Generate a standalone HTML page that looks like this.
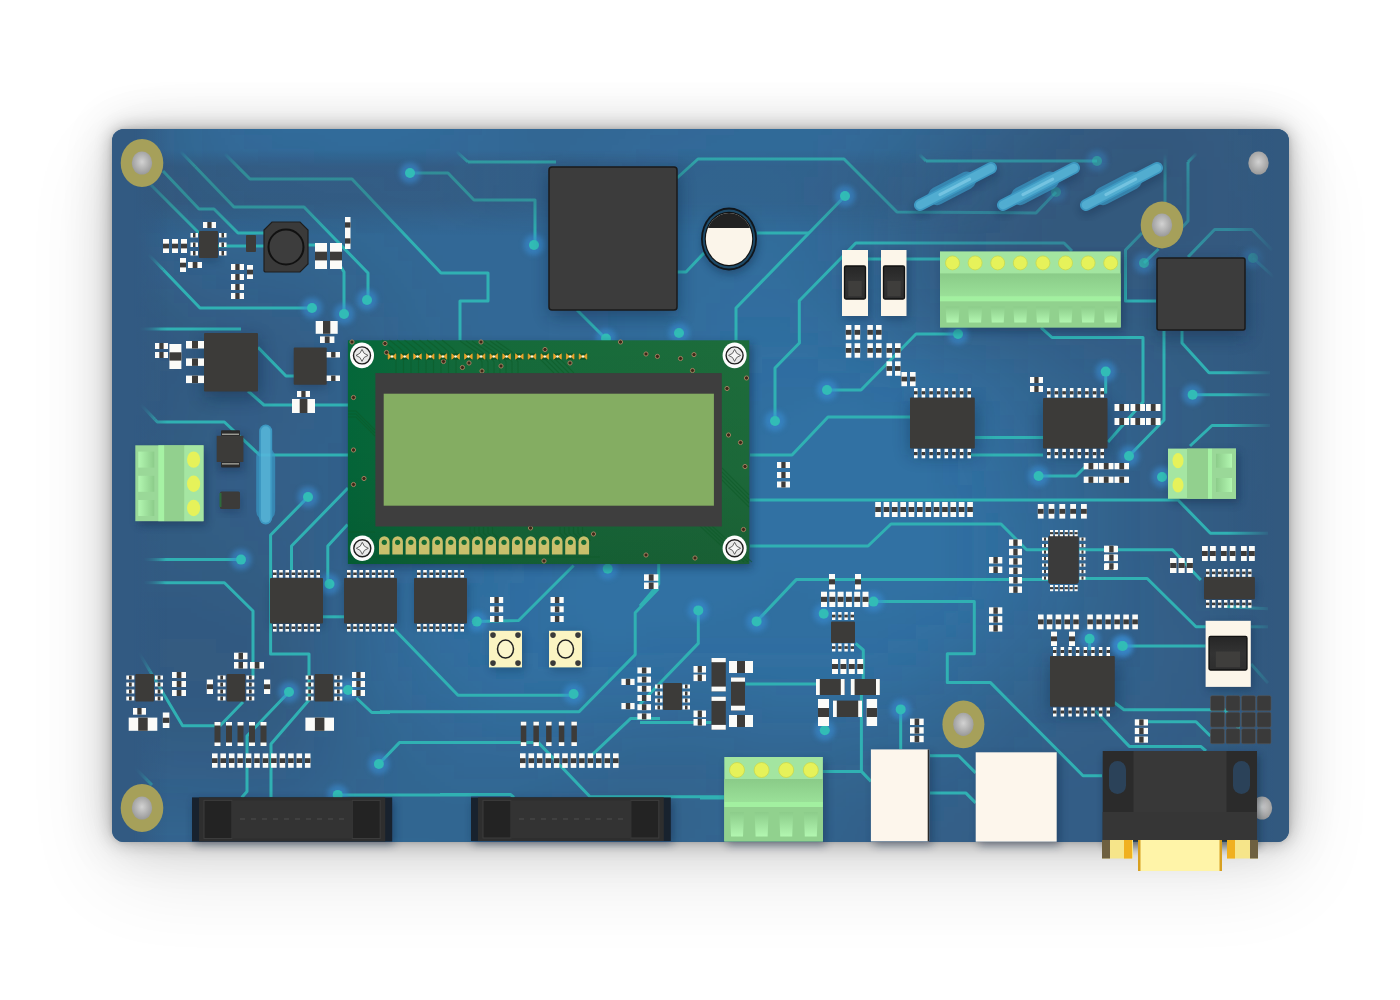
<!DOCTYPE html><html><head><meta charset="utf-8"><style>html,body{margin:0;padding:0;background:#fff;overflow:hidden;width:1400px;height:1000px;}svg{display:block}</style></head><body>
<svg width="1400" height="1000" viewBox="0 0 1400 1000">
<defs>
<filter id="glow" x="-1" y="-1" width="3" height="3"><feGaussianBlur stdDeviation="2.5"/></filter>
<filter id="blur12" x="0" y="0" width="1400" height="1000" filterUnits="userSpaceOnUse"><feGaussianBlur stdDeviation="9"/></filter>
<filter id="soft" x="-1" y="-1" width="3" height="3"><feGaussianBlur stdDeviation="0.7"/></filter>
<filter id="sh" x="-0.3" y="-0.3" width="1.6" height="1.6"><feGaussianBlur stdDeviation="4"/></filter>
<filter id="shb" x="-0.5" y="-0.5" width="2" height="2"><feGaussianBlur stdDeviation="9"/></filter>
<filter id="bsh" x="-0.2" y="-0.2" width="1.4" height="1.4"><feGaussianBlur stdDeviation="9"/></filter>
<filter id="bsh3" x="-0.3" y="-0.3" width="1.6" height="1.6"><feGaussianBlur stdDeviation="25"/></filter>
<filter id="bsh4" x="-0.3" y="-0.3" width="1.6" height="1.6"><feGaussianBlur stdDeviation="45"/></filter>
<filter id="bsh2" x="-0.2" y="-0.2" width="1.4" height="1.4"><feGaussianBlur stdDeviation="2.5"/></filter>
<radialGradient id="hole" cx="0.5" cy="0.45" r="0.55"><stop offset="0" stop-color="#d2d2d2"/><stop offset="1" stop-color="#9a9a9a"/></radialGradient>
<linearGradient id="bshade" x1="0" y1="0" x2="0" y2="1">
 <stop offset="0" stop-color="#1f4a78" stop-opacity="0.0"/>
 <stop offset="0.02" stop-color="#1f4a78" stop-opacity="0.15"/>
 <stop offset="0.12" stop-color="#1f4a78" stop-opacity="0.25"/>
 <stop offset="0.3" stop-color="#1f4a78" stop-opacity="0.0"/>
</linearGradient>
<linearGradient id="shL" x1="112" y1="0" x2="1289" y2="0" gradientUnits="userSpaceOnUse">
 <stop offset="0" stop-color="#1d3a5c" stop-opacity="0.30"/>
 <stop offset="0.04" stop-color="#1d3a5c" stop-opacity="0.14"/>
 <stop offset="0.18" stop-color="#1d3a5c" stop-opacity="0.05"/>
 <stop offset="0.35" stop-color="#1d3a5c" stop-opacity="0"/>
</linearGradient>
<linearGradient id="shR" x1="112" y1="0" x2="1289" y2="0" gradientUnits="userSpaceOnUse">
 <stop offset="0.80" stop-color="#1d3a5c" stop-opacity="0"/>
 <stop offset="0.92" stop-color="#1d3a5c" stop-opacity="0.22"/>
 <stop offset="1" stop-color="#1d3a5c" stop-opacity="0.30"/>
</linearGradient>
<linearGradient id="shT" x1="0" y1="129" x2="0" y2="842" gradientUnits="userSpaceOnUse">
 <stop offset="0" stop-color="#1d3a5c" stop-opacity="0.0"/>
 <stop offset="0.025" stop-color="#1d3a5c" stop-opacity="0.12"/>
 <stop offset="0.06" stop-color="#1d3a5c" stop-opacity="0.28"/>
 <stop offset="0.12" stop-color="#1d3a5c" stop-opacity="0.12"/>
 <stop offset="0.2" stop-color="#1d3a5c" stop-opacity="0.0"/>
</linearGradient>
<linearGradient id="fadeR" x1="1228" y1="0" x2="1289" y2="0" gradientUnits="userSpaceOnUse"><stop offset="0" stop-color="#32597f" stop-opacity="0"/><stop offset="0.75" stop-color="#32597f" stop-opacity="1"/></linearGradient>
<linearGradient id="fadeL" x1="112" y1="0" x2="167" y2="0" gradientUnits="userSpaceOnUse"><stop offset="0.4" stop-color="#325a82" stop-opacity="1"/><stop offset="1" stop-color="#325a82" stop-opacity="0"/></linearGradient>
<linearGradient id="recV" x1="0" y1="0" x2="0" y2="1"><stop offset="0" stop-color="#8ccc8a"/><stop offset="1" stop-color="#b2f6b0"/></linearGradient>
<linearGradient id="recH" x1="1" y1="0" x2="0" y2="0"><stop offset="0" stop-color="#8ccc8a"/><stop offset="1" stop-color="#b2f6b0"/></linearGradient>
<linearGradient id="recH2" x1="0" y1="0" x2="1" y2="0"><stop offset="0" stop-color="#8ccc8a"/><stop offset="1" stop-color="#b2f6b0"/></linearGradient>
<linearGradient id="tbmid" x1="0" y1="0" x2="0" y2="1"><stop offset="0" stop-color="#8acb88"/><stop offset="1" stop-color="#9ae098"/></linearGradient>
<linearGradient id="bandV" x1="0" y1="150" x2="0" y2="235" gradientUnits="userSpaceOnUse"><stop offset="0" stop-color="#34445f" stop-opacity="0"/><stop offset="0.2" stop-color="#34445f" stop-opacity="0.33"/><stop offset="0.6" stop-color="#34445f" stop-opacity="0.33"/><stop offset="1" stop-color="#34445f" stop-opacity="0"/></linearGradient>
<linearGradient id="bandH" x1="112" y1="0" x2="1012" y2="0" gradientUnits="userSpaceOnUse"><stop offset="0" stop-color="#fff"/><stop offset="0.35" stop-color="#fff"/><stop offset="0.6" stop-color="#999"/><stop offset="0.85" stop-color="#999"/><stop offset="1" stop-color="#000"/></linearGradient>
<mask id="bandmask" maskUnits="userSpaceOnUse" x="112" y="129" width="900" height="150"><rect x="112" y="129" width="900" height="150" fill="url(#bandH)"/></mask>
<mask id="trmask" maskUnits="userSpaceOnUse" x="0" y="0" width="1400" height="1000"><rect x="0" y="0" width="1400" height="1000" fill="#fff"/><ellipse cx="1090" cy="205" rx="210" ry="62" fill="#000" opacity="0.55" filter="url(#bsh3)"/></mask>
<linearGradient id="knob" x1="0" y1="0" x2="0" y2="1"><stop offset="0" stop-color="#262626"/><stop offset="0.5" stop-color="#333"/><stop offset="1" stop-color="#2e2e2e"/></linearGradient>
<linearGradient id="lcdg" x1="0" y1="0" x2="1" y2="0"><stop offset="0" stop-color="#04683a"/><stop offset="0.3" stop-color="#146a3a"/><stop offset="1" stop-color="#1d6c3b"/></linearGradient>
<linearGradient id="lcdv" x1="0" y1="0" x2="0" y2="1"><stop offset="0" stop-color="#000" stop-opacity="0"/><stop offset="0.6" stop-color="#000" stop-opacity="0.04"/><stop offset="1" stop-color="#000" stop-opacity="0.12"/></linearGradient>
</defs>
<rect x="112" y="129" width="1177" height="713" rx="12" fill="#000" opacity="0.10" filter="url(#bsh4)" transform="translate(0,30)"/>
<rect x="112" y="129" width="1177" height="713" rx="12" fill="#000" opacity="0.18" filter="url(#bsh3)"/>
<rect x="112" y="129" width="1177" height="713" rx="12" fill="#000" opacity="0.26" filter="url(#bsh)"/>
<rect x="112" y="129" width="1177" height="713" rx="12" fill="#000" opacity="0.12" filter="url(#bsh2)"/>
<clipPath id="bclip"><rect x="112" y="129" width="1177" height="713" rx="12"/></clipPath>
<rect x="112" y="129" width="1177" height="713" rx="12" fill="#3171a3"/>
<g clip-path="url(#bclip)"><g fill="#34445f" filter="url(#blur12)"><path fill-opacity="0.017" d="M762 387h14v14h-14zM776 387h14v14h-14zM790 387h14v14h-14zM804 387h14v14h-14zM818 387h14v14h-14zM832 387h14v14h-14zM846 387h14v14h-14zM860 387h14v14h-14zM748 401h14v14h-14zM762 401h14v14h-14zM776 401h14v14h-14zM790 401h14v14h-14zM860 401h14v14h-14zM874 401h14v14h-14zM888 401h14v14h-14zM734 415h14v14h-14zM748 415h14v14h-14zM762 415h14v14h-14zM902 415h14v14h-14zM706 429h14v14h-14zM720 429h14v14h-14zM734 429h14v14h-14zM748 429h14v14h-14zM916 429h14v14h-14zM678 443h14v14h-14zM692 443h14v14h-14zM706 443h14v14h-14zM720 443h14v14h-14zM734 443h14v14h-14zM748 443h14v14h-14zM916 443h14v14h-14zM930 443h14v14h-14zM622 457h14v14h-14zM636 457h14v14h-14zM650 457h14v14h-14zM664 457h14v14h-14zM678 457h14v14h-14zM692 457h14v14h-14zM706 457h14v14h-14zM720 457h14v14h-14zM734 457h14v14h-14zM930 457h14v14h-14zM608 471h14v14h-14zM622 471h14v14h-14zM636 471h14v14h-14zM650 471h14v14h-14zM664 471h14v14h-14zM678 471h14v14h-14zM692 471h14v14h-14zM706 471h14v14h-14zM720 471h14v14h-14zM930 471h14v14h-14zM594 485h14v14h-14zM608 485h14v14h-14zM622 485h14v14h-14zM930 485h14v14h-14zM944 485h14v14h-14zM580 499h14v14h-14zM594 499h14v14h-14zM944 499h14v14h-14zM566 513h14v14h-14zM580 513h14v14h-14zM944 513h14v14h-14zM566 527h14v14h-14zM580 527h14v14h-14zM944 527h14v14h-14zM566 541h14v14h-14zM944 541h14v14h-14zM552 555h14v14h-14zM566 555h14v14h-14zM944 555h14v14h-14zM552 569h14v14h-14zM566 569h14v14h-14zM776 569h14v14h-14zM944 569h14v14h-14zM538 583h14v14h-14zM552 583h14v14h-14zM762 583h14v14h-14zM776 583h14v14h-14zM790 583h14v14h-14zM804 583h14v14h-14zM930 583h14v14h-14zM944 583h14v14h-14zM538 597h14v14h-14zM552 597h14v14h-14zM734 597h14v14h-14zM748 597h14v14h-14zM762 597h14v14h-14zM776 597h14v14h-14zM790 597h14v14h-14zM804 597h14v14h-14zM818 597h14v14h-14zM902 597h14v14h-14zM916 597h14v14h-14zM930 597h14v14h-14zM538 611h14v14h-14zM552 611h14v14h-14zM566 611h14v14h-14zM706 611h14v14h-14zM720 611h14v14h-14zM734 611h14v14h-14zM748 611h14v14h-14zM762 611h14v14h-14zM776 611h14v14h-14zM790 611h14v14h-14zM804 611h14v14h-14zM818 611h14v14h-14zM832 611h14v14h-14zM846 611h14v14h-14zM860 611h14v14h-14zM874 611h14v14h-14zM888 611h14v14h-14zM902 611h14v14h-14zM538 625h14v14h-14zM552 625h14v14h-14zM566 625h14v14h-14zM580 625h14v14h-14zM636 625h14v14h-14zM650 625h14v14h-14zM664 625h14v14h-14zM678 625h14v14h-14zM692 625h14v14h-14zM706 625h14v14h-14zM720 625h14v14h-14zM734 625h14v14h-14zM748 625h14v14h-14zM762 625h14v14h-14zM776 625h14v14h-14zM790 625h14v14h-14zM804 625h14v14h-14zM818 625h14v14h-14zM832 625h14v14h-14zM846 625h14v14h-14zM860 625h14v14h-14zM874 625h14v14h-14zM552 639h14v14h-14zM566 639h14v14h-14zM580 639h14v14h-14zM594 639h14v14h-14zM608 639h14v14h-14zM622 639h14v14h-14zM636 639h14v14h-14z"/><path fill-opacity="0.033" d="M762 359h14v14h-14zM776 359h14v14h-14zM790 359h14v14h-14zM804 359h14v14h-14zM748 373h14v14h-14zM762 373h14v14h-14zM776 373h14v14h-14zM790 373h14v14h-14zM804 373h14v14h-14zM818 373h14v14h-14zM832 373h14v14h-14zM846 373h14v14h-14zM734 387h14v14h-14zM748 387h14v14h-14zM874 387h14v14h-14zM888 387h14v14h-14zM706 401h14v14h-14zM720 401h14v14h-14zM734 401h14v14h-14zM902 401h14v14h-14zM692 415h14v14h-14zM706 415h14v14h-14zM720 415h14v14h-14zM916 415h14v14h-14zM650 429h14v14h-14zM664 429h14v14h-14zM678 429h14v14h-14zM692 429h14v14h-14zM930 429h14v14h-14zM608 443h14v14h-14zM622 443h14v14h-14zM636 443h14v14h-14zM650 443h14v14h-14zM664 443h14v14h-14zM944 443h14v14h-14zM594 457h14v14h-14zM608 457h14v14h-14zM944 457h14v14h-14zM580 471h14v14h-14zM594 471h14v14h-14zM944 471h14v14h-14zM566 485h14v14h-14zM580 485h14v14h-14zM958 485h14v14h-14zM552 499h14v14h-14zM566 499h14v14h-14zM958 499h14v14h-14zM552 513h14v14h-14zM958 513h14v14h-14zM538 527h14v14h-14zM552 527h14v14h-14zM958 527h14v14h-14zM538 541h14v14h-14zM552 541h14v14h-14zM958 541h14v14h-14zM524 555h14v14h-14zM538 555h14v14h-14zM958 555h14v14h-14zM524 569h14v14h-14zM538 569h14v14h-14zM958 569h14v14h-14zM510 583h14v14h-14zM524 583h14v14h-14zM958 583h14v14h-14zM510 597h14v14h-14zM524 597h14v14h-14zM944 597h14v14h-14zM510 611h14v14h-14zM524 611h14v14h-14zM916 611h14v14h-14zM930 611h14v14h-14zM510 625h14v14h-14zM524 625h14v14h-14zM888 625h14v14h-14zM902 625h14v14h-14zM510 639h14v14h-14zM524 639h14v14h-14zM538 639h14v14h-14zM650 639h14v14h-14zM664 639h14v14h-14zM678 639h14v14h-14zM692 639h14v14h-14zM706 639h14v14h-14zM720 639h14v14h-14zM734 639h14v14h-14zM748 639h14v14h-14zM762 639h14v14h-14zM776 639h14v14h-14zM790 639h14v14h-14zM804 639h14v14h-14zM818 639h14v14h-14zM832 639h14v14h-14zM846 639h14v14h-14zM860 639h14v14h-14zM874 639h14v14h-14zM538 653h14v14h-14zM552 653h14v14h-14zM566 653h14v14h-14zM580 653h14v14h-14zM594 653h14v14h-14zM608 653h14v14h-14zM622 653h14v14h-14z"/><path fill-opacity="0.050" d="M748 345h14v14h-14zM762 345h14v14h-14zM776 345h14v14h-14zM790 345h14v14h-14zM804 345h14v14h-14zM734 359h14v14h-14zM748 359h14v14h-14zM818 359h14v14h-14zM832 359h14v14h-14zM720 373h14v14h-14zM734 373h14v14h-14zM860 373h14v14h-14zM874 373h14v14h-14zM692 387h14v14h-14zM706 387h14v14h-14zM720 387h14v14h-14zM902 387h14v14h-14zM678 401h14v14h-14zM692 401h14v14h-14zM916 401h14v14h-14zM650 415h14v14h-14zM664 415h14v14h-14zM678 415h14v14h-14zM930 415h14v14h-14zM608 429h14v14h-14zM622 429h14v14h-14zM636 429h14v14h-14zM944 429h14v14h-14zM580 443h14v14h-14zM594 443h14v14h-14zM566 457h14v14h-14zM580 457h14v14h-14zM958 457h14v14h-14zM552 471h14v14h-14zM566 471h14v14h-14zM958 471h14v14h-14zM552 485h14v14h-14zM538 499h14v14h-14zM972 499h14v14h-14zM538 513h14v14h-14zM972 513h14v14h-14zM524 527h14v14h-14zM972 527h14v14h-14zM524 541h14v14h-14zM972 541h14v14h-14zM510 555h14v14h-14zM972 555h14v14h-14zM496 569h14v14h-14zM510 569h14v14h-14zM972 569h14v14h-14zM496 583h14v14h-14zM972 583h14v14h-14zM482 597h14v14h-14zM496 597h14v14h-14zM958 597h14v14h-14zM482 611h14v14h-14zM496 611h14v14h-14zM944 611h14v14h-14zM482 625h14v14h-14zM496 625h14v14h-14zM916 625h14v14h-14zM930 625h14v14h-14zM482 639h14v14h-14zM496 639h14v14h-14zM888 639h14v14h-14zM902 639h14v14h-14zM496 653h14v14h-14zM510 653h14v14h-14zM524 653h14v14h-14zM636 653h14v14h-14zM650 653h14v14h-14zM664 653h14v14h-14zM678 653h14v14h-14zM692 653h14v14h-14zM706 653h14v14h-14zM720 653h14v14h-14zM734 653h14v14h-14zM748 653h14v14h-14zM762 653h14v14h-14zM776 653h14v14h-14zM790 653h14v14h-14zM804 653h14v14h-14zM818 653h14v14h-14zM832 653h14v14h-14zM846 653h14v14h-14zM860 653h14v14h-14zM874 653h14v14h-14zM524 667h14v14h-14zM538 667h14v14h-14zM552 667h14v14h-14zM566 667h14v14h-14zM580 667h14v14h-14zM594 667h14v14h-14z"/><path fill-opacity="0.067" d="M734 317h14v14h-14zM748 317h14v14h-14zM762 317h14v14h-14zM776 317h14v14h-14zM720 331h14v14h-14zM734 331h14v14h-14zM748 331h14v14h-14zM762 331h14v14h-14zM776 331h14v14h-14zM790 331h14v14h-14zM804 331h14v14h-14zM706 345h14v14h-14zM720 345h14v14h-14zM734 345h14v14h-14zM818 345h14v14h-14zM832 345h14v14h-14zM706 359h14v14h-14zM720 359h14v14h-14zM846 359h14v14h-14zM860 359h14v14h-14zM692 373h14v14h-14zM706 373h14v14h-14zM888 373h14v14h-14zM664 387h14v14h-14zM678 387h14v14h-14zM916 387h14v14h-14zM650 401h14v14h-14zM664 401h14v14h-14zM930 401h14v14h-14zM622 415h14v14h-14zM636 415h14v14h-14zM944 415h14v14h-14zM594 429h14v14h-14zM958 429h14v14h-14zM566 443h14v14h-14zM958 443h14v14h-14zM552 457h14v14h-14zM538 471h14v14h-14zM972 471h14v14h-14zM538 485h14v14h-14zM972 485h14v14h-14zM524 499h14v14h-14zM510 513h14v14h-14zM524 513h14v14h-14zM986 513h14v14h-14zM510 527h14v14h-14zM986 527h14v14h-14zM496 541h14v14h-14zM510 541h14v14h-14zM986 541h14v14h-14zM482 555h14v14h-14zM496 555h14v14h-14zM986 555h14v14h-14zM482 569h14v14h-14zM986 569h14v14h-14zM468 583h14v14h-14zM482 583h14v14h-14zM468 597h14v14h-14zM972 597h14v14h-14zM454 611h14v14h-14zM468 611h14v14h-14zM958 611h14v14h-14zM454 625h14v14h-14zM468 625h14v14h-14zM944 625h14v14h-14zM468 639h14v14h-14zM916 639h14v14h-14zM468 653h14v14h-14zM482 653h14v14h-14zM888 653h14v14h-14zM902 653h14v14h-14zM496 667h14v14h-14zM510 667h14v14h-14zM608 667h14v14h-14zM622 667h14v14h-14zM636 667h14v14h-14zM650 667h14v14h-14zM748 667h14v14h-14zM762 667h14v14h-14zM776 667h14v14h-14zM790 667h14v14h-14zM804 667h14v14h-14zM818 667h14v14h-14zM832 667h14v14h-14zM846 667h14v14h-14zM860 667h14v14h-14zM524 681h14v14h-14zM538 681h14v14h-14zM552 681h14v14h-14zM566 681h14v14h-14z"/><path fill-opacity="0.083" d="M734 275h14v14h-14zM748 275h14v14h-14zM720 289h14v14h-14zM734 289h14v14h-14zM748 289h14v14h-14zM762 289h14v14h-14zM776 289h14v14h-14zM706 303h14v14h-14zM720 303h14v14h-14zM734 303h14v14h-14zM748 303h14v14h-14zM762 303h14v14h-14zM776 303h14v14h-14zM790 303h14v14h-14zM706 317h14v14h-14zM720 317h14v14h-14zM790 317h14v14h-14zM804 317h14v14h-14zM692 331h14v14h-14zM706 331h14v14h-14zM818 331h14v14h-14zM692 345h14v14h-14zM846 345h14v14h-14zM678 359h14v14h-14zM692 359h14v14h-14zM874 359h14v14h-14zM664 373h14v14h-14zM678 373h14v14h-14zM902 373h14v14h-14zM650 387h14v14h-14zM930 387h14v14h-14zM622 401h14v14h-14zM636 401h14v14h-14zM944 401h14v14h-14zM594 415h14v14h-14zM608 415h14v14h-14zM958 415h14v14h-14zM566 429h14v14h-14zM580 429h14v14h-14zM552 443h14v14h-14zM972 443h14v14h-14zM538 457h14v14h-14zM972 457h14v14h-14zM524 471h14v14h-14zM986 471h14v14h-14zM524 485h14v14h-14zM986 485h14v14h-14zM510 499h14v14h-14zM986 499h14v14h-14zM496 513h14v14h-14zM496 527h14v14h-14zM1000 527h14v14h-14zM482 541h14v14h-14zM1000 541h14v14h-14zM468 555h14v14h-14zM1000 555h14v14h-14zM454 569h14v14h-14zM468 569h14v14h-14zM1000 569h14v14h-14zM454 583h14v14h-14zM986 583h14v14h-14zM440 597h14v14h-14zM454 597h14v14h-14zM986 597h14v14h-14zM440 611h14v14h-14zM972 611h14v14h-14zM440 625h14v14h-14zM958 625h14v14h-14zM440 639h14v14h-14zM454 639h14v14h-14zM930 639h14v14h-14zM454 653h14v14h-14zM916 653h14v14h-14zM468 667h14v14h-14zM482 667h14v14h-14zM664 667h14v14h-14zM678 667h14v14h-14zM692 667h14v14h-14zM706 667h14v14h-14zM720 667h14v14h-14zM734 667h14v14h-14zM874 667h14v14h-14zM888 667h14v14h-14zM482 681h14v14h-14zM496 681h14v14h-14zM510 681h14v14h-14zM580 681h14v14h-14zM594 681h14v14h-14zM608 681h14v14h-14zM622 681h14v14h-14zM776 681h14v14h-14zM790 681h14v14h-14zM804 681h14v14h-14zM818 681h14v14h-14zM832 681h14v14h-14z"/><path fill-opacity="0.100" d="M286 79h14v14h-14zM300 79h14v14h-14zM314 79h14v14h-14zM328 79h14v14h-14zM342 79h14v14h-14zM356 79h14v14h-14zM370 79h14v14h-14zM384 79h14v14h-14zM398 79h14v14h-14zM300 93h14v14h-14zM314 93h14v14h-14zM328 93h14v14h-14zM342 93h14v14h-14zM356 93h14v14h-14zM370 93h14v14h-14zM720 233h14v14h-14zM734 233h14v14h-14zM692 247h14v14h-14zM706 247h14v14h-14zM720 247h14v14h-14zM734 247h14v14h-14zM748 247h14v14h-14zM762 247h14v14h-14zM692 261h14v14h-14zM706 261h14v14h-14zM720 261h14v14h-14zM734 261h14v14h-14zM748 261h14v14h-14zM762 261h14v14h-14zM776 261h14v14h-14zM678 275h14v14h-14zM692 275h14v14h-14zM706 275h14v14h-14zM720 275h14v14h-14zM762 275h14v14h-14zM776 275h14v14h-14zM678 289h14v14h-14zM692 289h14v14h-14zM706 289h14v14h-14zM790 289h14v14h-14zM678 303h14v14h-14zM692 303h14v14h-14zM804 303h14v14h-14zM678 317h14v14h-14zM692 317h14v14h-14zM818 317h14v14h-14zM664 331h14v14h-14zM678 331h14v14h-14zM832 331h14v14h-14zM664 345h14v14h-14zM678 345h14v14h-14zM860 345h14v14h-14zM650 359h14v14h-14zM664 359h14v14h-14zM888 359h14v14h-14zM636 373h14v14h-14zM650 373h14v14h-14zM916 373h14v14h-14zM622 387h14v14h-14zM636 387h14v14h-14zM944 387h14v14h-14zM594 401h14v14h-14zM608 401h14v14h-14zM958 401h14v14h-14zM580 415h14v14h-14zM552 429h14v14h-14zM972 429h14v14h-14zM538 443h14v14h-14zM524 457h14v14h-14zM986 457h14v14h-14zM510 471h14v14h-14zM510 485h14v14h-14zM496 499h14v14h-14zM1000 499h14v14h-14zM482 513h14v14h-14zM1000 513h14v14h-14zM468 527h14v14h-14zM482 527h14v14h-14zM468 541h14v14h-14zM454 555h14v14h-14zM440 569h14v14h-14zM440 583h14v14h-14zM1000 583h14v14h-14zM426 597h14v14h-14zM426 611h14v14h-14zM426 625h14v14h-14zM426 639h14v14h-14zM944 639h14v14h-14zM440 653h14v14h-14zM930 653h14v14h-14zM454 667h14v14h-14zM902 667h14v14h-14zM468 681h14v14h-14zM636 681h14v14h-14zM650 681h14v14h-14zM664 681h14v14h-14zM720 681h14v14h-14zM734 681h14v14h-14zM748 681h14v14h-14zM762 681h14v14h-14zM846 681h14v14h-14zM860 681h14v14h-14zM496 695h14v14h-14zM510 695h14v14h-14zM524 695h14v14h-14zM538 695h14v14h-14zM552 695h14v14h-14zM566 695h14v14h-14zM580 695h14v14h-14z"/><path fill-opacity="0.117" d="M258 79h14v14h-14zM272 79h14v14h-14zM412 79h14v14h-14zM426 79h14v14h-14zM272 93h14v14h-14zM286 93h14v14h-14zM384 93h14v14h-14zM398 93h14v14h-14zM412 93h14v14h-14zM286 107h14v14h-14zM300 107h14v14h-14zM314 107h14v14h-14zM328 107h14v14h-14zM342 107h14v14h-14zM356 107h14v14h-14zM370 107h14v14h-14zM384 107h14v14h-14zM398 107h14v14h-14zM692 205h14v14h-14zM706 205h14v14h-14zM720 205h14v14h-14zM734 205h14v14h-14zM748 205h14v14h-14zM678 219h14v14h-14zM692 219h14v14h-14zM706 219h14v14h-14zM720 219h14v14h-14zM734 219h14v14h-14zM748 219h14v14h-14zM762 219h14v14h-14zM664 233h14v14h-14zM678 233h14v14h-14zM692 233h14v14h-14zM706 233h14v14h-14zM748 233h14v14h-14zM762 233h14v14h-14zM776 233h14v14h-14zM664 247h14v14h-14zM678 247h14v14h-14zM776 247h14v14h-14zM650 261h14v14h-14zM664 261h14v14h-14zM678 261h14v14h-14zM790 261h14v14h-14zM650 275h14v14h-14zM664 275h14v14h-14zM790 275h14v14h-14zM650 289h14v14h-14zM664 289h14v14h-14zM804 289h14v14h-14zM650 303h14v14h-14zM664 303h14v14h-14zM818 303h14v14h-14zM650 317h14v14h-14zM664 317h14v14h-14zM832 317h14v14h-14zM650 331h14v14h-14zM846 331h14v14h-14zM636 345h14v14h-14zM650 345h14v14h-14zM874 345h14v14h-14zM636 359h14v14h-14zM902 359h14v14h-14zM622 373h14v14h-14zM930 373h14v14h-14zM594 387h14v14h-14zM608 387h14v14h-14zM580 401h14v14h-14zM552 415h14v14h-14zM566 415h14v14h-14zM972 415h14v14h-14zM538 429h14v14h-14zM986 429h14v14h-14zM524 443h14v14h-14zM986 443h14v14h-14zM510 457h14v14h-14zM496 471h14v14h-14zM1000 471h14v14h-14zM496 485h14v14h-14zM1000 485h14v14h-14zM482 499h14v14h-14zM468 513h14v14h-14zM1014 513h14v14h-14zM454 527h14v14h-14zM1014 527h14v14h-14zM454 541h14v14h-14zM1014 541h14v14h-14zM440 555h14v14h-14zM1014 555h14v14h-14zM426 569h14v14h-14zM1014 569h14v14h-14zM426 583h14v14h-14zM412 597h14v14h-14zM1000 597h14v14h-14zM412 611h14v14h-14zM986 611h14v14h-14zM412 625h14v14h-14zM972 625h14v14h-14zM412 639h14v14h-14zM958 639h14v14h-14zM426 653h14v14h-14zM944 653h14v14h-14zM426 667h14v14h-14zM440 667h14v14h-14zM916 667h14v14h-14zM440 681h14v14h-14zM454 681h14v14h-14zM678 681h14v14h-14zM692 681h14v14h-14zM706 681h14v14h-14zM874 681h14v14h-14zM888 681h14v14h-14zM468 695h14v14h-14zM482 695h14v14h-14zM594 695h14v14h-14zM608 695h14v14h-14zM622 695h14v14h-14zM762 695h14v14h-14zM776 695h14v14h-14zM790 695h14v14h-14zM804 695h14v14h-14zM818 695h14v14h-14zM832 695h14v14h-14zM496 709h14v14h-14zM510 709h14v14h-14zM524 709h14v14h-14zM538 709h14v14h-14zM552 709h14v14h-14z"/><path fill-opacity="0.133" d="M244 79h14v14h-14zM440 79h14v14h-14zM818 79h14v14h-14zM832 79h14v14h-14zM258 93h14v14h-14zM426 93h14v14h-14zM440 93h14v14h-14zM258 107h14v14h-14zM272 107h14v14h-14zM412 107h14v14h-14zM426 107h14v14h-14zM272 121h14v14h-14zM286 121h14v14h-14zM300 121h14v14h-14zM314 121h14v14h-14zM328 121h14v14h-14zM342 121h14v14h-14zM356 121h14v14h-14zM370 121h14v14h-14zM384 121h14v14h-14zM398 121h14v14h-14zM412 121h14v14h-14zM328 135h14v14h-14zM342 135h14v14h-14zM356 135h14v14h-14zM370 135h14v14h-14zM384 135h14v14h-14zM706 163h14v14h-14zM720 163h14v14h-14zM734 163h14v14h-14zM748 163h14v14h-14zM762 163h14v14h-14zM678 177h14v14h-14zM692 177h14v14h-14zM706 177h14v14h-14zM720 177h14v14h-14zM734 177h14v14h-14zM748 177h14v14h-14zM762 177h14v14h-14zM776 177h14v14h-14zM664 191h14v14h-14zM678 191h14v14h-14zM692 191h14v14h-14zM706 191h14v14h-14zM720 191h14v14h-14zM734 191h14v14h-14zM748 191h14v14h-14zM762 191h14v14h-14zM776 191h14v14h-14zM650 205h14v14h-14zM664 205h14v14h-14zM678 205h14v14h-14zM762 205h14v14h-14zM776 205h14v14h-14zM636 219h14v14h-14zM650 219h14v14h-14zM664 219h14v14h-14zM776 219h14v14h-14zM790 219h14v14h-14zM636 233h14v14h-14zM650 233h14v14h-14zM790 233h14v14h-14zM622 247h14v14h-14zM636 247h14v14h-14zM650 247h14v14h-14zM790 247h14v14h-14zM622 261h14v14h-14zM636 261h14v14h-14zM804 261h14v14h-14zM622 275h14v14h-14zM636 275h14v14h-14zM804 275h14v14h-14zM622 289h14v14h-14zM636 289h14v14h-14zM818 289h14v14h-14zM622 303h14v14h-14zM636 303h14v14h-14zM832 303h14v14h-14zM622 317h14v14h-14zM636 317h14v14h-14zM846 317h14v14h-14zM622 331h14v14h-14zM636 331h14v14h-14zM860 331h14v14h-14zM622 345h14v14h-14zM888 345h14v14h-14zM608 359h14v14h-14zM622 359h14v14h-14zM916 359h14v14h-14zM594 373h14v14h-14zM608 373h14v14h-14zM944 373h14v14h-14zM580 387h14v14h-14zM958 387h14v14h-14zM566 401h14v14h-14zM972 401h14v14h-14zM538 415h14v14h-14zM986 415h14v14h-14zM524 429h14v14h-14zM510 443h14v14h-14zM1000 443h14v14h-14zM496 457h14v14h-14zM1000 457h14v14h-14zM482 471h14v14h-14zM482 485h14v14h-14zM1014 485h14v14h-14zM468 499h14v14h-14zM1014 499h14v14h-14zM454 513h14v14h-14zM440 527h14v14h-14zM440 541h14v14h-14zM426 555h14v14h-14zM412 569h14v14h-14zM412 583h14v14h-14zM1014 583h14v14h-14zM1000 611h14v14h-14zM986 625h14v14h-14zM972 639h14v14h-14zM412 653h14v14h-14zM930 667h14v14h-14zM426 681h14v14h-14zM902 681h14v14h-14zM454 695h14v14h-14zM636 695h14v14h-14zM650 695h14v14h-14zM664 695h14v14h-14zM706 695h14v14h-14zM720 695h14v14h-14zM734 695h14v14h-14zM748 695h14v14h-14zM846 695h14v14h-14zM860 695h14v14h-14zM468 709h14v14h-14zM482 709h14v14h-14zM566 709h14v14h-14zM580 709h14v14h-14z"/><path fill-opacity="0.150" d="M230 79h14v14h-14zM454 79h14v14h-14zM776 79h14v14h-14zM790 79h14v14h-14zM804 79h14v14h-14zM846 79h14v14h-14zM860 79h14v14h-14zM244 93h14v14h-14zM454 93h14v14h-14zM762 93h14v14h-14zM776 93h14v14h-14zM790 93h14v14h-14zM804 93h14v14h-14zM818 93h14v14h-14zM832 93h14v14h-14zM846 93h14v14h-14zM244 107h14v14h-14zM440 107h14v14h-14zM454 107h14v14h-14zM762 107h14v14h-14zM776 107h14v14h-14zM790 107h14v14h-14zM804 107h14v14h-14zM818 107h14v14h-14zM832 107h14v14h-14zM244 121h14v14h-14zM258 121h14v14h-14zM426 121h14v14h-14zM440 121h14v14h-14zM734 121h14v14h-14zM748 121h14v14h-14zM762 121h14v14h-14zM776 121h14v14h-14zM790 121h14v14h-14zM804 121h14v14h-14zM818 121h14v14h-14zM272 135h14v14h-14zM286 135h14v14h-14zM300 135h14v14h-14zM314 135h14v14h-14zM398 135h14v14h-14zM412 135h14v14h-14zM426 135h14v14h-14zM706 135h14v14h-14zM720 135h14v14h-14zM734 135h14v14h-14zM748 135h14v14h-14zM762 135h14v14h-14zM776 135h14v14h-14zM790 135h14v14h-14zM804 135h14v14h-14zM314 149h14v14h-14zM328 149h14v14h-14zM342 149h14v14h-14zM356 149h14v14h-14zM370 149h14v14h-14zM384 149h14v14h-14zM398 149h14v14h-14zM412 149h14v14h-14zM678 149h14v14h-14zM692 149h14v14h-14zM706 149h14v14h-14zM720 149h14v14h-14zM734 149h14v14h-14zM748 149h14v14h-14zM762 149h14v14h-14zM776 149h14v14h-14zM790 149h14v14h-14zM804 149h14v14h-14zM650 163h14v14h-14zM664 163h14v14h-14zM678 163h14v14h-14zM692 163h14v14h-14zM776 163h14v14h-14zM790 163h14v14h-14zM804 163h14v14h-14zM636 177h14v14h-14zM650 177h14v14h-14zM664 177h14v14h-14zM790 177h14v14h-14zM622 191h14v14h-14zM636 191h14v14h-14zM650 191h14v14h-14zM790 191h14v14h-14zM622 205h14v14h-14zM636 205h14v14h-14zM790 205h14v14h-14zM804 205h14v14h-14zM608 219h14v14h-14zM622 219h14v14h-14zM804 219h14v14h-14zM608 233h14v14h-14zM622 233h14v14h-14zM804 233h14v14h-14zM608 247h14v14h-14zM804 247h14v14h-14zM608 261h14v14h-14zM818 261h14v14h-14zM608 275h14v14h-14zM818 275h14v14h-14zM608 289h14v14h-14zM832 289h14v14h-14zM608 303h14v14h-14zM608 317h14v14h-14zM608 331h14v14h-14zM874 331h14v14h-14zM594 345h14v14h-14zM608 345h14v14h-14zM594 359h14v14h-14zM580 373h14v14h-14zM566 387h14v14h-14zM972 387h14v14h-14zM552 401h14v14h-14zM986 401h14v14h-14zM524 415h14v14h-14zM510 429h14v14h-14zM1000 429h14v14h-14zM496 443h14v14h-14zM482 457h14v14h-14zM1014 457h14v14h-14zM1014 471h14v14h-14zM468 485h14v14h-14zM454 499h14v14h-14zM440 513h14v14h-14zM1028 513h14v14h-14zM1028 527h14v14h-14zM426 541h14v14h-14zM1028 541h14v14h-14zM412 555h14v14h-14zM1028 555h14v14h-14zM1028 569h14v14h-14zM398 583h14v14h-14zM398 597h14v14h-14zM1014 597h14v14h-14zM398 611h14v14h-14zM398 625h14v14h-14zM398 639h14v14h-14zM398 653h14v14h-14zM958 653h14v14h-14zM412 667h14v14h-14zM944 667h14v14h-14zM412 681h14v14h-14zM916 681h14v14h-14zM426 695h14v14h-14zM440 695h14v14h-14zM678 695h14v14h-14zM692 695h14v14h-14zM874 695h14v14h-14zM888 695h14v14h-14zM454 709h14v14h-14zM594 709h14v14h-14zM608 709h14v14h-14zM622 709h14v14h-14zM762 709h14v14h-14zM776 709h14v14h-14zM790 709h14v14h-14zM804 709h14v14h-14zM818 709h14v14h-14zM832 709h14v14h-14zM482 723h14v14h-14zM496 723h14v14h-14zM510 723h14v14h-14zM524 723h14v14h-14zM538 723h14v14h-14zM552 723h14v14h-14z"/><path fill-opacity="0.167" d="M216 79h14v14h-14zM468 79h14v14h-14zM482 79h14v14h-14zM734 79h14v14h-14zM748 79h14v14h-14zM762 79h14v14h-14zM874 79h14v14h-14zM888 79h14v14h-14zM230 93h14v14h-14zM468 93h14v14h-14zM720 93h14v14h-14zM734 93h14v14h-14zM748 93h14v14h-14zM860 93h14v14h-14zM874 93h14v14h-14zM230 107h14v14h-14zM468 107h14v14h-14zM706 107h14v14h-14zM720 107h14v14h-14zM734 107h14v14h-14zM748 107h14v14h-14zM846 107h14v14h-14zM860 107h14v14h-14zM230 121h14v14h-14zM454 121h14v14h-14zM468 121h14v14h-14zM678 121h14v14h-14zM692 121h14v14h-14zM706 121h14v14h-14zM720 121h14v14h-14zM832 121h14v14h-14zM846 121h14v14h-14zM244 135h14v14h-14zM258 135h14v14h-14zM440 135h14v14h-14zM454 135h14v14h-14zM650 135h14v14h-14zM664 135h14v14h-14zM678 135h14v14h-14zM692 135h14v14h-14zM818 135h14v14h-14zM832 135h14v14h-14zM258 149h14v14h-14zM272 149h14v14h-14zM286 149h14v14h-14zM300 149h14v14h-14zM426 149h14v14h-14zM440 149h14v14h-14zM454 149h14v14h-14zM636 149h14v14h-14zM650 149h14v14h-14zM664 149h14v14h-14zM818 149h14v14h-14zM300 163h14v14h-14zM314 163h14v14h-14zM328 163h14v14h-14zM342 163h14v14h-14zM356 163h14v14h-14zM370 163h14v14h-14zM384 163h14v14h-14zM398 163h14v14h-14zM412 163h14v14h-14zM426 163h14v14h-14zM440 163h14v14h-14zM622 163h14v14h-14zM636 163h14v14h-14zM818 163h14v14h-14zM384 177h14v14h-14zM398 177h14v14h-14zM412 177h14v14h-14zM426 177h14v14h-14zM608 177h14v14h-14zM622 177h14v14h-14zM804 177h14v14h-14zM818 177h14v14h-14zM594 191h14v14h-14zM608 191h14v14h-14zM804 191h14v14h-14zM818 191h14v14h-14zM594 205h14v14h-14zM608 205h14v14h-14zM818 205h14v14h-14zM594 219h14v14h-14zM818 219h14v14h-14zM580 233h14v14h-14zM594 233h14v14h-14zM818 233h14v14h-14zM580 247h14v14h-14zM594 247h14v14h-14zM818 247h14v14h-14zM580 261h14v14h-14zM594 261h14v14h-14zM580 275h14v14h-14zM594 275h14v14h-14zM832 275h14v14h-14zM580 289h14v14h-14zM594 289h14v14h-14zM580 303h14v14h-14zM594 303h14v14h-14zM846 303h14v14h-14zM580 317h14v14h-14zM594 317h14v14h-14zM860 317h14v14h-14zM580 331h14v14h-14zM594 331h14v14h-14zM580 345h14v14h-14zM902 345h14v14h-14zM566 359h14v14h-14zM580 359h14v14h-14zM930 359h14v14h-14zM552 373h14v14h-14zM566 373h14v14h-14zM958 373h14v14h-14zM538 387h14v14h-14zM552 387h14v14h-14zM524 401h14v14h-14zM538 401h14v14h-14zM510 415h14v14h-14zM1000 415h14v14h-14zM496 429h14v14h-14zM482 443h14v14h-14zM1014 443h14v14h-14zM468 471h14v14h-14zM454 485h14v14h-14zM1028 485h14v14h-14zM440 499h14v14h-14zM1028 499h14v14h-14zM426 527h14v14h-14zM412 541h14v14h-14zM398 569h14v14h-14zM1028 583h14v14h-14zM1028 597h14v14h-14zM384 611h14v14h-14zM1014 611h14v14h-14zM384 625h14v14h-14zM1000 625h14v14h-14zM384 639h14v14h-14zM986 639h14v14h-14zM972 653h14v14h-14zM398 667h14v14h-14zM930 681h14v14h-14zM412 695h14v14h-14zM902 695h14v14h-14zM440 709h14v14h-14zM636 709h14v14h-14zM650 709h14v14h-14zM664 709h14v14h-14zM706 709h14v14h-14zM720 709h14v14h-14zM734 709h14v14h-14zM748 709h14v14h-14zM846 709h14v14h-14zM860 709h14v14h-14zM454 723h14v14h-14zM468 723h14v14h-14zM566 723h14v14h-14zM580 723h14v14h-14zM496 737h14v14h-14zM510 737h14v14h-14zM524 737h14v14h-14z"/><path fill-opacity="0.183" d="M496 79h14v14h-14zM706 79h14v14h-14zM720 79h14v14h-14zM902 79h14v14h-14zM216 93h14v14h-14zM482 93h14v14h-14zM496 93h14v14h-14zM678 93h14v14h-14zM692 93h14v14h-14zM706 93h14v14h-14zM888 93h14v14h-14zM216 107h14v14h-14zM482 107h14v14h-14zM664 107h14v14h-14zM678 107h14v14h-14zM692 107h14v14h-14zM874 107h14v14h-14zM216 121h14v14h-14zM482 121h14v14h-14zM636 121h14v14h-14zM650 121h14v14h-14zM664 121h14v14h-14zM860 121h14v14h-14zM230 135h14v14h-14zM468 135h14v14h-14zM482 135h14v14h-14zM622 135h14v14h-14zM636 135h14v14h-14zM846 135h14v14h-14zM230 149h14v14h-14zM244 149h14v14h-14zM468 149h14v14h-14zM482 149h14v14h-14zM608 149h14v14h-14zM622 149h14v14h-14zM832 149h14v14h-14zM846 149h14v14h-14zM258 163h14v14h-14zM272 163h14v14h-14zM286 163h14v14h-14zM454 163h14v14h-14zM468 163h14v14h-14zM482 163h14v14h-14zM594 163h14v14h-14zM608 163h14v14h-14zM832 163h14v14h-14zM300 177h14v14h-14zM314 177h14v14h-14zM328 177h14v14h-14zM342 177h14v14h-14zM356 177h14v14h-14zM370 177h14v14h-14zM440 177h14v14h-14zM454 177h14v14h-14zM468 177h14v14h-14zM482 177h14v14h-14zM580 177h14v14h-14zM594 177h14v14h-14zM832 177h14v14h-14zM370 191h14v14h-14zM384 191h14v14h-14zM398 191h14v14h-14zM412 191h14v14h-14zM426 191h14v14h-14zM440 191h14v14h-14zM454 191h14v14h-14zM468 191h14v14h-14zM566 191h14v14h-14zM580 191h14v14h-14zM398 205h14v14h-14zM412 205h14v14h-14zM426 205h14v14h-14zM440 205h14v14h-14zM454 205h14v14h-14zM468 205h14v14h-14zM566 205h14v14h-14zM580 205h14v14h-14zM440 219h14v14h-14zM566 219h14v14h-14zM580 219h14v14h-14zM552 233h14v14h-14zM566 233h14v14h-14zM552 247h14v14h-14zM566 247h14v14h-14zM832 247h14v14h-14zM552 261h14v14h-14zM566 261h14v14h-14zM832 261h14v14h-14zM552 275h14v14h-14zM566 275h14v14h-14zM552 289h14v14h-14zM566 289h14v14h-14zM846 289h14v14h-14zM552 303h14v14h-14zM566 303h14v14h-14zM860 303h14v14h-14zM552 317h14v14h-14zM566 317h14v14h-14zM552 331h14v14h-14zM566 331h14v14h-14zM888 331h14v14h-14zM552 345h14v14h-14zM566 345h14v14h-14zM916 345h14v14h-14zM538 359h14v14h-14zM552 359h14v14h-14zM944 359h14v14h-14zM538 373h14v14h-14zM972 373h14v14h-14zM524 387h14v14h-14zM986 387h14v14h-14zM510 401h14v14h-14zM1000 401h14v14h-14zM496 415h14v14h-14zM482 429h14v14h-14zM1014 429h14v14h-14zM468 457h14v14h-14zM1028 457h14v14h-14zM454 471h14v14h-14zM1028 471h14v14h-14zM440 485h14v14h-14zM426 513h14v14h-14zM1042 513h14v14h-14zM412 527h14v14h-14zM1042 527h14v14h-14zM1042 541h14v14h-14zM398 555h14v14h-14zM1042 555h14v14h-14zM1042 569h14v14h-14zM384 583h14v14h-14zM1042 583h14v14h-14zM384 597h14v14h-14zM1014 625h14v14h-14zM1000 639h14v14h-14zM384 653h14v14h-14zM986 653h14v14h-14zM384 667h14v14h-14zM958 667h14v14h-14zM398 681h14v14h-14zM944 681h14v14h-14zM916 695h14v14h-14zM426 709h14v14h-14zM678 709h14v14h-14zM692 709h14v14h-14zM874 709h14v14h-14zM440 723h14v14h-14zM594 723h14v14h-14zM608 723h14v14h-14zM748 723h14v14h-14zM762 723h14v14h-14zM776 723h14v14h-14zM790 723h14v14h-14zM804 723h14v14h-14zM818 723h14v14h-14zM454 737h14v14h-14zM468 737h14v14h-14zM482 737h14v14h-14zM538 737h14v14h-14zM552 737h14v14h-14zM566 737h14v14h-14z"/><path fill-opacity="0.200" d="M202 79h14v14h-14zM510 79h14v14h-14zM664 79h14v14h-14zM678 79h14v14h-14zM692 79h14v14h-14zM916 79h14v14h-14zM202 93h14v14h-14zM510 93h14v14h-14zM636 93h14v14h-14zM650 93h14v14h-14zM664 93h14v14h-14zM902 93h14v14h-14zM202 107h14v14h-14zM496 107h14v14h-14zM510 107h14v14h-14zM622 107h14v14h-14zM636 107h14v14h-14zM650 107h14v14h-14zM888 107h14v14h-14zM202 121h14v14h-14zM496 121h14v14h-14zM510 121h14v14h-14zM594 121h14v14h-14zM608 121h14v14h-14zM622 121h14v14h-14zM874 121h14v14h-14zM216 135h14v14h-14zM496 135h14v14h-14zM510 135h14v14h-14zM580 135h14v14h-14zM594 135h14v14h-14zM608 135h14v14h-14zM860 135h14v14h-14zM216 149h14v14h-14zM496 149h14v14h-14zM510 149h14v14h-14zM524 149h14v14h-14zM566 149h14v14h-14zM580 149h14v14h-14zM594 149h14v14h-14zM860 149h14v14h-14zM230 163h14v14h-14zM244 163h14v14h-14zM496 163h14v14h-14zM510 163h14v14h-14zM524 163h14v14h-14zM538 163h14v14h-14zM552 163h14v14h-14zM566 163h14v14h-14zM580 163h14v14h-14zM846 163h14v14h-14zM244 177h14v14h-14zM258 177h14v14h-14zM272 177h14v14h-14zM286 177h14v14h-14zM496 177h14v14h-14zM510 177h14v14h-14zM524 177h14v14h-14zM538 177h14v14h-14zM552 177h14v14h-14zM566 177h14v14h-14zM846 177h14v14h-14zM314 191h14v14h-14zM328 191h14v14h-14zM342 191h14v14h-14zM356 191h14v14h-14zM482 191h14v14h-14zM496 191h14v14h-14zM510 191h14v14h-14zM524 191h14v14h-14zM538 191h14v14h-14zM552 191h14v14h-14zM832 191h14v14h-14zM356 205h14v14h-14zM370 205h14v14h-14zM384 205h14v14h-14zM482 205h14v14h-14zM496 205h14v14h-14zM510 205h14v14h-14zM524 205h14v14h-14zM538 205h14v14h-14zM552 205h14v14h-14zM832 205h14v14h-14zM384 219h14v14h-14zM398 219h14v14h-14zM412 219h14v14h-14zM426 219h14v14h-14zM454 219h14v14h-14zM468 219h14v14h-14zM482 219h14v14h-14zM496 219h14v14h-14zM510 219h14v14h-14zM524 219h14v14h-14zM538 219h14v14h-14zM552 219h14v14h-14zM832 219h14v14h-14zM412 233h14v14h-14zM426 233h14v14h-14zM440 233h14v14h-14zM454 233h14v14h-14zM468 233h14v14h-14zM482 233h14v14h-14zM496 233h14v14h-14zM510 233h14v14h-14zM524 233h14v14h-14zM538 233h14v14h-14zM832 233h14v14h-14zM426 247h14v14h-14zM440 247h14v14h-14zM454 247h14v14h-14zM468 247h14v14h-14zM482 247h14v14h-14zM496 247h14v14h-14zM510 247h14v14h-14zM524 247h14v14h-14zM538 247h14v14h-14zM440 261h14v14h-14zM454 261h14v14h-14zM468 261h14v14h-14zM482 261h14v14h-14zM496 261h14v14h-14zM510 261h14v14h-14zM524 261h14v14h-14zM538 261h14v14h-14zM440 275h14v14h-14zM454 275h14v14h-14zM468 275h14v14h-14zM482 275h14v14h-14zM496 275h14v14h-14zM510 275h14v14h-14zM524 275h14v14h-14zM538 275h14v14h-14zM846 275h14v14h-14zM454 289h14v14h-14zM468 289h14v14h-14zM482 289h14v14h-14zM496 289h14v14h-14zM510 289h14v14h-14zM524 289h14v14h-14zM538 289h14v14h-14zM468 303h14v14h-14zM482 303h14v14h-14zM496 303h14v14h-14zM510 303h14v14h-14zM524 303h14v14h-14zM538 303h14v14h-14zM468 317h14v14h-14zM482 317h14v14h-14zM496 317h14v14h-14zM510 317h14v14h-14zM524 317h14v14h-14zM538 317h14v14h-14zM874 317h14v14h-14zM482 331h14v14h-14zM496 331h14v14h-14zM510 331h14v14h-14zM524 331h14v14h-14zM538 331h14v14h-14zM482 345h14v14h-14zM496 345h14v14h-14zM510 345h14v14h-14zM524 345h14v14h-14zM538 345h14v14h-14zM930 345h14v14h-14zM496 359h14v14h-14zM510 359h14v14h-14zM524 359h14v14h-14zM958 359h14v14h-14zM496 373h14v14h-14zM510 373h14v14h-14zM524 373h14v14h-14zM986 373h14v14h-14zM496 387h14v14h-14zM510 387h14v14h-14zM1000 387h14v14h-14zM482 401h14v14h-14zM496 401h14v14h-14zM482 415h14v14h-14zM1014 415h14v14h-14zM468 429h14v14h-14zM1028 429h14v14h-14zM468 443h14v14h-14zM1028 443h14v14h-14zM454 457h14v14h-14zM1042 471h14v14h-14zM1042 485h14v14h-14zM426 499h14v14h-14zM1042 499h14v14h-14zM412 513h14v14h-14zM398 541h14v14h-14zM384 569h14v14h-14zM1042 597h14v14h-14zM1028 611h14v14h-14zM370 625h14v14h-14zM972 667h14v14h-14zM384 681h14v14h-14zM958 681h14v14h-14zM398 695h14v14h-14zM930 695h14v14h-14zM412 709h14v14h-14zM888 709h14v14h-14zM902 709h14v14h-14zM426 723h14v14h-14zM622 723h14v14h-14zM636 723h14v14h-14zM650 723h14v14h-14zM706 723h14v14h-14zM720 723h14v14h-14zM734 723h14v14h-14zM832 723h14v14h-14zM846 723h14v14h-14zM860 723h14v14h-14zM440 737h14v14h-14zM580 737h14v14h-14zM454 751h14v14h-14zM468 751h14v14h-14zM482 751h14v14h-14zM496 751h14v14h-14zM510 751h14v14h-14zM524 751h14v14h-14zM538 751h14v14h-14zM272 891h14v14h-14zM286 891h14v14h-14zM300 891h14v14h-14zM314 891h14v14h-14zM328 891h14v14h-14zM342 891h14v14h-14zM356 891h14v14h-14zM370 891h14v14h-14z"/><path fill-opacity="0.217" d="M188 79h14v14h-14zM524 79h14v14h-14zM538 79h14v14h-14zM622 79h14v14h-14zM636 79h14v14h-14zM650 79h14v14h-14zM188 93h14v14h-14zM524 93h14v14h-14zM538 93h14v14h-14zM594 93h14v14h-14zM608 93h14v14h-14zM622 93h14v14h-14zM916 93h14v14h-14zM524 107h14v14h-14zM538 107h14v14h-14zM552 107h14v14h-14zM566 107h14v14h-14zM580 107h14v14h-14zM594 107h14v14h-14zM608 107h14v14h-14zM902 107h14v14h-14zM524 121h14v14h-14zM538 121h14v14h-14zM552 121h14v14h-14zM566 121h14v14h-14zM580 121h14v14h-14zM888 121h14v14h-14zM202 135h14v14h-14zM524 135h14v14h-14zM538 135h14v14h-14zM552 135h14v14h-14zM566 135h14v14h-14zM874 135h14v14h-14zM202 149h14v14h-14zM538 149h14v14h-14zM552 149h14v14h-14zM216 163h14v14h-14zM860 163h14v14h-14zM230 177h14v14h-14zM244 191h14v14h-14zM258 191h14v14h-14zM272 191h14v14h-14zM286 191h14v14h-14zM300 191h14v14h-14zM846 191h14v14h-14zM314 205h14v14h-14zM328 205h14v14h-14zM342 205h14v14h-14zM846 205h14v14h-14zM356 219h14v14h-14zM370 219h14v14h-14zM846 219h14v14h-14zM384 233h14v14h-14zM398 233h14v14h-14zM846 233h14v14h-14zM398 247h14v14h-14zM412 247h14v14h-14zM846 247h14v14h-14zM412 261h14v14h-14zM426 261h14v14h-14zM846 261h14v14h-14zM412 275h14v14h-14zM426 275h14v14h-14zM426 289h14v14h-14zM440 289h14v14h-14zM860 289h14v14h-14zM426 303h14v14h-14zM440 303h14v14h-14zM454 303h14v14h-14zM874 303h14v14h-14zM440 317h14v14h-14zM454 317h14v14h-14zM888 317h14v14h-14zM440 331h14v14h-14zM454 331h14v14h-14zM468 331h14v14h-14zM902 331h14v14h-14zM454 345h14v14h-14zM468 345h14v14h-14zM454 359h14v14h-14zM468 359h14v14h-14zM482 359h14v14h-14zM972 359h14v14h-14zM468 373h14v14h-14zM482 373h14v14h-14zM468 387h14v14h-14zM482 387h14v14h-14zM468 401h14v14h-14zM1014 401h14v14h-14zM468 415h14v14h-14zM1028 415h14v14h-14zM454 443h14v14h-14zM1042 457h14v14h-14zM440 471h14v14h-14zM426 485h14v14h-14zM1056 513h14v14h-14zM398 527h14v14h-14zM1056 527h14v14h-14zM1056 541h14v14h-14zM384 555h14v14h-14zM1056 555h14v14h-14zM1056 569h14v14h-14zM1056 583h14v14h-14zM370 597h14v14h-14zM370 611h14v14h-14zM1042 611h14v14h-14zM1028 625h14v14h-14zM370 639h14v14h-14zM1014 639h14v14h-14zM370 653h14v14h-14zM1000 653h14v14h-14zM370 667h14v14h-14zM986 667h14v14h-14zM384 695h14v14h-14zM944 695h14v14h-14zM398 709h14v14h-14zM916 709h14v14h-14zM412 723h14v14h-14zM664 723h14v14h-14zM678 723h14v14h-14zM692 723h14v14h-14zM874 723h14v14h-14zM412 737h14v14h-14zM426 737h14v14h-14zM594 737h14v14h-14zM608 737h14v14h-14zM734 737h14v14h-14zM748 737h14v14h-14zM762 737h14v14h-14zM776 737h14v14h-14zM790 737h14v14h-14zM804 737h14v14h-14zM818 737h14v14h-14zM426 751h14v14h-14zM440 751h14v14h-14zM552 751h14v14h-14zM566 751h14v14h-14zM454 765h14v14h-14zM468 765h14v14h-14zM482 765h14v14h-14zM496 765h14v14h-14zM510 765h14v14h-14zM524 765h14v14h-14zM300 877h14v14h-14zM314 877h14v14h-14zM328 877h14v14h-14zM342 877h14v14h-14zM356 877h14v14h-14zM370 877h14v14h-14zM384 877h14v14h-14zM398 877h14v14h-14zM412 877h14v14h-14zM132 891h14v14h-14zM146 891h14v14h-14zM160 891h14v14h-14zM174 891h14v14h-14zM188 891h14v14h-14zM202 891h14v14h-14zM216 891h14v14h-14zM230 891h14v14h-14zM244 891h14v14h-14zM258 891h14v14h-14zM384 891h14v14h-14zM398 891h14v14h-14zM412 891h14v14h-14zM426 891h14v14h-14z"/><path fill-opacity="0.233" d="M552 79h14v14h-14zM566 79h14v14h-14zM580 79h14v14h-14zM594 79h14v14h-14zM608 79h14v14h-14zM930 79h14v14h-14zM552 93h14v14h-14zM566 93h14v14h-14zM580 93h14v14h-14zM188 107h14v14h-14zM188 121h14v14h-14zM902 121h14v14h-14zM188 135h14v14h-14zM888 135h14v14h-14zM188 149h14v14h-14zM874 149h14v14h-14zM202 163h14v14h-14zM874 163h14v14h-14zM202 177h14v14h-14zM216 177h14v14h-14zM860 177h14v14h-14zM230 191h14v14h-14zM860 191h14v14h-14zM258 205h14v14h-14zM272 205h14v14h-14zM286 205h14v14h-14zM300 205h14v14h-14zM328 219h14v14h-14zM342 219h14v14h-14zM356 233h14v14h-14zM370 233h14v14h-14zM370 247h14v14h-14zM384 247h14v14h-14zM384 261h14v14h-14zM398 261h14v14h-14zM860 261h14v14h-14zM398 275h14v14h-14zM860 275h14v14h-14zM412 289h14v14h-14zM412 303h14v14h-14zM426 317h14v14h-14zM426 331h14v14h-14zM916 331h14v14h-14zM440 345h14v14h-14zM944 345h14v14h-14zM440 359h14v14h-14zM440 373h14v14h-14zM454 373h14v14h-14zM1000 373h14v14h-14zM454 387h14v14h-14zM1014 387h14v14h-14zM454 401h14v14h-14zM1028 401h14v14h-14zM454 415h14v14h-14zM454 429h14v14h-14zM1042 429h14v14h-14zM440 443h14v14h-14zM1042 443h14v14h-14zM440 457h14v14h-14zM426 471h14v14h-14zM1056 471h14v14h-14zM1056 485h14v14h-14zM412 499h14v14h-14zM1056 499h14v14h-14zM398 513h14v14h-14zM384 541h14v14h-14zM370 569h14v14h-14zM370 583h14v14h-14zM1056 597h14v14h-14zM1042 625h14v14h-14zM1028 639h14v14h-14zM1014 653h14v14h-14zM370 681h14v14h-14zM972 681h14v14h-14zM958 695h14v14h-14zM384 709h14v14h-14zM930 709h14v14h-14zM398 723h14v14h-14zM888 723h14v14h-14zM902 723h14v14h-14zM398 737h14v14h-14zM622 737h14v14h-14zM636 737h14v14h-14zM650 737h14v14h-14zM664 737h14v14h-14zM678 737h14v14h-14zM692 737h14v14h-14zM706 737h14v14h-14zM720 737h14v14h-14zM832 737h14v14h-14zM846 737h14v14h-14zM412 751h14v14h-14zM580 751h14v14h-14zM594 751h14v14h-14zM748 751h14v14h-14zM762 751h14v14h-14zM776 751h14v14h-14zM790 751h14v14h-14zM426 765h14v14h-14zM440 765h14v14h-14zM538 765h14v14h-14zM552 765h14v14h-14zM440 779h14v14h-14zM454 779h14v14h-14zM468 779h14v14h-14zM482 779h14v14h-14zM496 779h14v14h-14zM510 779h14v14h-14zM370 849h14v14h-14zM384 849h14v14h-14zM398 849h14v14h-14zM412 849h14v14h-14zM426 849h14v14h-14zM300 863h14v14h-14zM314 863h14v14h-14zM328 863h14v14h-14zM342 863h14v14h-14zM356 863h14v14h-14zM370 863h14v14h-14zM384 863h14v14h-14zM398 863h14v14h-14zM412 863h14v14h-14zM426 863h14v14h-14zM440 863h14v14h-14zM90 877h14v14h-14zM104 877h14v14h-14zM118 877h14v14h-14zM132 877h14v14h-14zM146 877h14v14h-14zM160 877h14v14h-14zM174 877h14v14h-14zM188 877h14v14h-14zM202 877h14v14h-14zM216 877h14v14h-14zM230 877h14v14h-14zM244 877h14v14h-14zM258 877h14v14h-14zM272 877h14v14h-14zM286 877h14v14h-14zM426 877h14v14h-14zM440 877h14v14h-14zM454 877h14v14h-14zM62 891h14v14h-14zM76 891h14v14h-14zM90 891h14v14h-14zM104 891h14v14h-14zM118 891h14v14h-14zM440 891h14v14h-14zM454 891h14v14h-14z"/><path fill-opacity="0.250" d="M174 79h14v14h-14zM944 79h14v14h-14zM174 93h14v14h-14zM930 93h14v14h-14zM174 107h14v14h-14zM916 107h14v14h-14zM174 121h14v14h-14zM174 135h14v14h-14zM902 135h14v14h-14zM888 149h14v14h-14zM188 163h14v14h-14zM188 177h14v14h-14zM874 177h14v14h-14zM202 191h14v14h-14zM216 191h14v14h-14zM230 205h14v14h-14zM244 205h14v14h-14zM860 205h14v14h-14zM272 219h14v14h-14zM286 219h14v14h-14zM300 219h14v14h-14zM314 219h14v14h-14zM860 219h14v14h-14zM328 233h14v14h-14zM342 233h14v14h-14zM860 233h14v14h-14zM356 247h14v14h-14zM860 247h14v14h-14zM370 261h14v14h-14zM384 275h14v14h-14zM384 289h14v14h-14zM398 289h14v14h-14zM874 289h14v14h-14zM398 303h14v14h-14zM888 303h14v14h-14zM398 317h14v14h-14zM412 317h14v14h-14zM902 317h14v14h-14zM412 331h14v14h-14zM412 345h14v14h-14zM426 345h14v14h-14zM958 345h14v14h-14zM426 359h14v14h-14zM986 359h14v14h-14zM426 373h14v14h-14zM1014 373h14v14h-14zM440 387h14v14h-14zM1028 387h14v14h-14zM440 401h14v14h-14zM440 415h14v14h-14zM1042 415h14v14h-14zM440 429h14v14h-14zM1056 443h14v14h-14zM426 457h14v14h-14zM1056 457h14v14h-14zM412 485h14v14h-14zM398 499h14v14h-14zM1070 499h14v14h-14zM1070 513h14v14h-14zM384 527h14v14h-14zM1070 527h14v14h-14zM1070 541h14v14h-14zM370 555h14v14h-14zM1070 555h14v14h-14zM1070 569h14v14h-14zM1070 583h14v14h-14zM356 611h14v14h-14zM1056 611h14v14h-14zM356 625h14v14h-14zM356 639h14v14h-14zM356 653h14v14h-14zM1000 667h14v14h-14zM986 681h14v14h-14zM370 695h14v14h-14zM370 709h14v14h-14zM944 709h14v14h-14zM384 723h14v14h-14zM916 723h14v14h-14zM384 737h14v14h-14zM860 737h14v14h-14zM874 737h14v14h-14zM398 751h14v14h-14zM608 751h14v14h-14zM622 751h14v14h-14zM706 751h14v14h-14zM720 751h14v14h-14zM734 751h14v14h-14zM804 751h14v14h-14zM818 751h14v14h-14zM832 751h14v14h-14zM398 765h14v14h-14zM412 765h14v14h-14zM566 765h14v14h-14zM762 765h14v14h-14zM398 779h14v14h-14zM412 779h14v14h-14zM426 779h14v14h-14zM524 779h14v14h-14zM538 779h14v14h-14zM398 793h14v14h-14zM412 793h14v14h-14zM426 793h14v14h-14zM440 793h14v14h-14zM454 793h14v14h-14zM468 793h14v14h-14zM482 793h14v14h-14zM496 793h14v14h-14zM510 793h14v14h-14zM398 807h14v14h-14zM412 807h14v14h-14zM426 807h14v14h-14zM440 807h14v14h-14zM454 807h14v14h-14zM468 807h14v14h-14zM482 807h14v14h-14zM384 821h14v14h-14zM398 821h14v14h-14zM412 821h14v14h-14zM426 821h14v14h-14zM440 821h14v14h-14zM454 821h14v14h-14zM468 821h14v14h-14zM356 835h14v14h-14zM370 835h14v14h-14zM384 835h14v14h-14zM398 835h14v14h-14zM412 835h14v14h-14zM426 835h14v14h-14zM440 835h14v14h-14zM454 835h14v14h-14zM468 835h14v14h-14zM314 849h14v14h-14zM328 849h14v14h-14zM342 849h14v14h-14zM356 849h14v14h-14zM440 849h14v14h-14zM454 849h14v14h-14zM468 849h14v14h-14zM62 863h14v14h-14zM76 863h14v14h-14zM90 863h14v14h-14zM104 863h14v14h-14zM118 863h14v14h-14zM132 863h14v14h-14zM146 863h14v14h-14zM160 863h14v14h-14zM174 863h14v14h-14zM188 863h14v14h-14zM202 863h14v14h-14zM216 863h14v14h-14zM230 863h14v14h-14zM244 863h14v14h-14zM258 863h14v14h-14zM272 863h14v14h-14zM286 863h14v14h-14zM454 863h14v14h-14zM468 863h14v14h-14zM62 877h14v14h-14zM76 877h14v14h-14zM468 877h14v14h-14zM468 891h14v14h-14zM482 891h14v14h-14z"/><path fill-opacity="0.267" d="M958 79h14v14h-14zM944 93h14v14h-14zM930 107h14v14h-14zM916 121h14v14h-14zM174 149h14v14h-14zM902 149h14v14h-14zM174 163h14v14h-14zM888 163h14v14h-14zM188 191h14v14h-14zM874 191h14v14h-14zM202 205h14v14h-14zM216 205h14v14h-14zM874 205h14v14h-14zM230 219h14v14h-14zM244 219h14v14h-14zM258 219h14v14h-14zM286 233h14v14h-14zM300 233h14v14h-14zM314 233h14v14h-14zM328 247h14v14h-14zM342 247h14v14h-14zM356 261h14v14h-14zM370 275h14v14h-14zM874 275h14v14h-14zM370 289h14v14h-14zM384 303h14v14h-14zM398 331h14v14h-14zM930 331h14v14h-14zM398 345h14v14h-14zM972 345h14v14h-14zM412 359h14v14h-14zM1000 359h14v14h-14zM412 373h14v14h-14zM426 387h14v14h-14zM426 401h14v14h-14zM1042 401h14v14h-14zM426 415h14v14h-14zM1056 415h14v14h-14zM426 429h14v14h-14zM1056 429h14v14h-14zM426 443h14v14h-14zM1070 457h14v14h-14zM412 471h14v14h-14zM1070 471h14v14h-14zM398 485h14v14h-14zM1070 485h14v14h-14zM384 513h14v14h-14zM370 541h14v14h-14zM356 583h14v14h-14zM356 597h14v14h-14zM1070 597h14v14h-14zM1056 625h14v14h-14zM1042 639h14v14h-14zM1028 653h14v14h-14zM356 667h14v14h-14zM1014 667h14v14h-14zM356 681h14v14h-14zM1000 681h14v14h-14zM972 695h14v14h-14zM958 709h14v14h-14zM370 723h14v14h-14zM930 723h14v14h-14zM370 737h14v14h-14zM888 737h14v14h-14zM902 737h14v14h-14zM384 751h14v14h-14zM636 751h14v14h-14zM650 751h14v14h-14zM664 751h14v14h-14zM678 751h14v14h-14zM692 751h14v14h-14zM846 751h14v14h-14zM384 765h14v14h-14zM580 765h14v14h-14zM594 765h14v14h-14zM706 765h14v14h-14zM720 765h14v14h-14zM734 765h14v14h-14zM748 765h14v14h-14zM776 765h14v14h-14zM790 765h14v14h-14zM804 765h14v14h-14zM384 779h14v14h-14zM552 779h14v14h-14zM566 779h14v14h-14zM748 779h14v14h-14zM762 779h14v14h-14zM776 779h14v14h-14zM370 793h14v14h-14zM384 793h14v14h-14zM524 793h14v14h-14zM538 793h14v14h-14zM356 807h14v14h-14zM370 807h14v14h-14zM384 807h14v14h-14zM496 807h14v14h-14zM510 807h14v14h-14zM342 821h14v14h-14zM356 821h14v14h-14zM370 821h14v14h-14zM482 821h14v14h-14zM496 821h14v14h-14zM510 821h14v14h-14zM314 835h14v14h-14zM328 835h14v14h-14zM342 835h14v14h-14zM482 835h14v14h-14zM496 835h14v14h-14zM62 849h14v14h-14zM76 849h14v14h-14zM90 849h14v14h-14zM104 849h14v14h-14zM118 849h14v14h-14zM132 849h14v14h-14zM146 849h14v14h-14zM160 849h14v14h-14zM174 849h14v14h-14zM188 849h14v14h-14zM202 849h14v14h-14zM216 849h14v14h-14zM230 849h14v14h-14zM244 849h14v14h-14zM258 849h14v14h-14zM272 849h14v14h-14zM286 849h14v14h-14zM300 849h14v14h-14zM482 849h14v14h-14zM496 849h14v14h-14zM482 863h14v14h-14zM496 863h14v14h-14zM720 863h14v14h-14zM734 863h14v14h-14zM482 877h14v14h-14zM496 877h14v14h-14zM706 877h14v14h-14zM720 877h14v14h-14zM734 877h14v14h-14zM748 877h14v14h-14zM496 891h14v14h-14zM678 891h14v14h-14zM692 891h14v14h-14zM706 891h14v14h-14zM720 891h14v14h-14zM734 891h14v14h-14zM748 891h14v14h-14z"/><path fill-opacity="0.283" d="M160 79h14v14h-14zM160 93h14v14h-14zM160 107h14v14h-14zM944 107h14v14h-14zM160 121h14v14h-14zM930 121h14v14h-14zM160 135h14v14h-14zM916 135h14v14h-14zM160 149h14v14h-14zM160 163h14v14h-14zM902 163h14v14h-14zM174 177h14v14h-14zM888 177h14v14h-14zM174 191h14v14h-14zM888 191h14v14h-14zM188 205h14v14h-14zM202 219h14v14h-14zM216 219h14v14h-14zM874 219h14v14h-14zM230 233h14v14h-14zM244 233h14v14h-14zM258 233h14v14h-14zM272 233h14v14h-14zM874 233h14v14h-14zM300 247h14v14h-14zM314 247h14v14h-14zM874 247h14v14h-14zM328 261h14v14h-14zM342 261h14v14h-14zM874 261h14v14h-14zM356 275h14v14h-14zM356 289h14v14h-14zM888 289h14v14h-14zM370 303h14v14h-14zM384 317h14v14h-14zM916 317h14v14h-14zM384 331h14v14h-14zM944 331h14v14h-14zM986 345h14v14h-14zM398 359h14v14h-14zM1014 359h14v14h-14zM398 373h14v14h-14zM1028 373h14v14h-14zM412 387h14v14h-14zM1042 387h14v14h-14zM412 401h14v14h-14zM1056 401h14v14h-14zM412 415h14v14h-14zM412 429h14v14h-14zM1070 429h14v14h-14zM412 443h14v14h-14zM1070 443h14v14h-14zM412 457h14v14h-14zM398 471h14v14h-14zM384 499h14v14h-14zM1084 499h14v14h-14zM1084 513h14v14h-14zM370 527h14v14h-14zM1084 527h14v14h-14zM1084 541h14v14h-14zM1084 555h14v14h-14zM356 569h14v14h-14zM1084 569h14v14h-14zM1084 583h14v14h-14zM1070 611h14v14h-14zM1070 625h14v14h-14zM1056 639h14v14h-14zM1042 653h14v14h-14zM1028 667h14v14h-14zM356 695h14v14h-14zM986 695h14v14h-14zM356 709h14v14h-14zM972 709h14v14h-14zM356 723h14v14h-14zM944 723h14v14h-14zM916 737h14v14h-14zM370 751h14v14h-14zM860 751h14v14h-14zM874 751h14v14h-14zM370 765h14v14h-14zM608 765h14v14h-14zM622 765h14v14h-14zM636 765h14v14h-14zM650 765h14v14h-14zM664 765h14v14h-14zM678 765h14v14h-14zM692 765h14v14h-14zM818 765h14v14h-14zM832 765h14v14h-14zM356 779h14v14h-14zM370 779h14v14h-14zM580 779h14v14h-14zM594 779h14v14h-14zM706 779h14v14h-14zM720 779h14v14h-14zM734 779h14v14h-14zM790 779h14v14h-14zM804 779h14v14h-14zM356 793h14v14h-14zM552 793h14v14h-14zM566 793h14v14h-14zM720 793h14v14h-14zM734 793h14v14h-14zM748 793h14v14h-14zM762 793h14v14h-14zM776 793h14v14h-14zM342 807h14v14h-14zM524 807h14v14h-14zM538 807h14v14h-14zM720 807h14v14h-14zM734 807h14v14h-14zM748 807h14v14h-14zM762 807h14v14h-14zM314 821h14v14h-14zM328 821h14v14h-14zM524 821h14v14h-14zM720 821h14v14h-14zM734 821h14v14h-14zM748 821h14v14h-14zM762 821h14v14h-14zM62 835h14v14h-14zM76 835h14v14h-14zM90 835h14v14h-14zM104 835h14v14h-14zM118 835h14v14h-14zM132 835h14v14h-14zM146 835h14v14h-14zM160 835h14v14h-14zM174 835h14v14h-14zM188 835h14v14h-14zM244 835h14v14h-14zM258 835h14v14h-14zM272 835h14v14h-14zM286 835h14v14h-14zM300 835h14v14h-14zM510 835h14v14h-14zM524 835h14v14h-14zM706 835h14v14h-14zM720 835h14v14h-14zM734 835h14v14h-14zM748 835h14v14h-14zM762 835h14v14h-14zM510 849h14v14h-14zM692 849h14v14h-14zM706 849h14v14h-14zM720 849h14v14h-14zM734 849h14v14h-14zM748 849h14v14h-14zM762 849h14v14h-14zM510 863h14v14h-14zM692 863h14v14h-14zM706 863h14v14h-14zM748 863h14v14h-14zM762 863h14v14h-14zM510 877h14v14h-14zM678 877h14v14h-14zM692 877h14v14h-14zM762 877h14v14h-14zM510 891h14v14h-14zM664 891h14v14h-14zM762 891h14v14h-14zM776 891h14v14h-14z"/><path fill-opacity="0.300" d="M972 79h14v14h-14zM146 93h14v14h-14zM958 93h14v14h-14zM146 107h14v14h-14zM146 121h14v14h-14zM944 121h14v14h-14zM146 135h14v14h-14zM930 135h14v14h-14zM916 149h14v14h-14zM160 177h14v14h-14zM902 177h14v14h-14zM174 205h14v14h-14zM888 205h14v14h-14zM188 219h14v14h-14zM216 233h14v14h-14zM258 247h14v14h-14zM272 247h14v14h-14zM286 247h14v14h-14zM314 261h14v14h-14zM328 275h14v14h-14zM342 275h14v14h-14zM888 275h14v14h-14zM342 289h14v14h-14zM356 303h14v14h-14zM902 303h14v14h-14zM370 317h14v14h-14zM370 331h14v14h-14zM958 331h14v14h-14zM384 345h14v14h-14zM1000 345h14v14h-14zM384 359h14v14h-14zM1028 359h14v14h-14zM1042 373h14v14h-14zM398 387h14v14h-14zM1056 387h14v14h-14zM398 401h14v14h-14zM1070 415h14v14h-14zM398 443h14v14h-14zM1084 443h14v14h-14zM398 457h14v14h-14zM1084 457h14v14h-14zM1084 471h14v14h-14zM384 485h14v14h-14zM1084 485h14v14h-14zM370 513h14v14h-14zM356 541h14v14h-14zM356 555h14v14h-14zM342 597h14v14h-14zM1084 597h14v14h-14zM342 611h14v14h-14zM1084 611h14v14h-14zM342 625h14v14h-14zM342 639h14v14h-14zM1070 639h14v14h-14zM342 653h14v14h-14zM1056 653h14v14h-14zM342 667h14v14h-14zM1014 681h14v14h-14zM1000 695h14v14h-14zM958 723h14v14h-14zM356 737h14v14h-14zM930 737h14v14h-14zM356 751h14v14h-14zM888 751h14v14h-14zM902 751h14v14h-14zM356 765h14v14h-14zM846 765h14v14h-14zM860 765h14v14h-14zM342 779h14v14h-14zM608 779h14v14h-14zM622 779h14v14h-14zM636 779h14v14h-14zM650 779h14v14h-14zM664 779h14v14h-14zM678 779h14v14h-14zM692 779h14v14h-14zM818 779h14v14h-14zM832 779h14v14h-14zM328 793h14v14h-14zM342 793h14v14h-14zM580 793h14v14h-14zM594 793h14v14h-14zM678 793h14v14h-14zM692 793h14v14h-14zM706 793h14v14h-14zM790 793h14v14h-14zM804 793h14v14h-14zM314 807h14v14h-14zM328 807h14v14h-14zM552 807h14v14h-14zM566 807h14v14h-14zM692 807h14v14h-14zM706 807h14v14h-14zM776 807h14v14h-14zM790 807h14v14h-14zM62 821h14v14h-14zM76 821h14v14h-14zM90 821h14v14h-14zM104 821h14v14h-14zM118 821h14v14h-14zM132 821h14v14h-14zM272 821h14v14h-14zM286 821h14v14h-14zM300 821h14v14h-14zM538 821h14v14h-14zM552 821h14v14h-14zM692 821h14v14h-14zM706 821h14v14h-14zM776 821h14v14h-14zM790 821h14v14h-14zM202 835h14v14h-14zM216 835h14v14h-14zM230 835h14v14h-14zM538 835h14v14h-14zM678 835h14v14h-14zM692 835h14v14h-14zM776 835h14v14h-14zM790 835h14v14h-14zM524 849h14v14h-14zM538 849h14v14h-14zM664 849h14v14h-14zM678 849h14v14h-14zM776 849h14v14h-14zM524 863h14v14h-14zM538 863h14v14h-14zM664 863h14v14h-14zM678 863h14v14h-14zM776 863h14v14h-14zM524 877h14v14h-14zM538 877h14v14h-14zM650 877h14v14h-14zM664 877h14v14h-14zM776 877h14v14h-14zM790 877h14v14h-14zM524 891h14v14h-14zM538 891h14v14h-14zM636 891h14v14h-14zM650 891h14v14h-14zM790 891h14v14h-14z"/><path fill-opacity="0.317" d="M146 79h14v14h-14zM986 79h14v14h-14zM972 93h14v14h-14zM958 107h14v14h-14zM146 149h14v14h-14zM930 149h14v14h-14zM146 163h14v14h-14zM916 163h14v14h-14zM146 177h14v14h-14zM160 191h14v14h-14zM902 191h14v14h-14zM160 205h14v14h-14zM174 219h14v14h-14zM888 219h14v14h-14zM188 233h14v14h-14zM202 233h14v14h-14zM888 233h14v14h-14zM216 247h14v14h-14zM230 247h14v14h-14zM244 247h14v14h-14zM888 247h14v14h-14zM272 261h14v14h-14zM286 261h14v14h-14zM300 261h14v14h-14zM888 261h14v14h-14zM314 275h14v14h-14zM328 289h14v14h-14zM902 289h14v14h-14zM342 303h14v14h-14zM356 317h14v14h-14zM930 317h14v14h-14zM972 331h14v14h-14zM370 345h14v14h-14zM1014 345h14v14h-14zM370 359h14v14h-14zM384 373h14v14h-14zM1056 373h14v14h-14zM384 387h14v14h-14zM1070 387h14v14h-14zM384 401h14v14h-14zM1070 401h14v14h-14zM398 415h14v14h-14zM1084 415h14v14h-14zM398 429h14v14h-14zM1084 429h14v14h-14zM384 457h14v14h-14zM384 471h14v14h-14zM1098 471h14v14h-14zM370 485h14v14h-14zM1098 485h14v14h-14zM370 499h14v14h-14zM1098 499h14v14h-14zM1098 513h14v14h-14zM356 527h14v14h-14zM1098 527h14v14h-14zM1098 541h14v14h-14zM1098 555h14v14h-14zM342 569h14v14h-14zM1098 569h14v14h-14zM342 583h14v14h-14zM1098 583h14v14h-14zM1098 597h14v14h-14zM1098 611h14v14h-14zM1084 625h14v14h-14zM1084 639h14v14h-14zM1070 653h14v14h-14zM1042 667h14v14h-14zM342 681h14v14h-14zM1028 681h14v14h-14zM342 695h14v14h-14zM1014 695h14v14h-14zM342 709h14v14h-14zM986 709h14v14h-14zM342 723h14v14h-14zM972 723h14v14h-14zM342 737h14v14h-14zM944 737h14v14h-14zM342 751h14v14h-14zM916 751h14v14h-14zM342 765h14v14h-14zM874 765h14v14h-14zM888 765h14v14h-14zM328 779h14v14h-14zM846 779h14v14h-14zM860 779h14v14h-14zM314 793h14v14h-14zM608 793h14v14h-14zM622 793h14v14h-14zM636 793h14v14h-14zM650 793h14v14h-14zM664 793h14v14h-14zM818 793h14v14h-14zM832 793h14v14h-14zM62 807h14v14h-14zM76 807h14v14h-14zM90 807h14v14h-14zM104 807h14v14h-14zM118 807h14v14h-14zM286 807h14v14h-14zM300 807h14v14h-14zM580 807h14v14h-14zM594 807h14v14h-14zM608 807h14v14h-14zM636 807h14v14h-14zM650 807h14v14h-14zM664 807h14v14h-14zM678 807h14v14h-14zM804 807h14v14h-14zM818 807h14v14h-14zM146 821h14v14h-14zM160 821h14v14h-14zM174 821h14v14h-14zM188 821h14v14h-14zM202 821h14v14h-14zM216 821h14v14h-14zM230 821h14v14h-14zM244 821h14v14h-14zM258 821h14v14h-14zM566 821h14v14h-14zM580 821h14v14h-14zM650 821h14v14h-14zM664 821h14v14h-14zM678 821h14v14h-14zM804 821h14v14h-14zM552 835h14v14h-14zM566 835h14v14h-14zM650 835h14v14h-14zM664 835h14v14h-14zM804 835h14v14h-14zM552 849h14v14h-14zM566 849h14v14h-14zM636 849h14v14h-14zM650 849h14v14h-14zM790 849h14v14h-14zM804 849h14v14h-14zM552 863h14v14h-14zM566 863h14v14h-14zM622 863h14v14h-14zM636 863h14v14h-14zM650 863h14v14h-14zM790 863h14v14h-14zM804 863h14v14h-14zM552 877h14v14h-14zM566 877h14v14h-14zM580 877h14v14h-14zM608 877h14v14h-14zM622 877h14v14h-14zM636 877h14v14h-14zM804 877h14v14h-14zM552 891h14v14h-14zM566 891h14v14h-14zM580 891h14v14h-14zM594 891h14v14h-14zM608 891h14v14h-14zM622 891h14v14h-14zM804 891h14v14h-14z"/><path fill-opacity="0.333" d="M132 79h14v14h-14zM132 93h14v14h-14zM986 93h14v14h-14zM132 107h14v14h-14zM972 107h14v14h-14zM132 121h14v14h-14zM958 121h14v14h-14zM132 135h14v14h-14zM944 135h14v14h-14zM132 149h14v14h-14zM132 163h14v14h-14zM930 163h14v14h-14zM916 177h14v14h-14zM146 191h14v14h-14zM902 205h14v14h-14zM160 219h14v14h-14zM174 233h14v14h-14zM202 247h14v14h-14zM230 261h14v14h-14zM244 261h14v14h-14zM258 261h14v14h-14zM286 275h14v14h-14zM300 275h14v14h-14zM902 275h14v14h-14zM314 289h14v14h-14zM328 303h14v14h-14zM916 303h14v14h-14zM342 317h14v14h-14zM944 317h14v14h-14zM356 331h14v14h-14zM986 331h14v14h-14zM356 345h14v14h-14zM1028 345h14v14h-14zM1042 359h14v14h-14zM370 373h14v14h-14zM1070 373h14v14h-14zM370 387h14v14h-14zM370 401h14v14h-14zM1084 401h14v14h-14zM384 415h14v14h-14zM384 429h14v14h-14zM1098 429h14v14h-14zM370 443h14v14h-14zM384 443h14v14h-14zM1098 443h14v14h-14zM370 457h14v14h-14zM1098 457h14v14h-14zM370 471h14v14h-14zM356 499h14v14h-14zM356 513h14v14h-14zM342 541h14v14h-14zM342 555h14v14h-14zM1112 555h14v14h-14zM1112 569h14v14h-14zM1112 583h14v14h-14zM1112 597h14v14h-14zM1098 625h14v14h-14zM1098 639h14v14h-14zM1084 653h14v14h-14zM1056 667h14v14h-14zM1070 667h14v14h-14zM1042 681h14v14h-14zM1028 695h14v14h-14zM1000 709h14v14h-14zM986 723h14v14h-14zM958 737h14v14h-14zM972 737h14v14h-14zM328 751h14v14h-14zM930 751h14v14h-14zM944 751h14v14h-14zM328 765h14v14h-14zM902 765h14v14h-14zM916 765h14v14h-14zM314 779h14v14h-14zM874 779h14v14h-14zM888 779h14v14h-14zM62 793h14v14h-14zM76 793h14v14h-14zM90 793h14v14h-14zM300 793h14v14h-14zM846 793h14v14h-14zM860 793h14v14h-14zM132 807h14v14h-14zM146 807h14v14h-14zM160 807h14v14h-14zM174 807h14v14h-14zM188 807h14v14h-14zM202 807h14v14h-14zM216 807h14v14h-14zM230 807h14v14h-14zM244 807h14v14h-14zM258 807h14v14h-14zM272 807h14v14h-14zM622 807h14v14h-14zM832 807h14v14h-14zM594 821h14v14h-14zM608 821h14v14h-14zM622 821h14v14h-14zM636 821h14v14h-14zM818 821h14v14h-14zM832 821h14v14h-14zM580 835h14v14h-14zM594 835h14v14h-14zM608 835h14v14h-14zM622 835h14v14h-14zM636 835h14v14h-14zM818 835h14v14h-14zM580 849h14v14h-14zM594 849h14v14h-14zM608 849h14v14h-14zM622 849h14v14h-14zM818 849h14v14h-14zM580 863h14v14h-14zM594 863h14v14h-14zM608 863h14v14h-14zM818 863h14v14h-14zM594 877h14v14h-14zM818 877h14v14h-14zM818 891h14v14h-14z"/><path fill-opacity="0.350" d="M1000 79h14v14h-14zM972 121h14v14h-14zM958 135h14v14h-14zM944 149h14v14h-14zM132 177h14v14h-14zM132 191h14v14h-14zM916 191h14v14h-14zM146 205h14v14h-14zM902 219h14v14h-14zM160 233h14v14h-14zM902 233h14v14h-14zM188 247h14v14h-14zM902 247h14v14h-14zM202 261h14v14h-14zM216 261h14v14h-14zM902 261h14v14h-14zM244 275h14v14h-14zM258 275h14v14h-14zM272 275h14v14h-14zM300 289h14v14h-14zM916 289h14v14h-14zM314 303h14v14h-14zM930 303h14v14h-14zM328 317h14v14h-14zM958 317h14v14h-14zM342 331h14v14h-14zM1000 331h14v14h-14zM342 345h14v14h-14zM1042 345h14v14h-14zM356 359h14v14h-14zM1056 359h14v14h-14zM356 373h14v14h-14zM1084 373h14v14h-14zM356 387h14v14h-14zM1084 387h14v14h-14zM356 401h14v14h-14zM1098 401h14v14h-14zM356 415h14v14h-14zM370 415h14v14h-14zM1098 415h14v14h-14zM356 429h14v14h-14zM370 429h14v14h-14zM356 443h14v14h-14zM1112 443h14v14h-14zM356 457h14v14h-14zM1112 457h14v14h-14zM356 471h14v14h-14zM1112 471h14v14h-14zM356 485h14v14h-14zM1112 485h14v14h-14zM342 499h14v14h-14zM1112 499h14v14h-14zM342 513h14v14h-14zM1112 513h14v14h-14zM342 527h14v14h-14zM1112 527h14v14h-14zM1112 541h14v14h-14zM328 569h14v14h-14zM328 583h14v14h-14zM328 597h14v14h-14zM328 611h14v14h-14zM1112 611h14v14h-14zM328 625h14v14h-14zM1112 625h14v14h-14zM328 639h14v14h-14zM1112 639h14v14h-14zM328 653h14v14h-14zM1098 653h14v14h-14zM328 667h14v14h-14zM1084 667h14v14h-14zM328 681h14v14h-14zM1056 681h14v14h-14zM1070 681h14v14h-14zM328 695h14v14h-14zM1042 695h14v14h-14zM328 709h14v14h-14zM1014 709h14v14h-14zM1028 709h14v14h-14zM328 723h14v14h-14zM1000 723h14v14h-14zM328 737h14v14h-14zM986 737h14v14h-14zM958 751h14v14h-14zM314 765h14v14h-14zM930 765h14v14h-14zM944 765h14v14h-14zM62 779h14v14h-14zM76 779h14v14h-14zM300 779h14v14h-14zM902 779h14v14h-14zM916 779h14v14h-14zM104 793h14v14h-14zM118 793h14v14h-14zM132 793h14v14h-14zM146 793h14v14h-14zM160 793h14v14h-14zM174 793h14v14h-14zM258 793h14v14h-14zM272 793h14v14h-14zM286 793h14v14h-14zM874 793h14v14h-14zM888 793h14v14h-14zM846 807h14v14h-14zM860 807h14v14h-14zM846 821h14v14h-14zM832 835h14v14h-14zM846 835h14v14h-14zM832 849h14v14h-14zM832 863h14v14h-14zM832 877h14v14h-14zM832 891h14v14h-14z"/><path fill-opacity="0.367" d="M118 79h14v14h-14zM1014 79h14v14h-14zM118 93h14v14h-14zM1000 93h14v14h-14zM118 107h14v14h-14zM986 107h14v14h-14zM118 121h14v14h-14zM118 135h14v14h-14zM118 149h14v14h-14zM958 149h14v14h-14zM118 163h14v14h-14zM944 163h14v14h-14zM118 177h14v14h-14zM930 177h14v14h-14zM132 205h14v14h-14zM916 205h14v14h-14zM146 219h14v14h-14zM174 247h14v14h-14zM188 261h14v14h-14zM216 275h14v14h-14zM230 275h14v14h-14zM258 289h14v14h-14zM272 289h14v14h-14zM286 289h14v14h-14zM300 303h14v14h-14zM314 317h14v14h-14zM328 331h14v14h-14zM1014 331h14v14h-14zM328 345h14v14h-14zM1056 345h14v14h-14zM342 359h14v14h-14zM1070 359h14v14h-14zM342 373h14v14h-14zM1098 373h14v14h-14zM342 387h14v14h-14zM1098 387h14v14h-14zM342 401h14v14h-14zM1112 401h14v14h-14zM342 415h14v14h-14zM1112 415h14v14h-14zM342 429h14v14h-14zM1112 429h14v14h-14zM328 443h14v14h-14zM342 443h14v14h-14zM328 457h14v14h-14zM342 457h14v14h-14zM328 471h14v14h-14zM342 471h14v14h-14zM1126 471h14v14h-14zM328 485h14v14h-14zM342 485h14v14h-14zM1126 485h14v14h-14zM328 499h14v14h-14zM1126 499h14v14h-14zM328 513h14v14h-14zM1126 513h14v14h-14zM328 527h14v14h-14zM1126 527h14v14h-14zM328 541h14v14h-14zM1126 541h14v14h-14zM328 555h14v14h-14zM1126 555h14v14h-14zM1126 569h14v14h-14zM1126 583h14v14h-14zM1126 597h14v14h-14zM1126 611h14v14h-14zM1126 625h14v14h-14zM1126 639h14v14h-14zM1112 653h14v14h-14zM1126 653h14v14h-14zM1098 667h14v14h-14zM1112 667h14v14h-14zM1084 681h14v14h-14zM1098 681h14v14h-14zM1056 695h14v14h-14zM1070 695h14v14h-14zM1042 709h14v14h-14zM1014 723h14v14h-14zM314 737h14v14h-14zM1000 737h14v14h-14zM314 751h14v14h-14zM972 751h14v14h-14zM986 751h14v14h-14zM62 765h14v14h-14zM300 765h14v14h-14zM958 765h14v14h-14zM90 779h14v14h-14zM104 779h14v14h-14zM118 779h14v14h-14zM132 779h14v14h-14zM146 779h14v14h-14zM272 779h14v14h-14zM286 779h14v14h-14zM930 779h14v14h-14zM944 779h14v14h-14zM188 793h14v14h-14zM202 793h14v14h-14zM216 793h14v14h-14zM230 793h14v14h-14zM244 793h14v14h-14zM902 793h14v14h-14zM916 793h14v14h-14zM874 807h14v14h-14zM888 807h14v14h-14zM902 807h14v14h-14zM860 821h14v14h-14zM874 821h14v14h-14zM860 835h14v14h-14zM846 849h14v14h-14zM860 849h14v14h-14zM846 863h14v14h-14zM860 863h14v14h-14zM846 877h14v14h-14zM846 891h14v14h-14z"/><path fill-opacity="0.383" d="M1028 79h14v14h-14zM1014 93h14v14h-14zM104 107h14v14h-14zM1000 107h14v14h-14zM104 121h14v14h-14zM986 121h14v14h-14zM104 135h14v14h-14zM972 135h14v14h-14zM104 149h14v14h-14zM104 163h14v14h-14zM944 177h14v14h-14zM118 191h14v14h-14zM930 191h14v14h-14zM118 205h14v14h-14zM132 219h14v14h-14zM916 219h14v14h-14zM146 233h14v14h-14zM916 233h14v14h-14zM160 247h14v14h-14zM916 247h14v14h-14zM174 261h14v14h-14zM916 261h14v14h-14zM202 275h14v14h-14zM916 275h14v14h-14zM230 289h14v14h-14zM244 289h14v14h-14zM930 289h14v14h-14zM272 303h14v14h-14zM286 303h14v14h-14zM944 303h14v14h-14zM300 317h14v14h-14zM972 317h14v14h-14zM986 317h14v14h-14zM314 331h14v14h-14zM1028 331h14v14h-14zM1042 331h14v14h-14zM314 345h14v14h-14zM1070 345h14v14h-14zM328 359h14v14h-14zM1084 359h14v14h-14zM1098 359h14v14h-14zM328 373h14v14h-14zM1112 373h14v14h-14zM328 387h14v14h-14zM1112 387h14v14h-14zM314 401h14v14h-14zM328 401h14v14h-14zM1126 401h14v14h-14zM314 415h14v14h-14zM328 415h14v14h-14zM1126 415h14v14h-14zM300 429h14v14h-14zM314 429h14v14h-14zM328 429h14v14h-14zM1126 429h14v14h-14zM300 443h14v14h-14zM314 443h14v14h-14zM1126 443h14v14h-14zM300 457h14v14h-14zM314 457h14v14h-14zM1126 457h14v14h-14zM300 471h14v14h-14zM314 471h14v14h-14zM314 485h14v14h-14zM314 499h14v14h-14zM314 513h14v14h-14zM314 527h14v14h-14zM314 541h14v14h-14zM314 555h14v14h-14zM1140 555h14v14h-14zM314 569h14v14h-14zM1140 569h14v14h-14zM314 583h14v14h-14zM1140 583h14v14h-14zM314 597h14v14h-14zM1140 597h14v14h-14zM314 611h14v14h-14zM1140 611h14v14h-14zM314 625h14v14h-14zM1140 625h14v14h-14zM314 639h14v14h-14zM1140 639h14v14h-14zM314 653h14v14h-14zM1140 653h14v14h-14zM314 667h14v14h-14zM1126 667h14v14h-14zM1140 667h14v14h-14zM314 681h14v14h-14zM1112 681h14v14h-14zM1126 681h14v14h-14zM314 695h14v14h-14zM1084 695h14v14h-14zM1098 695h14v14h-14zM1112 695h14v14h-14zM314 709h14v14h-14zM1056 709h14v14h-14zM1070 709h14v14h-14zM1084 709h14v14h-14zM314 723h14v14h-14zM1028 723h14v14h-14zM1042 723h14v14h-14zM1014 737h14v14h-14zM1028 737h14v14h-14zM300 751h14v14h-14zM1000 751h14v14h-14zM76 765h14v14h-14zM90 765h14v14h-14zM104 765h14v14h-14zM118 765h14v14h-14zM286 765h14v14h-14zM972 765h14v14h-14zM986 765h14v14h-14zM160 779h14v14h-14zM174 779h14v14h-14zM188 779h14v14h-14zM202 779h14v14h-14zM216 779h14v14h-14zM230 779h14v14h-14zM244 779h14v14h-14zM258 779h14v14h-14zM958 779h14v14h-14zM972 779h14v14h-14zM930 793h14v14h-14zM944 793h14v14h-14zM916 807h14v14h-14zM930 807h14v14h-14zM888 821h14v14h-14zM902 821h14v14h-14zM916 821h14v14h-14zM874 835h14v14h-14zM888 835h14v14h-14zM902 835h14v14h-14zM874 849h14v14h-14zM888 849h14v14h-14zM874 863h14v14h-14zM888 863h14v14h-14zM860 877h14v14h-14zM874 877h14v14h-14zM888 877h14v14h-14zM860 891h14v14h-14zM874 891h14v14h-14zM888 891h14v14h-14z"/><path fill-opacity="0.400" d="M104 79h14v14h-14zM1042 79h14v14h-14zM104 93h14v14h-14zM1028 93h14v14h-14zM1014 107h14v14h-14zM1000 121h14v14h-14zM986 135h14v14h-14zM972 149h14v14h-14zM958 163h14v14h-14zM104 177h14v14h-14zM104 191h14v14h-14zM944 191h14v14h-14zM930 205h14v14h-14zM118 219h14v14h-14zM930 219h14v14h-14zM132 233h14v14h-14zM146 247h14v14h-14zM160 261h14v14h-14zM174 275h14v14h-14zM188 275h14v14h-14zM202 289h14v14h-14zM216 289h14v14h-14zM244 303h14v14h-14zM258 303h14v14h-14zM958 303h14v14h-14zM272 317h14v14h-14zM286 317h14v14h-14zM1000 317h14v14h-14zM286 331h14v14h-14zM300 331h14v14h-14zM1056 331h14v14h-14zM300 345h14v14h-14zM1084 345h14v14h-14zM1098 345h14v14h-14zM300 359h14v14h-14zM314 359h14v14h-14zM1112 359h14v14h-14zM300 373h14v14h-14zM314 373h14v14h-14zM1126 373h14v14h-14zM300 387h14v14h-14zM314 387h14v14h-14zM1126 387h14v14h-14zM286 401h14v14h-14zM300 401h14v14h-14zM1140 401h14v14h-14zM286 415h14v14h-14zM300 415h14v14h-14zM1140 415h14v14h-14zM272 429h14v14h-14zM286 429h14v14h-14zM1140 429h14v14h-14zM272 443h14v14h-14zM286 443h14v14h-14zM1140 443h14v14h-14zM272 457h14v14h-14zM286 457h14v14h-14zM1140 457h14v14h-14zM272 471h14v14h-14zM286 471h14v14h-14zM1140 471h14v14h-14zM272 485h14v14h-14zM286 485h14v14h-14zM300 485h14v14h-14zM1140 485h14v14h-14zM286 499h14v14h-14zM300 499h14v14h-14zM1140 499h14v14h-14zM286 513h14v14h-14zM300 513h14v14h-14zM1140 513h14v14h-14zM300 527h14v14h-14zM1140 527h14v14h-14zM300 541h14v14h-14zM1140 541h14v14h-14zM300 555h14v14h-14zM1154 569h14v14h-14zM1154 583h14v14h-14zM1154 597h14v14h-14zM1154 611h14v14h-14zM1154 625h14v14h-14zM1168 625h14v14h-14zM1154 639h14v14h-14zM1168 639h14v14h-14zM1154 653h14v14h-14zM1168 653h14v14h-14zM1154 667h14v14h-14zM1140 681h14v14h-14zM1154 681h14v14h-14zM1126 695h14v14h-14zM1140 695h14v14h-14zM1154 695h14v14h-14zM1098 709h14v14h-14zM1112 709h14v14h-14zM1126 709h14v14h-14zM1140 709h14v14h-14zM300 723h14v14h-14zM1056 723h14v14h-14zM1070 723h14v14h-14zM1084 723h14v14h-14zM1098 723h14v14h-14zM1112 723h14v14h-14zM300 737h14v14h-14zM1042 737h14v14h-14zM1056 737h14v14h-14zM1070 737h14v14h-14zM62 751h14v14h-14zM76 751h14v14h-14zM90 751h14v14h-14zM104 751h14v14h-14zM286 751h14v14h-14zM1014 751h14v14h-14zM1028 751h14v14h-14zM132 765h14v14h-14zM146 765h14v14h-14zM160 765h14v14h-14zM174 765h14v14h-14zM188 765h14v14h-14zM202 765h14v14h-14zM244 765h14v14h-14zM258 765h14v14h-14zM272 765h14v14h-14zM1000 765h14v14h-14zM1014 765h14v14h-14zM986 779h14v14h-14zM1000 779h14v14h-14zM958 793h14v14h-14zM972 793h14v14h-14zM986 793h14v14h-14zM944 807h14v14h-14zM958 807h14v14h-14zM972 807h14v14h-14zM930 821h14v14h-14zM944 821h14v14h-14zM958 821h14v14h-14zM916 835h14v14h-14zM930 835h14v14h-14zM944 835h14v14h-14zM902 849h14v14h-14zM916 849h14v14h-14zM930 849h14v14h-14zM944 849h14v14h-14zM902 863h14v14h-14zM916 863h14v14h-14zM930 863h14v14h-14zM944 863h14v14h-14zM902 877h14v14h-14zM916 877h14v14h-14zM930 877h14v14h-14zM944 877h14v14h-14zM902 891h14v14h-14zM916 891h14v14h-14zM930 891h14v14h-14zM944 891h14v14h-14z"/><path fill-opacity="0.417" d="M90 93h14v14h-14zM90 107h14v14h-14zM1028 107h14v14h-14zM90 121h14v14h-14zM1014 121h14v14h-14zM90 135h14v14h-14zM1000 135h14v14h-14zM90 149h14v14h-14zM986 149h14v14h-14zM90 163h14v14h-14zM972 163h14v14h-14zM90 177h14v14h-14zM958 177h14v14h-14zM104 205h14v14h-14zM944 205h14v14h-14zM118 233h14v14h-14zM930 233h14v14h-14zM132 247h14v14h-14zM930 247h14v14h-14zM146 261h14v14h-14zM930 261h14v14h-14zM160 275h14v14h-14zM930 275h14v14h-14zM188 289h14v14h-14zM944 289h14v14h-14zM216 303h14v14h-14zM230 303h14v14h-14zM972 303h14v14h-14zM244 317h14v14h-14zM258 317h14v14h-14zM1014 317h14v14h-14zM1028 317h14v14h-14zM258 331h14v14h-14zM272 331h14v14h-14zM1070 331h14v14h-14zM1084 331h14v14h-14zM272 345h14v14h-14zM286 345h14v14h-14zM1112 345h14v14h-14zM286 359h14v14h-14zM1126 359h14v14h-14zM272 373h14v14h-14zM286 373h14v14h-14zM1140 373h14v14h-14zM272 387h14v14h-14zM286 387h14v14h-14zM1140 387h14v14h-14zM1154 387h14v14h-14zM258 401h14v14h-14zM272 401h14v14h-14zM1154 401h14v14h-14zM258 415h14v14h-14zM272 415h14v14h-14zM1154 415h14v14h-14zM244 429h14v14h-14zM258 429h14v14h-14zM1154 429h14v14h-14zM244 443h14v14h-14zM258 443h14v14h-14zM1154 443h14v14h-14zM244 457h14v14h-14zM258 457h14v14h-14zM1154 457h14v14h-14zM244 471h14v14h-14zM258 471h14v14h-14zM1154 471h14v14h-14zM244 485h14v14h-14zM258 485h14v14h-14zM1154 485h14v14h-14zM258 499h14v14h-14zM272 499h14v14h-14zM1154 499h14v14h-14zM258 513h14v14h-14zM272 513h14v14h-14zM1154 513h14v14h-14zM272 527h14v14h-14zM286 527h14v14h-14zM1154 527h14v14h-14zM286 541h14v14h-14zM1154 541h14v14h-14zM286 555h14v14h-14zM1154 555h14v14h-14zM300 569h14v14h-14zM300 583h14v14h-14zM1168 583h14v14h-14zM300 597h14v14h-14zM1168 597h14v14h-14zM300 611h14v14h-14zM1168 611h14v14h-14zM300 625h14v14h-14zM1182 625h14v14h-14zM300 639h14v14h-14zM1182 639h14v14h-14zM1182 653h14v14h-14zM1168 667h14v14h-14zM1182 667h14v14h-14zM1168 681h14v14h-14zM1182 681h14v14h-14zM300 695h14v14h-14zM1168 695h14v14h-14zM300 709h14v14h-14zM1154 709h14v14h-14zM1168 709h14v14h-14zM1126 723h14v14h-14zM1140 723h14v14h-14zM1154 723h14v14h-14zM62 737h14v14h-14zM76 737h14v14h-14zM90 737h14v14h-14zM286 737h14v14h-14zM1084 737h14v14h-14zM1098 737h14v14h-14zM1112 737h14v14h-14zM1126 737h14v14h-14zM1140 737h14v14h-14zM118 751h14v14h-14zM132 751h14v14h-14zM146 751h14v14h-14zM160 751h14v14h-14zM258 751h14v14h-14zM272 751h14v14h-14zM1042 751h14v14h-14zM1056 751h14v14h-14zM1070 751h14v14h-14zM1084 751h14v14h-14zM1098 751h14v14h-14zM1112 751h14v14h-14zM1126 751h14v14h-14zM216 765h14v14h-14zM230 765h14v14h-14zM1028 765h14v14h-14zM1042 765h14v14h-14zM1056 765h14v14h-14zM1070 765h14v14h-14zM1014 779h14v14h-14zM1028 779h14v14h-14zM1042 779h14v14h-14zM1000 793h14v14h-14zM1014 793h14v14h-14zM986 807h14v14h-14zM1000 807h14v14h-14zM1014 807h14v14h-14zM972 821h14v14h-14zM986 821h14v14h-14zM1000 821h14v14h-14zM958 835h14v14h-14zM972 835h14v14h-14zM986 835h14v14h-14zM1000 835h14v14h-14zM958 849h14v14h-14zM972 849h14v14h-14zM986 849h14v14h-14zM1000 849h14v14h-14zM958 863h14v14h-14zM972 863h14v14h-14zM986 863h14v14h-14zM1000 863h14v14h-14zM958 877h14v14h-14zM972 877h14v14h-14zM986 877h14v14h-14zM1000 877h14v14h-14zM1014 877h14v14h-14zM958 891h14v14h-14zM972 891h14v14h-14zM986 891h14v14h-14zM1000 891h14v14h-14zM1014 891h14v14h-14z"/><path fill-opacity="0.433" d="M90 79h14v14h-14zM1056 79h14v14h-14zM1042 93h14v14h-14zM76 121h14v14h-14zM76 135h14v14h-14zM76 149h14v14h-14zM1000 149h14v14h-14zM76 163h14v14h-14zM986 163h14v14h-14zM76 177h14v14h-14zM972 177h14v14h-14zM90 191h14v14h-14zM958 191h14v14h-14zM90 205h14v14h-14zM104 219h14v14h-14zM944 219h14v14h-14zM104 233h14v14h-14zM118 247h14v14h-14zM132 261h14v14h-14zM146 275h14v14h-14zM944 275h14v14h-14zM174 289h14v14h-14zM958 289h14v14h-14zM188 303h14v14h-14zM202 303h14v14h-14zM986 303h14v14h-14zM216 317h14v14h-14zM230 317h14v14h-14zM1042 317h14v14h-14zM1056 317h14v14h-14zM1070 317h14v14h-14zM230 331h14v14h-14zM244 331h14v14h-14zM1098 331h14v14h-14zM1112 331h14v14h-14zM244 345h14v14h-14zM258 345h14v14h-14zM1126 345h14v14h-14zM1140 345h14v14h-14zM258 359h14v14h-14zM272 359h14v14h-14zM1140 359h14v14h-14zM1154 359h14v14h-14zM244 373h14v14h-14zM258 373h14v14h-14zM1154 373h14v14h-14zM244 387h14v14h-14zM258 387h14v14h-14zM1168 387h14v14h-14zM230 401h14v14h-14zM244 401h14v14h-14zM1168 401h14v14h-14zM230 415h14v14h-14zM244 415h14v14h-14zM1168 415h14v14h-14zM216 429h14v14h-14zM230 429h14v14h-14zM1168 429h14v14h-14zM216 443h14v14h-14zM230 443h14v14h-14zM1168 443h14v14h-14zM216 457h14v14h-14zM230 457h14v14h-14zM1168 457h14v14h-14zM216 471h14v14h-14zM230 471h14v14h-14zM1168 471h14v14h-14zM216 485h14v14h-14zM230 485h14v14h-14zM1168 485h14v14h-14zM216 499h14v14h-14zM230 499h14v14h-14zM244 499h14v14h-14zM1168 499h14v14h-14zM230 513h14v14h-14zM244 513h14v14h-14zM1168 513h14v14h-14zM244 527h14v14h-14zM258 527h14v14h-14zM1168 527h14v14h-14zM258 541h14v14h-14zM272 541h14v14h-14zM1168 541h14v14h-14zM272 555h14v14h-14zM1168 555h14v14h-14zM272 569h14v14h-14zM286 569h14v14h-14zM1168 569h14v14h-14zM1182 569h14v14h-14zM286 583h14v14h-14zM1182 583h14v14h-14zM286 597h14v14h-14zM1182 597h14v14h-14zM1182 611h14v14h-14zM1196 611h14v14h-14zM1196 625h14v14h-14zM1196 639h14v14h-14zM300 653h14v14h-14zM1196 653h14v14h-14zM300 667h14v14h-14zM1196 667h14v14h-14zM300 681h14v14h-14zM1196 681h14v14h-14zM1182 695h14v14h-14zM1196 695h14v14h-14zM286 709h14v14h-14zM1182 709h14v14h-14zM62 723h14v14h-14zM76 723h14v14h-14zM286 723h14v14h-14zM1168 723h14v14h-14zM1182 723h14v14h-14zM104 737h14v14h-14zM118 737h14v14h-14zM132 737h14v14h-14zM146 737h14v14h-14zM272 737h14v14h-14zM1154 737h14v14h-14zM1168 737h14v14h-14zM174 751h14v14h-14zM188 751h14v14h-14zM202 751h14v14h-14zM216 751h14v14h-14zM230 751h14v14h-14zM244 751h14v14h-14zM1140 751h14v14h-14zM1154 751h14v14h-14zM1084 765h14v14h-14zM1098 765h14v14h-14zM1112 765h14v14h-14zM1126 765h14v14h-14zM1140 765h14v14h-14zM1154 765h14v14h-14zM1056 779h14v14h-14zM1070 779h14v14h-14zM1084 779h14v14h-14zM1098 779h14v14h-14zM1112 779h14v14h-14zM1126 779h14v14h-14zM1140 779h14v14h-14zM1028 793h14v14h-14zM1042 793h14v14h-14zM1056 793h14v14h-14zM1070 793h14v14h-14zM1084 793h14v14h-14zM1098 793h14v14h-14zM1112 793h14v14h-14zM1126 793h14v14h-14zM1028 807h14v14h-14zM1042 807h14v14h-14zM1056 807h14v14h-14zM1070 807h14v14h-14zM1084 807h14v14h-14zM1098 807h14v14h-14zM1112 807h14v14h-14zM1014 821h14v14h-14zM1028 821h14v14h-14zM1042 821h14v14h-14zM1056 821h14v14h-14zM1070 821h14v14h-14zM1084 821h14v14h-14zM1098 821h14v14h-14zM1014 835h14v14h-14zM1028 835h14v14h-14zM1042 835h14v14h-14zM1056 835h14v14h-14zM1070 835h14v14h-14zM1084 835h14v14h-14zM1098 835h14v14h-14zM1014 849h14v14h-14zM1028 849h14v14h-14zM1042 849h14v14h-14zM1056 849h14v14h-14zM1070 849h14v14h-14zM1084 849h14v14h-14zM1098 849h14v14h-14zM1014 863h14v14h-14zM1028 863h14v14h-14zM1042 863h14v14h-14zM1056 863h14v14h-14zM1070 863h14v14h-14zM1084 863h14v14h-14zM1098 863h14v14h-14zM1028 877h14v14h-14zM1042 877h14v14h-14zM1056 877h14v14h-14zM1070 877h14v14h-14zM1084 877h14v14h-14zM1098 877h14v14h-14zM1028 891h14v14h-14zM1042 891h14v14h-14zM1056 891h14v14h-14zM1070 891h14v14h-14zM1084 891h14v14h-14zM1098 891h14v14h-14zM1112 891h14v14h-14z"/><path fill-opacity="0.450" d="M76 79h14v14h-14zM1070 79h14v14h-14zM1322 79h14v14h-14zM1336 79h14v14h-14zM76 93h14v14h-14zM1056 93h14v14h-14zM1336 93h14v14h-14zM76 107h14v14h-14zM1042 107h14v14h-14zM1028 121h14v14h-14zM1014 135h14v14h-14zM76 191h14v14h-14zM972 191h14v14h-14zM76 205h14v14h-14zM958 205h14v14h-14zM90 219h14v14h-14zM944 233h14v14h-14zM104 247h14v14h-14zM944 247h14v14h-14zM118 261h14v14h-14zM944 261h14v14h-14zM132 275h14v14h-14zM160 289h14v14h-14zM174 303h14v14h-14zM1000 303h14v14h-14zM1014 303h14v14h-14zM1028 303h14v14h-14zM188 317h14v14h-14zM202 317h14v14h-14zM1084 317h14v14h-14zM1098 317h14v14h-14zM1112 317h14v14h-14zM216 331h14v14h-14zM1126 331h14v14h-14zM1140 331h14v14h-14zM230 345h14v14h-14zM1154 345h14v14h-14zM230 359h14v14h-14zM244 359h14v14h-14zM1168 359h14v14h-14zM230 373h14v14h-14zM1168 373h14v14h-14zM1182 373h14v14h-14zM216 387h14v14h-14zM230 387h14v14h-14zM1182 387h14v14h-14zM216 401h14v14h-14zM1182 401h14v14h-14zM1196 401h14v14h-14zM202 415h14v14h-14zM216 415h14v14h-14zM1182 415h14v14h-14zM1196 415h14v14h-14zM202 429h14v14h-14zM1182 429h14v14h-14zM1196 429h14v14h-14zM188 443h14v14h-14zM202 443h14v14h-14zM1182 443h14v14h-14zM1196 443h14v14h-14zM188 457h14v14h-14zM202 457h14v14h-14zM1182 457h14v14h-14zM188 471h14v14h-14zM202 471h14v14h-14zM1182 471h14v14h-14zM188 485h14v14h-14zM202 485h14v14h-14zM1182 485h14v14h-14zM188 499h14v14h-14zM202 499h14v14h-14zM1182 499h14v14h-14zM188 513h14v14h-14zM202 513h14v14h-14zM216 513h14v14h-14zM1182 513h14v14h-14zM202 527h14v14h-14zM216 527h14v14h-14zM230 527h14v14h-14zM1182 527h14v14h-14zM216 541h14v14h-14zM230 541h14v14h-14zM244 541h14v14h-14zM1182 541h14v14h-14zM230 555h14v14h-14zM244 555h14v14h-14zM258 555h14v14h-14zM1182 555h14v14h-14zM258 569h14v14h-14zM1196 569h14v14h-14zM272 583h14v14h-14zM1196 583h14v14h-14zM272 597h14v14h-14zM1196 597h14v14h-14zM286 611h14v14h-14zM1210 611h14v14h-14zM286 625h14v14h-14zM1210 625h14v14h-14zM286 639h14v14h-14zM1210 639h14v14h-14zM286 653h14v14h-14zM1210 653h14v14h-14zM286 667h14v14h-14zM1210 667h14v14h-14zM286 681h14v14h-14zM1210 681h14v14h-14zM286 695h14v14h-14zM1210 695h14v14h-14zM62 709h14v14h-14zM76 709h14v14h-14zM1196 709h14v14h-14zM1210 709h14v14h-14zM90 723h14v14h-14zM104 723h14v14h-14zM118 723h14v14h-14zM132 723h14v14h-14zM272 723h14v14h-14zM1196 723h14v14h-14zM160 737h14v14h-14zM174 737h14v14h-14zM188 737h14v14h-14zM202 737h14v14h-14zM216 737h14v14h-14zM230 737h14v14h-14zM244 737h14v14h-14zM258 737h14v14h-14zM1182 737h14v14h-14zM1196 737h14v14h-14zM1168 751h14v14h-14zM1182 751h14v14h-14zM1168 765h14v14h-14zM1182 765h14v14h-14zM1154 779h14v14h-14zM1168 779h14v14h-14zM1140 793h14v14h-14zM1154 793h14v14h-14zM1168 793h14v14h-14zM1126 807h14v14h-14zM1140 807h14v14h-14zM1154 807h14v14h-14zM1168 807h14v14h-14zM1112 821h14v14h-14zM1126 821h14v14h-14zM1140 821h14v14h-14zM1154 821h14v14h-14zM1112 835h14v14h-14zM1126 835h14v14h-14zM1140 835h14v14h-14zM1154 835h14v14h-14zM1112 849h14v14h-14zM1126 849h14v14h-14zM1140 849h14v14h-14zM1154 849h14v14h-14zM1112 863h14v14h-14zM1126 863h14v14h-14zM1140 863h14v14h-14zM1154 863h14v14h-14zM1112 877h14v14h-14zM1126 877h14v14h-14zM1140 877h14v14h-14zM1154 877h14v14h-14zM1126 891h14v14h-14zM1140 891h14v14h-14zM1154 891h14v14h-14zM1168 891h14v14h-14z"/><path fill-opacity="0.467" d="M1084 79h14v14h-14zM1280 79h14v14h-14zM1294 79h14v14h-14zM1308 79h14v14h-14zM62 93h14v14h-14zM1070 93h14v14h-14zM1294 93h14v14h-14zM1308 93h14v14h-14zM1322 93h14v14h-14zM62 107h14v14h-14zM1056 107h14v14h-14zM1294 107h14v14h-14zM1308 107h14v14h-14zM1322 107h14v14h-14zM1336 107h14v14h-14zM62 121h14v14h-14zM1042 121h14v14h-14zM1308 121h14v14h-14zM1322 121h14v14h-14zM1336 121h14v14h-14zM62 135h14v14h-14zM1028 135h14v14h-14zM1322 135h14v14h-14zM1336 135h14v14h-14zM62 149h14v14h-14zM1014 149h14v14h-14zM1336 149h14v14h-14zM62 163h14v14h-14zM1000 163h14v14h-14zM1336 163h14v14h-14zM62 177h14v14h-14zM986 177h14v14h-14zM62 191h14v14h-14zM972 205h14v14h-14zM76 219h14v14h-14zM958 219h14v14h-14zM90 233h14v14h-14zM958 233h14v14h-14zM958 275h14v14h-14zM146 289h14v14h-14zM972 289h14v14h-14zM986 289h14v14h-14zM160 303h14v14h-14zM1042 303h14v14h-14zM1056 303h14v14h-14zM1070 303h14v14h-14zM1084 303h14v14h-14zM174 317h14v14h-14zM1126 317h14v14h-14zM1140 317h14v14h-14zM188 331h14v14h-14zM202 331h14v14h-14zM1154 331h14v14h-14zM1168 331h14v14h-14zM202 345h14v14h-14zM216 345h14v14h-14zM1168 345h14v14h-14zM1182 345h14v14h-14zM1196 345h14v14h-14zM202 359h14v14h-14zM216 359h14v14h-14zM1182 359h14v14h-14zM1196 359h14v14h-14zM202 373h14v14h-14zM216 373h14v14h-14zM1196 373h14v14h-14zM1210 373h14v14h-14zM202 387h14v14h-14zM1196 387h14v14h-14zM1210 387h14v14h-14zM188 401h14v14h-14zM202 401h14v14h-14zM1210 401h14v14h-14zM188 415h14v14h-14zM1210 415h14v14h-14zM174 429h14v14h-14zM188 429h14v14h-14zM1210 429h14v14h-14zM174 443h14v14h-14zM1210 443h14v14h-14zM160 457h14v14h-14zM174 457h14v14h-14zM1196 457h14v14h-14zM1210 457h14v14h-14zM160 471h14v14h-14zM174 471h14v14h-14zM1196 471h14v14h-14zM1210 471h14v14h-14zM146 485h14v14h-14zM160 485h14v14h-14zM174 485h14v14h-14zM1196 485h14v14h-14zM146 499h14v14h-14zM160 499h14v14h-14zM174 499h14v14h-14zM1196 499h14v14h-14zM146 513h14v14h-14zM160 513h14v14h-14zM174 513h14v14h-14zM1196 513h14v14h-14zM146 527h14v14h-14zM160 527h14v14h-14zM174 527h14v14h-14zM188 527h14v14h-14zM1196 527h14v14h-14zM160 541h14v14h-14zM174 541h14v14h-14zM188 541h14v14h-14zM202 541h14v14h-14zM1196 541h14v14h-14zM174 555h14v14h-14zM188 555h14v14h-14zM202 555h14v14h-14zM216 555h14v14h-14zM1196 555h14v14h-14zM1210 555h14v14h-14zM202 569h14v14h-14zM216 569h14v14h-14zM230 569h14v14h-14zM244 569h14v14h-14zM1210 569h14v14h-14zM230 583h14v14h-14zM244 583h14v14h-14zM258 583h14v14h-14zM1210 583h14v14h-14zM258 597h14v14h-14zM1210 597h14v14h-14zM1224 597h14v14h-14zM272 611h14v14h-14zM1224 611h14v14h-14zM272 625h14v14h-14zM1224 625h14v14h-14zM272 639h14v14h-14zM1224 639h14v14h-14zM1238 639h14v14h-14zM1224 653h14v14h-14zM1238 653h14v14h-14zM1224 667h14v14h-14zM1238 667h14v14h-14zM1224 681h14v14h-14zM1238 681h14v14h-14zM62 695h14v14h-14zM76 695h14v14h-14zM90 695h14v14h-14zM272 695h14v14h-14zM1224 695h14v14h-14zM90 709h14v14h-14zM104 709h14v14h-14zM118 709h14v14h-14zM132 709h14v14h-14zM258 709h14v14h-14zM272 709h14v14h-14zM1224 709h14v14h-14zM146 723h14v14h-14zM160 723h14v14h-14zM174 723h14v14h-14zM188 723h14v14h-14zM202 723h14v14h-14zM216 723h14v14h-14zM230 723h14v14h-14zM244 723h14v14h-14zM258 723h14v14h-14zM1210 723h14v14h-14zM1224 723h14v14h-14zM1210 737h14v14h-14zM1224 737h14v14h-14zM1196 751h14v14h-14zM1210 751h14v14h-14zM1196 765h14v14h-14zM1210 765h14v14h-14zM1182 779h14v14h-14zM1196 779h14v14h-14zM1210 779h14v14h-14zM1182 793h14v14h-14zM1196 793h14v14h-14zM1182 807h14v14h-14zM1196 807h14v14h-14zM1168 821h14v14h-14zM1182 821h14v14h-14zM1196 821h14v14h-14zM1168 835h14v14h-14zM1182 835h14v14h-14zM1196 835h14v14h-14zM1168 849h14v14h-14zM1182 849h14v14h-14zM1196 849h14v14h-14zM1168 863h14v14h-14zM1182 863h14v14h-14zM1196 863h14v14h-14zM1168 877h14v14h-14zM1182 877h14v14h-14zM1196 877h14v14h-14zM1182 891h14v14h-14zM1196 891h14v14h-14zM1210 891h14v14h-14z"/><path fill-opacity="0.483" d="M62 79h14v14h-14zM1098 79h14v14h-14zM1252 79h14v14h-14zM1266 79h14v14h-14zM1084 93h14v14h-14zM1252 93h14v14h-14zM1266 93h14v14h-14zM1280 93h14v14h-14zM1070 107h14v14h-14zM1266 107h14v14h-14zM1280 107h14v14h-14zM1056 121h14v14h-14zM1280 121h14v14h-14zM1294 121h14v14h-14zM1042 135h14v14h-14zM1280 135h14v14h-14zM1294 135h14v14h-14zM1308 135h14v14h-14zM1028 149h14v14h-14zM1294 149h14v14h-14zM1308 149h14v14h-14zM1322 149h14v14h-14zM1014 163h14v14h-14zM1294 163h14v14h-14zM1308 163h14v14h-14zM1322 163h14v14h-14zM1000 177h14v14h-14zM1308 177h14v14h-14zM1322 177h14v14h-14zM1336 177h14v14h-14zM986 191h14v14h-14zM1322 191h14v14h-14zM1336 191h14v14h-14zM62 205h14v14h-14zM1322 205h14v14h-14zM1336 205h14v14h-14zM62 219h14v14h-14zM972 219h14v14h-14zM1336 219h14v14h-14zM76 233h14v14h-14zM90 247h14v14h-14zM958 247h14v14h-14zM104 261h14v14h-14zM958 261h14v14h-14zM118 275h14v14h-14zM972 275h14v14h-14zM132 289h14v14h-14zM1000 289h14v14h-14zM1014 289h14v14h-14zM1028 289h14v14h-14zM146 303h14v14h-14zM1098 303h14v14h-14zM1112 303h14v14h-14zM1126 303h14v14h-14zM1140 303h14v14h-14zM1154 303h14v14h-14zM160 317h14v14h-14zM1154 317h14v14h-14zM1168 317h14v14h-14zM1182 317h14v14h-14zM1196 317h14v14h-14zM174 331h14v14h-14zM1182 331h14v14h-14zM1196 331h14v14h-14zM1210 331h14v14h-14zM1224 331h14v14h-14zM188 345h14v14h-14zM1210 345h14v14h-14zM1224 345h14v14h-14zM1238 345h14v14h-14zM188 359h14v14h-14zM1210 359h14v14h-14zM1224 359h14v14h-14zM1238 359h14v14h-14zM1252 359h14v14h-14zM188 373h14v14h-14zM1224 373h14v14h-14zM1238 373h14v14h-14zM1252 373h14v14h-14zM174 387h14v14h-14zM188 387h14v14h-14zM1224 387h14v14h-14zM1238 387h14v14h-14zM1252 387h14v14h-14zM174 401h14v14h-14zM1224 401h14v14h-14zM1238 401h14v14h-14zM1252 401h14v14h-14zM160 415h14v14h-14zM174 415h14v14h-14zM1224 415h14v14h-14zM1238 415h14v14h-14zM1252 415h14v14h-14zM146 429h14v14h-14zM160 429h14v14h-14zM1224 429h14v14h-14zM1238 429h14v14h-14zM1252 429h14v14h-14zM132 443h14v14h-14zM146 443h14v14h-14zM160 443h14v14h-14zM1224 443h14v14h-14zM1238 443h14v14h-14zM132 457h14v14h-14zM146 457h14v14h-14zM1224 457h14v14h-14zM1238 457h14v14h-14zM118 471h14v14h-14zM132 471h14v14h-14zM146 471h14v14h-14zM1224 471h14v14h-14zM1238 471h14v14h-14zM90 485h14v14h-14zM104 485h14v14h-14zM118 485h14v14h-14zM132 485h14v14h-14zM1210 485h14v14h-14zM1224 485h14v14h-14zM76 499h14v14h-14zM90 499h14v14h-14zM104 499h14v14h-14zM118 499h14v14h-14zM132 499h14v14h-14zM1210 499h14v14h-14zM1224 499h14v14h-14zM62 513h14v14h-14zM76 513h14v14h-14zM90 513h14v14h-14zM104 513h14v14h-14zM118 513h14v14h-14zM132 513h14v14h-14zM1210 513h14v14h-14zM1224 513h14v14h-14zM62 527h14v14h-14zM76 527h14v14h-14zM90 527h14v14h-14zM104 527h14v14h-14zM118 527h14v14h-14zM132 527h14v14h-14zM1210 527h14v14h-14zM1224 527h14v14h-14zM62 541h14v14h-14zM76 541h14v14h-14zM90 541h14v14h-14zM104 541h14v14h-14zM118 541h14v14h-14zM132 541h14v14h-14zM146 541h14v14h-14zM1210 541h14v14h-14zM1224 541h14v14h-14zM62 555h14v14h-14zM76 555h14v14h-14zM90 555h14v14h-14zM104 555h14v14h-14zM118 555h14v14h-14zM132 555h14v14h-14zM146 555h14v14h-14zM160 555h14v14h-14zM1224 555h14v14h-14zM62 569h14v14h-14zM76 569h14v14h-14zM90 569h14v14h-14zM104 569h14v14h-14zM118 569h14v14h-14zM132 569h14v14h-14zM146 569h14v14h-14zM160 569h14v14h-14zM174 569h14v14h-14zM188 569h14v14h-14zM1224 569h14v14h-14zM62 583h14v14h-14zM76 583h14v14h-14zM90 583h14v14h-14zM104 583h14v14h-14zM118 583h14v14h-14zM132 583h14v14h-14zM146 583h14v14h-14zM160 583h14v14h-14zM174 583h14v14h-14zM188 583h14v14h-14zM202 583h14v14h-14zM216 583h14v14h-14zM1224 583h14v14h-14zM1238 583h14v14h-14zM62 597h14v14h-14zM76 597h14v14h-14zM202 597h14v14h-14zM216 597h14v14h-14zM230 597h14v14h-14zM244 597h14v14h-14zM1238 597h14v14h-14zM62 611h14v14h-14zM230 611h14v14h-14zM244 611h14v14h-14zM258 611h14v14h-14zM1238 611h14v14h-14zM258 625h14v14h-14zM1238 625h14v14h-14zM1252 625h14v14h-14zM258 639h14v14h-14zM1252 639h14v14h-14zM62 653h14v14h-14zM272 653h14v14h-14zM1252 653h14v14h-14zM62 667h14v14h-14zM76 667h14v14h-14zM272 667h14v14h-14zM1252 667h14v14h-14zM62 681h14v14h-14zM76 681h14v14h-14zM90 681h14v14h-14zM104 681h14v14h-14zM258 681h14v14h-14zM272 681h14v14h-14zM1252 681h14v14h-14zM104 695h14v14h-14zM118 695h14v14h-14zM132 695h14v14h-14zM146 695h14v14h-14zM258 695h14v14h-14zM1238 695h14v14h-14zM1252 695h14v14h-14zM146 709h14v14h-14zM160 709h14v14h-14zM174 709h14v14h-14zM188 709h14v14h-14zM202 709h14v14h-14zM216 709h14v14h-14zM230 709h14v14h-14zM244 709h14v14h-14zM1238 709h14v14h-14zM1252 709h14v14h-14zM1238 723h14v14h-14zM1252 723h14v14h-14zM1238 737h14v14h-14zM1224 751h14v14h-14zM1238 751h14v14h-14zM1224 765h14v14h-14zM1238 765h14v14h-14zM1224 779h14v14h-14zM1238 779h14v14h-14zM1210 793h14v14h-14zM1224 793h14v14h-14zM1238 793h14v14h-14zM1210 807h14v14h-14zM1224 807h14v14h-14zM1238 807h14v14h-14zM1210 821h14v14h-14zM1224 821h14v14h-14zM1238 821h14v14h-14zM1210 835h14v14h-14zM1224 835h14v14h-14zM1238 835h14v14h-14zM1210 849h14v14h-14zM1224 849h14v14h-14zM1238 849h14v14h-14zM1210 863h14v14h-14zM1224 863h14v14h-14zM1238 863h14v14h-14zM1210 877h14v14h-14zM1224 877h14v14h-14zM1238 877h14v14h-14zM1252 877h14v14h-14zM1224 891h14v14h-14zM1238 891h14v14h-14zM1252 891h14v14h-14z"/><path fill-opacity="0.500" d="M1112 79h14v14h-14zM1210 79h14v14h-14zM1224 79h14v14h-14zM1238 79h14v14h-14zM1098 93h14v14h-14zM1224 93h14v14h-14zM1238 93h14v14h-14zM1084 107h14v14h-14zM1238 107h14v14h-14zM1252 107h14v14h-14zM1070 121h14v14h-14zM1238 121h14v14h-14zM1252 121h14v14h-14zM1266 121h14v14h-14zM1056 135h14v14h-14zM1252 135h14v14h-14zM1266 135h14v14h-14zM1042 149h14v14h-14zM1252 149h14v14h-14zM1266 149h14v14h-14zM1280 149h14v14h-14zM1028 163h14v14h-14zM1266 163h14v14h-14zM1280 163h14v14h-14zM1014 177h14v14h-14zM1280 177h14v14h-14zM1294 177h14v14h-14zM1000 191h14v14h-14zM1280 191h14v14h-14zM1294 191h14v14h-14zM1308 191h14v14h-14zM986 205h14v14h-14zM1280 205h14v14h-14zM1294 205h14v14h-14zM1308 205h14v14h-14zM986 219h14v14h-14zM1294 219h14v14h-14zM1308 219h14v14h-14zM1322 219h14v14h-14zM62 233h14v14h-14zM972 233h14v14h-14zM1294 233h14v14h-14zM1308 233h14v14h-14zM1322 233h14v14h-14zM1336 233h14v14h-14zM76 247h14v14h-14zM972 247h14v14h-14zM1294 247h14v14h-14zM1308 247h14v14h-14zM1322 247h14v14h-14zM1336 247h14v14h-14zM90 261h14v14h-14zM972 261h14v14h-14zM1294 261h14v14h-14zM1308 261h14v14h-14zM1322 261h14v14h-14zM1336 261h14v14h-14zM104 275h14v14h-14zM986 275h14v14h-14zM1000 275h14v14h-14zM1294 275h14v14h-14zM1308 275h14v14h-14zM1322 275h14v14h-14zM1336 275h14v14h-14zM118 289h14v14h-14zM1042 289h14v14h-14zM1056 289h14v14h-14zM1070 289h14v14h-14zM1084 289h14v14h-14zM1098 289h14v14h-14zM1112 289h14v14h-14zM1126 289h14v14h-14zM1140 289h14v14h-14zM1154 289h14v14h-14zM1168 289h14v14h-14zM1266 289h14v14h-14zM1280 289h14v14h-14zM1294 289h14v14h-14zM1308 289h14v14h-14zM1322 289h14v14h-14zM1336 289h14v14h-14zM132 303h14v14h-14zM1168 303h14v14h-14zM1182 303h14v14h-14zM1196 303h14v14h-14zM1210 303h14v14h-14zM1224 303h14v14h-14zM1238 303h14v14h-14zM1252 303h14v14h-14zM1266 303h14v14h-14zM1280 303h14v14h-14zM1294 303h14v14h-14zM1308 303h14v14h-14zM1322 303h14v14h-14zM1336 303h14v14h-14zM146 317h14v14h-14zM1210 317h14v14h-14zM1224 317h14v14h-14zM1238 317h14v14h-14zM1252 317h14v14h-14zM1266 317h14v14h-14zM1280 317h14v14h-14zM1294 317h14v14h-14zM1308 317h14v14h-14zM1322 317h14v14h-14zM1336 317h14v14h-14zM160 331h14v14h-14zM1238 331h14v14h-14zM1252 331h14v14h-14zM1266 331h14v14h-14zM1280 331h14v14h-14zM1294 331h14v14h-14zM1308 331h14v14h-14zM1322 331h14v14h-14zM1336 331h14v14h-14zM160 345h14v14h-14zM174 345h14v14h-14zM1252 345h14v14h-14zM1266 345h14v14h-14zM1280 345h14v14h-14zM1294 345h14v14h-14zM1308 345h14v14h-14zM1322 345h14v14h-14zM1336 345h14v14h-14zM174 359h14v14h-14zM1266 359h14v14h-14zM1280 359h14v14h-14zM1294 359h14v14h-14zM1308 359h14v14h-14zM1322 359h14v14h-14zM1336 359h14v14h-14zM160 373h14v14h-14zM174 373h14v14h-14zM1266 373h14v14h-14zM1280 373h14v14h-14zM1294 373h14v14h-14zM1308 373h14v14h-14zM1322 373h14v14h-14zM1336 373h14v14h-14zM160 387h14v14h-14zM1266 387h14v14h-14zM1280 387h14v14h-14zM1294 387h14v14h-14zM1308 387h14v14h-14zM1322 387h14v14h-14zM1336 387h14v14h-14zM146 401h14v14h-14zM160 401h14v14h-14zM1266 401h14v14h-14zM1280 401h14v14h-14zM1294 401h14v14h-14zM1308 401h14v14h-14zM1322 401h14v14h-14zM1336 401h14v14h-14zM132 415h14v14h-14zM146 415h14v14h-14zM1266 415h14v14h-14zM1280 415h14v14h-14zM1294 415h14v14h-14zM1308 415h14v14h-14zM1322 415h14v14h-14zM1336 415h14v14h-14zM118 429h14v14h-14zM132 429h14v14h-14zM1266 429h14v14h-14zM1280 429h14v14h-14zM1294 429h14v14h-14zM1308 429h14v14h-14zM1322 429h14v14h-14zM90 443h14v14h-14zM104 443h14v14h-14zM118 443h14v14h-14zM1252 443h14v14h-14zM1266 443h14v14h-14zM1280 443h14v14h-14zM1294 443h14v14h-14zM1308 443h14v14h-14zM62 457h14v14h-14zM76 457h14v14h-14zM90 457h14v14h-14zM104 457h14v14h-14zM118 457h14v14h-14zM1252 457h14v14h-14zM1266 457h14v14h-14zM1280 457h14v14h-14zM62 471h14v14h-14zM76 471h14v14h-14zM90 471h14v14h-14zM104 471h14v14h-14zM1252 471h14v14h-14zM1266 471h14v14h-14zM1280 471h14v14h-14zM62 485h14v14h-14zM76 485h14v14h-14zM1238 485h14v14h-14zM1252 485h14v14h-14zM1266 485h14v14h-14zM62 499h14v14h-14zM1238 499h14v14h-14zM1252 499h14v14h-14zM1238 513h14v14h-14zM1252 513h14v14h-14zM1238 527h14v14h-14zM1252 527h14v14h-14zM1238 541h14v14h-14zM1252 541h14v14h-14zM1238 555h14v14h-14zM1252 555h14v14h-14zM1238 569h14v14h-14zM1252 569h14v14h-14zM1252 583h14v14h-14zM1266 583h14v14h-14zM90 597h14v14h-14zM104 597h14v14h-14zM118 597h14v14h-14zM132 597h14v14h-14zM146 597h14v14h-14zM160 597h14v14h-14zM174 597h14v14h-14zM188 597h14v14h-14zM1252 597h14v14h-14zM1266 597h14v14h-14zM76 611h14v14h-14zM90 611h14v14h-14zM104 611h14v14h-14zM118 611h14v14h-14zM132 611h14v14h-14zM146 611h14v14h-14zM160 611h14v14h-14zM174 611h14v14h-14zM188 611h14v14h-14zM202 611h14v14h-14zM216 611h14v14h-14zM1252 611h14v14h-14zM1266 611h14v14h-14zM62 625h14v14h-14zM76 625h14v14h-14zM90 625h14v14h-14zM104 625h14v14h-14zM118 625h14v14h-14zM132 625h14v14h-14zM146 625h14v14h-14zM160 625h14v14h-14zM174 625h14v14h-14zM188 625h14v14h-14zM202 625h14v14h-14zM216 625h14v14h-14zM230 625h14v14h-14zM244 625h14v14h-14zM1266 625h14v14h-14zM62 639h14v14h-14zM76 639h14v14h-14zM90 639h14v14h-14zM104 639h14v14h-14zM118 639h14v14h-14zM132 639h14v14h-14zM146 639h14v14h-14zM216 639h14v14h-14zM230 639h14v14h-14zM244 639h14v14h-14zM1266 639h14v14h-14zM1280 639h14v14h-14zM76 653h14v14h-14zM90 653h14v14h-14zM104 653h14v14h-14zM118 653h14v14h-14zM132 653h14v14h-14zM146 653h14v14h-14zM230 653h14v14h-14zM244 653h14v14h-14zM258 653h14v14h-14zM1266 653h14v14h-14zM1280 653h14v14h-14zM90 667h14v14h-14zM104 667h14v14h-14zM118 667h14v14h-14zM132 667h14v14h-14zM146 667h14v14h-14zM160 667h14v14h-14zM230 667h14v14h-14zM244 667h14v14h-14zM258 667h14v14h-14zM1266 667h14v14h-14zM1280 667h14v14h-14zM118 681h14v14h-14zM132 681h14v14h-14zM146 681h14v14h-14zM160 681h14v14h-14zM174 681h14v14h-14zM188 681h14v14h-14zM202 681h14v14h-14zM216 681h14v14h-14zM230 681h14v14h-14zM244 681h14v14h-14zM1266 681h14v14h-14zM1280 681h14v14h-14zM160 695h14v14h-14zM174 695h14v14h-14zM188 695h14v14h-14zM202 695h14v14h-14zM216 695h14v14h-14zM230 695h14v14h-14zM244 695h14v14h-14zM1266 695h14v14h-14zM1280 695h14v14h-14zM1266 709h14v14h-14zM1280 709h14v14h-14zM1266 723h14v14h-14zM1280 723h14v14h-14zM1252 737h14v14h-14zM1266 737h14v14h-14zM1280 737h14v14h-14zM1252 751h14v14h-14zM1266 751h14v14h-14zM1280 751h14v14h-14zM1252 765h14v14h-14zM1266 765h14v14h-14zM1280 765h14v14h-14zM1252 779h14v14h-14zM1266 779h14v14h-14zM1280 779h14v14h-14zM1252 793h14v14h-14zM1266 793h14v14h-14zM1280 793h14v14h-14zM1252 807h14v14h-14zM1266 807h14v14h-14zM1280 807h14v14h-14zM1252 821h14v14h-14zM1266 821h14v14h-14zM1280 821h14v14h-14zM1294 821h14v14h-14zM1252 835h14v14h-14zM1266 835h14v14h-14zM1280 835h14v14h-14zM1294 835h14v14h-14zM1252 849h14v14h-14zM1266 849h14v14h-14zM1280 849h14v14h-14zM1294 849h14v14h-14zM1308 849h14v14h-14zM1252 863h14v14h-14zM1266 863h14v14h-14zM1280 863h14v14h-14zM1294 863h14v14h-14zM1308 863h14v14h-14zM1322 863h14v14h-14zM1266 877h14v14h-14zM1280 877h14v14h-14zM1294 877h14v14h-14zM1308 877h14v14h-14zM1322 877h14v14h-14zM1336 877h14v14h-14zM1266 891h14v14h-14zM1280 891h14v14h-14zM1294 891h14v14h-14zM1308 891h14v14h-14zM1322 891h14v14h-14zM1336 891h14v14h-14z"/><path fill-opacity="0.517" d="M1126 79h14v14h-14zM1140 79h14v14h-14zM1154 79h14v14h-14zM1168 79h14v14h-14zM1182 79h14v14h-14zM1196 79h14v14h-14zM1112 93h14v14h-14zM1126 93h14v14h-14zM1196 93h14v14h-14zM1210 93h14v14h-14zM1098 107h14v14h-14zM1196 107h14v14h-14zM1210 107h14v14h-14zM1224 107h14v14h-14zM1084 121h14v14h-14zM1210 121h14v14h-14zM1224 121h14v14h-14zM1070 135h14v14h-14zM1224 135h14v14h-14zM1238 135h14v14h-14zM1056 149h14v14h-14zM1224 149h14v14h-14zM1238 149h14v14h-14zM1042 163h14v14h-14zM1238 163h14v14h-14zM1252 163h14v14h-14zM1028 177h14v14h-14zM1238 177h14v14h-14zM1252 177h14v14h-14zM1266 177h14v14h-14zM1014 191h14v14h-14zM1252 191h14v14h-14zM1266 191h14v14h-14zM1000 205h14v14h-14zM1252 205h14v14h-14zM1266 205h14v14h-14zM1000 219h14v14h-14zM1252 219h14v14h-14zM1266 219h14v14h-14zM1280 219h14v14h-14zM986 233h14v14h-14zM1252 233h14v14h-14zM1266 233h14v14h-14zM1280 233h14v14h-14zM62 247h14v14h-14zM986 247h14v14h-14zM1238 247h14v14h-14zM1252 247h14v14h-14zM1266 247h14v14h-14zM1280 247h14v14h-14zM76 261h14v14h-14zM986 261h14v14h-14zM1000 261h14v14h-14zM1224 261h14v14h-14zM1238 261h14v14h-14zM1252 261h14v14h-14zM1266 261h14v14h-14zM1280 261h14v14h-14zM90 275h14v14h-14zM1014 275h14v14h-14zM1028 275h14v14h-14zM1042 275h14v14h-14zM1056 275h14v14h-14zM1070 275h14v14h-14zM1084 275h14v14h-14zM1098 275h14v14h-14zM1112 275h14v14h-14zM1126 275h14v14h-14zM1140 275h14v14h-14zM1154 275h14v14h-14zM1168 275h14v14h-14zM1182 275h14v14h-14zM1196 275h14v14h-14zM1210 275h14v14h-14zM1224 275h14v14h-14zM1238 275h14v14h-14zM1252 275h14v14h-14zM1266 275h14v14h-14zM1280 275h14v14h-14zM104 289h14v14h-14zM1182 289h14v14h-14zM1196 289h14v14h-14zM1210 289h14v14h-14zM1224 289h14v14h-14zM1238 289h14v14h-14zM1252 289h14v14h-14zM118 303h14v14h-14zM132 317h14v14h-14zM132 331h14v14h-14zM146 331h14v14h-14zM146 345h14v14h-14zM146 359h14v14h-14zM160 359h14v14h-14zM146 373h14v14h-14zM132 387h14v14h-14zM146 387h14v14h-14zM118 401h14v14h-14zM132 401h14v14h-14zM90 415h14v14h-14zM104 415h14v14h-14zM118 415h14v14h-14zM62 429h14v14h-14zM76 429h14v14h-14zM90 429h14v14h-14zM104 429h14v14h-14zM1336 429h14v14h-14zM62 443h14v14h-14zM76 443h14v14h-14zM1322 443h14v14h-14zM1336 443h14v14h-14zM1294 457h14v14h-14zM1308 457h14v14h-14zM1322 457h14v14h-14zM1336 457h14v14h-14zM1294 471h14v14h-14zM1308 471h14v14h-14zM1322 471h14v14h-14zM1336 471h14v14h-14zM1280 485h14v14h-14zM1294 485h14v14h-14zM1308 485h14v14h-14zM1322 485h14v14h-14zM1336 485h14v14h-14zM1266 499h14v14h-14zM1280 499h14v14h-14zM1294 499h14v14h-14zM1308 499h14v14h-14zM1322 499h14v14h-14zM1336 499h14v14h-14zM1266 513h14v14h-14zM1280 513h14v14h-14zM1294 513h14v14h-14zM1308 513h14v14h-14zM1266 527h14v14h-14zM1280 527h14v14h-14zM1294 527h14v14h-14zM1266 541h14v14h-14zM1280 541h14v14h-14zM1294 541h14v14h-14zM1266 555h14v14h-14zM1280 555h14v14h-14zM1294 555h14v14h-14zM1266 569h14v14h-14zM1280 569h14v14h-14zM1294 569h14v14h-14zM1280 583h14v14h-14zM1294 583h14v14h-14zM1280 597h14v14h-14zM1294 597h14v14h-14zM1280 611h14v14h-14zM1294 611h14v14h-14zM1280 625h14v14h-14zM1294 625h14v14h-14zM160 639h14v14h-14zM174 639h14v14h-14zM188 639h14v14h-14zM202 639h14v14h-14zM1294 639h14v14h-14zM1308 639h14v14h-14zM160 653h14v14h-14zM174 653h14v14h-14zM188 653h14v14h-14zM202 653h14v14h-14zM216 653h14v14h-14zM1294 653h14v14h-14zM1308 653h14v14h-14zM174 667h14v14h-14zM188 667h14v14h-14zM202 667h14v14h-14zM216 667h14v14h-14zM1294 667h14v14h-14zM1308 667h14v14h-14zM1294 681h14v14h-14zM1308 681h14v14h-14zM1294 695h14v14h-14zM1308 695h14v14h-14zM1294 709h14v14h-14zM1308 709h14v14h-14zM1322 709h14v14h-14zM1294 723h14v14h-14zM1308 723h14v14h-14zM1322 723h14v14h-14zM1294 737h14v14h-14zM1308 737h14v14h-14zM1322 737h14v14h-14zM1294 751h14v14h-14zM1308 751h14v14h-14zM1322 751h14v14h-14zM1294 765h14v14h-14zM1308 765h14v14h-14zM1322 765h14v14h-14zM1336 765h14v14h-14zM1294 779h14v14h-14zM1308 779h14v14h-14zM1322 779h14v14h-14zM1336 779h14v14h-14zM1294 793h14v14h-14zM1308 793h14v14h-14zM1322 793h14v14h-14zM1336 793h14v14h-14zM1294 807h14v14h-14zM1308 807h14v14h-14zM1322 807h14v14h-14zM1336 807h14v14h-14zM1308 821h14v14h-14zM1322 821h14v14h-14zM1336 821h14v14h-14zM1308 835h14v14h-14zM1322 835h14v14h-14zM1336 835h14v14h-14zM1322 849h14v14h-14zM1336 849h14v14h-14zM1336 863h14v14h-14z"/><path fill-opacity="0.533" d="M1140 93h14v14h-14zM1154 93h14v14h-14zM1168 93h14v14h-14zM1182 93h14v14h-14zM1112 107h14v14h-14zM1126 107h14v14h-14zM1140 107h14v14h-14zM1154 107h14v14h-14zM1168 107h14v14h-14zM1182 107h14v14h-14zM1098 121h14v14h-14zM1112 121h14v14h-14zM1182 121h14v14h-14zM1196 121h14v14h-14zM1084 135h14v14h-14zM1098 135h14v14h-14zM1196 135h14v14h-14zM1210 135h14v14h-14zM1070 149h14v14h-14zM1196 149h14v14h-14zM1210 149h14v14h-14zM1056 163h14v14h-14zM1210 163h14v14h-14zM1224 163h14v14h-14zM1042 177h14v14h-14zM1210 177h14v14h-14zM1224 177h14v14h-14zM1028 191h14v14h-14zM1210 191h14v14h-14zM1224 191h14v14h-14zM1238 191h14v14h-14zM1014 205h14v14h-14zM1210 205h14v14h-14zM1224 205h14v14h-14zM1238 205h14v14h-14zM1014 219h14v14h-14zM1210 219h14v14h-14zM1224 219h14v14h-14zM1238 219h14v14h-14zM1000 233h14v14h-14zM1196 233h14v14h-14zM1210 233h14v14h-14zM1224 233h14v14h-14zM1238 233h14v14h-14zM1000 247h14v14h-14zM1168 247h14v14h-14zM1182 247h14v14h-14zM1196 247h14v14h-14zM1210 247h14v14h-14zM1224 247h14v14h-14zM62 261h14v14h-14zM1014 261h14v14h-14zM1028 261h14v14h-14zM1042 261h14v14h-14zM1056 261h14v14h-14zM1070 261h14v14h-14zM1084 261h14v14h-14zM1098 261h14v14h-14zM1112 261h14v14h-14zM1126 261h14v14h-14zM1140 261h14v14h-14zM1154 261h14v14h-14zM1168 261h14v14h-14zM1182 261h14v14h-14zM1196 261h14v14h-14zM1210 261h14v14h-14zM76 275h14v14h-14zM90 289h14v14h-14zM90 303h14v14h-14zM104 303h14v14h-14zM104 317h14v14h-14zM118 317h14v14h-14zM118 331h14v14h-14zM118 345h14v14h-14zM132 345h14v14h-14zM118 359h14v14h-14zM132 359h14v14h-14zM118 373h14v14h-14zM132 373h14v14h-14zM90 387h14v14h-14zM104 387h14v14h-14zM118 387h14v14h-14zM62 401h14v14h-14zM76 401h14v14h-14zM90 401h14v14h-14zM104 401h14v14h-14zM62 415h14v14h-14zM76 415h14v14h-14zM1322 513h14v14h-14zM1336 513h14v14h-14zM1308 527h14v14h-14zM1322 527h14v14h-14zM1336 527h14v14h-14zM1308 541h14v14h-14zM1322 541h14v14h-14zM1336 541h14v14h-14zM1308 555h14v14h-14zM1322 555h14v14h-14zM1336 555h14v14h-14zM1308 569h14v14h-14zM1322 569h14v14h-14zM1336 569h14v14h-14zM1308 583h14v14h-14zM1322 583h14v14h-14zM1336 583h14v14h-14zM1308 597h14v14h-14zM1322 597h14v14h-14zM1336 597h14v14h-14zM1308 611h14v14h-14zM1322 611h14v14h-14zM1336 611h14v14h-14zM1308 625h14v14h-14zM1322 625h14v14h-14zM1336 625h14v14h-14zM1322 639h14v14h-14zM1336 639h14v14h-14zM1322 653h14v14h-14zM1336 653h14v14h-14zM1322 667h14v14h-14zM1336 667h14v14h-14zM1322 681h14v14h-14zM1336 681h14v14h-14zM1322 695h14v14h-14zM1336 695h14v14h-14zM1336 709h14v14h-14zM1336 723h14v14h-14zM1336 737h14v14h-14zM1336 751h14v14h-14z"/><path fill-opacity="0.550" d="M1126 121h14v14h-14zM1140 121h14v14h-14zM1154 121h14v14h-14zM1168 121h14v14h-14zM1112 135h14v14h-14zM1126 135h14v14h-14zM1140 135h14v14h-14zM1154 135h14v14h-14zM1168 135h14v14h-14zM1182 135h14v14h-14zM1084 149h14v14h-14zM1098 149h14v14h-14zM1168 149h14v14h-14zM1182 149h14v14h-14zM1070 163h14v14h-14zM1084 163h14v14h-14zM1168 163h14v14h-14zM1182 163h14v14h-14zM1196 163h14v14h-14zM1056 177h14v14h-14zM1070 177h14v14h-14zM1182 177h14v14h-14zM1196 177h14v14h-14zM1042 191h14v14h-14zM1056 191h14v14h-14zM1182 191h14v14h-14zM1196 191h14v14h-14zM1028 205h14v14h-14zM1042 205h14v14h-14zM1168 205h14v14h-14zM1182 205h14v14h-14zM1196 205h14v14h-14zM1028 219h14v14h-14zM1168 219h14v14h-14zM1182 219h14v14h-14zM1196 219h14v14h-14zM1014 233h14v14h-14zM1028 233h14v14h-14zM1140 233h14v14h-14zM1154 233h14v14h-14zM1168 233h14v14h-14zM1182 233h14v14h-14zM1014 247h14v14h-14zM1028 247h14v14h-14zM1042 247h14v14h-14zM1056 247h14v14h-14zM1070 247h14v14h-14zM1084 247h14v14h-14zM1098 247h14v14h-14zM1112 247h14v14h-14zM1126 247h14v14h-14zM1140 247h14v14h-14zM1154 247h14v14h-14zM62 275h14v14h-14zM62 289h14v14h-14zM76 289h14v14h-14zM76 303h14v14h-14zM90 317h14v14h-14zM90 331h14v14h-14zM104 331h14v14h-14zM104 345h14v14h-14zM90 359h14v14h-14zM104 359h14v14h-14zM76 373h14v14h-14zM90 373h14v14h-14zM104 373h14v14h-14zM62 387h14v14h-14zM76 387h14v14h-14z"/><path fill-opacity="0.567" d="M1112 149h14v14h-14zM1126 149h14v14h-14zM1140 149h14v14h-14zM1154 149h14v14h-14zM1098 163h14v14h-14zM1112 163h14v14h-14zM1126 163h14v14h-14zM1140 163h14v14h-14zM1154 163h14v14h-14zM1084 177h14v14h-14zM1098 177h14v14h-14zM1112 177h14v14h-14zM1126 177h14v14h-14zM1140 177h14v14h-14zM1154 177h14v14h-14zM1168 177h14v14h-14zM1070 191h14v14h-14zM1084 191h14v14h-14zM1098 191h14v14h-14zM1112 191h14v14h-14zM1126 191h14v14h-14zM1140 191h14v14h-14zM1154 191h14v14h-14zM1168 191h14v14h-14zM1056 205h14v14h-14zM1070 205h14v14h-14zM1084 205h14v14h-14zM1098 205h14v14h-14zM1112 205h14v14h-14zM1126 205h14v14h-14zM1140 205h14v14h-14zM1154 205h14v14h-14zM1042 219h14v14h-14zM1056 219h14v14h-14zM1070 219h14v14h-14zM1084 219h14v14h-14zM1098 219h14v14h-14zM1112 219h14v14h-14zM1126 219h14v14h-14zM1140 219h14v14h-14zM1154 219h14v14h-14zM1042 233h14v14h-14zM1056 233h14v14h-14zM1070 233h14v14h-14zM1084 233h14v14h-14zM1098 233h14v14h-14zM1112 233h14v14h-14zM1126 233h14v14h-14zM62 303h14v14h-14zM62 317h14v14h-14zM76 317h14v14h-14zM76 331h14v14h-14zM76 345h14v14h-14zM90 345h14v14h-14zM62 359h14v14h-14zM76 359h14v14h-14zM62 373h14v14h-14z"/><path fill-opacity="0.583" d="M62 331h14v14h-14zM62 345h14v14h-14z"/></g></g>
<g mask="url(#trmask)">
<polyline points="151.0,185.0 199.0,233.0" fill="none" stroke="#30b1b3" stroke-width="3.0" stroke-opacity="1.0" stroke-linejoin="round" stroke-linecap="butt"/>
<polyline points="163.0,171.0 199.0,209.0 214.0,209.0 238.0,233.0 264.0,233.0" fill="none" stroke="#30b1b3" stroke-width="3.0" stroke-opacity="1.0" stroke-linejoin="round" stroke-linecap="butt"/>
<linearGradient id="tf1" gradientUnits="userSpaceOnUse" x1="180.0" y1="151.0" x2="195.3" y2="166.8"><stop offset="0" stop-color="#30b1b3" stop-opacity="0"/><stop offset="1" stop-color="#30b1b3" stop-opacity="1.0"/></linearGradient>
<line x1="180.0" y1="151.0" x2="195.3" y2="166.8" stroke="url(#tf1)" stroke-width="3.0"/>
<polyline points="195.3,166.8 234.0,207.0 304.0,207.0 368.0,273.0 368.0,300.0" fill="none" stroke="#30b1b3" stroke-width="3.0" stroke-opacity="1.0" stroke-linejoin="round" stroke-linecap="butt"/>
<linearGradient id="tf2" gradientUnits="userSpaceOnUse" x1="224.0" y1="153.0" x2="239.6" y2="168.6"><stop offset="0" stop-color="#30b1b3" stop-opacity="0"/><stop offset="1" stop-color="#30b1b3" stop-opacity="1.0"/></linearGradient>
<line x1="224.0" y1="153.0" x2="239.6" y2="168.6" stroke="url(#tf2)" stroke-width="3.0"/>
<polyline points="239.6,168.6 250.0,179.0 352.0,179.0 441.0,273.0 488.0,273.0 488.0,301.0 460.0,301.0 460.0,340.0" fill="none" stroke="#30b1b3" stroke-width="3.0" stroke-opacity="1.0" stroke-linejoin="round" stroke-linecap="butt"/>
<linearGradient id="tf3" gradientUnits="userSpaceOnUse" x1="148.0" y1="254.0" x2="163.3" y2="269.8"><stop offset="0" stop-color="#30b1b3" stop-opacity="0"/><stop offset="1" stop-color="#30b1b3" stop-opacity="1.0"/></linearGradient>
<line x1="148.0" y1="254.0" x2="163.3" y2="269.8" stroke="url(#tf3)" stroke-width="3.0"/>
<polyline points="163.3,269.8 200.0,308.0 312.0,308.0" fill="none" stroke="#30b1b3" stroke-width="3.0" stroke-opacity="1.0" stroke-linejoin="round" stroke-linecap="butt"/>
<polyline points="338.0,262.0 344.0,272.0 344.0,314.0" fill="none" stroke="#30b1b3" stroke-width="3.0" stroke-opacity="1.0" stroke-linejoin="round" stroke-linecap="butt"/>
<polyline points="218.0,246.0 246.0,246.0" fill="none" stroke="#30b1b3" stroke-width="3.0" stroke-opacity="1.0" stroke-linejoin="round" stroke-linecap="butt"/>
<polyline points="256.0,246.0 264.0,246.0" fill="none" stroke="#30b1b3" stroke-width="3.0" stroke-opacity="1.0" stroke-linejoin="round" stroke-linecap="butt"/>
<polyline points="308.0,245.0 316.0,245.0" fill="none" stroke="#30b1b3" stroke-width="3.0" stroke-opacity="1.0" stroke-linejoin="round" stroke-linecap="butt"/>
<linearGradient id="tf4" gradientUnits="userSpaceOnUse" x1="456.0" y1="151.0" x2="468.0" y2="162.0"><stop offset="0" stop-color="#30b1b3" stop-opacity="0"/><stop offset="1" stop-color="#30b1b3" stop-opacity="1.0"/></linearGradient>
<line x1="456.0" y1="151.0" x2="468.0" y2="162.0" stroke="url(#tf4)" stroke-width="3.0"/>
<polyline points="468.0,162.0 468.0,162.0 556.0,162.0" fill="none" stroke="#30b1b3" stroke-width="3.0" stroke-opacity="1.0" stroke-linejoin="round" stroke-linecap="butt"/>
<polyline points="410.0,173.0 448.0,173.0 474.0,200.0 535.0,200.0 535.0,245.0" fill="none" stroke="#30b1b3" stroke-width="3.0" stroke-opacity="1.0" stroke-linejoin="round" stroke-linecap="butt"/>
<polyline points="577.0,310.0 606.0,339.0" fill="none" stroke="#30b1b3" stroke-width="3.0" stroke-opacity="1.0" stroke-linejoin="round" stroke-linecap="butt"/>
<polyline points="677.0,178.0 698.0,159.0 844.0,159.0 897.0,212.0 1036.0,213.0 1056.0,192.0" fill="none" stroke="#30b1b3" stroke-width="3.0" stroke-opacity="1.0" stroke-linejoin="round" stroke-linecap="butt"/>
<polyline points="757.0,233.0 809.0,233.0" fill="none" stroke="#30b1b3" stroke-width="3.0" stroke-opacity="1.0" stroke-linejoin="round" stroke-linecap="butt"/>
<polyline points="845.0,196.0 736.0,308.0 736.0,340.0" fill="none" stroke="#30b1b3" stroke-width="3.0" stroke-opacity="1.0" stroke-linejoin="round" stroke-linecap="butt"/>
<polyline points="677.0,272.0 686.0,272.0 704.0,253.0" fill="none" stroke="#30b1b3" stroke-width="3.0" stroke-opacity="1.0" stroke-linejoin="round" stroke-linecap="butt"/>
<polyline points="799.3,340.0 799.3,300.8 855.8,243.0 1064.0,243.0 1072.0,251.0" fill="none" stroke="#30b1b3" stroke-width="3.0" stroke-opacity="1.0" stroke-linejoin="round" stroke-linecap="butt"/>
<polyline points="842.0,259.0 940.0,259.0" fill="none" stroke="#30b1b3" stroke-width="3.0" stroke-opacity="1.0" stroke-linejoin="round" stroke-linecap="butt"/>
<linearGradient id="tf5" gradientUnits="userSpaceOnUse" x1="919.0" y1="154.0" x2="926.0" y2="161.0"><stop offset="0" stop-color="#30b1b3" stop-opacity="0"/><stop offset="1" stop-color="#30b1b3" stop-opacity="1.0"/></linearGradient>
<line x1="919.0" y1="154.0" x2="926.0" y2="161.0" stroke="url(#tf5)" stroke-width="3.0"/>
<polyline points="926.0,161.0 926.0,161.0 1097.0,161.0" fill="none" stroke="#30b1b3" stroke-width="3.0" stroke-opacity="1.0" stroke-linejoin="round" stroke-linecap="butt"/>
<linearGradient id="tf6" gradientUnits="userSpaceOnUse" x1="1165.0" y1="154.0" x2="1165.0" y2="176.0"><stop offset="0" stop-color="#30b1b3" stop-opacity="0"/><stop offset="1" stop-color="#30b1b3" stop-opacity="1.0"/></linearGradient>
<line x1="1165.0" y1="154.0" x2="1165.0" y2="176.0" stroke="url(#tf6)" stroke-width="3.0"/>
<polyline points="1165.0,176.0 1165.0,202.0" fill="none" stroke="#30b1b3" stroke-width="3.0" stroke-opacity="1.0" stroke-linejoin="round" stroke-linecap="butt"/>
<linearGradient id="tf7" gradientUnits="userSpaceOnUse" x1="1197.0" y1="153.0" x2="1188.0" y2="162.0"><stop offset="0" stop-color="#30b1b3" stop-opacity="0"/><stop offset="1" stop-color="#30b1b3" stop-opacity="1.0"/></linearGradient>
<line x1="1197.0" y1="153.0" x2="1188.0" y2="162.0" stroke="url(#tf7)" stroke-width="3.0"/>
<polyline points="1188.0,162.0 1188.0,162.0 1188.0,221.0 1178.0,232.0" fill="none" stroke="#30b1b3" stroke-width="3.0" stroke-opacity="1.0" stroke-linejoin="round" stroke-linecap="butt"/>
<polyline points="1142.0,233.0 1125.5,250.0 1125.5,301.0 1156.0,301.0" fill="none" stroke="#30b1b3" stroke-width="3.0" stroke-opacity="1.0" stroke-linejoin="round" stroke-linecap="butt"/>
<polyline points="1144.0,263.0 1158.5,249.0" fill="none" stroke="#30b1b3" stroke-width="3.0" stroke-opacity="1.0" stroke-linejoin="round" stroke-linecap="butt"/>
<polyline points="1188.0,257.0 1214.6,229.5 1252.0,229.5 1272.0,250.0" fill="none" stroke="#30b1b3" stroke-width="3.0" stroke-opacity="1.0" stroke-linejoin="round" stroke-linecap="butt"/>
<polyline points="1253.0,258.0 1274.0,277.0" fill="none" stroke="#30b1b3" stroke-width="3.0" stroke-opacity="1.0" stroke-linejoin="round" stroke-linecap="butt"/>
<polyline points="1164.0,331.0 1164.0,420.0 1129.0,456.0" fill="none" stroke="#30b1b3" stroke-width="3.0" stroke-opacity="1.0" stroke-linejoin="round" stroke-linecap="butt"/>
<polyline points="1182.0,331.0 1182.0,343.0 1209.0,372.7 1270.0,372.7" fill="none" stroke="#30b1b3" stroke-width="3.0" stroke-opacity="1.0" stroke-linejoin="round" stroke-linecap="butt"/>
<polyline points="1192.6,394.7 1270.0,394.7" fill="none" stroke="#30b1b3" stroke-width="3.0" stroke-opacity="1.0" stroke-linejoin="round" stroke-linecap="butt"/>
<polyline points="1190.0,446.0 1212.0,425.5 1270.0,425.5" fill="none" stroke="#30b1b3" stroke-width="3.0" stroke-opacity="1.0" stroke-linejoin="round" stroke-linecap="butt"/>
<polyline points="1041.0,327.6 1052.0,337.5 1143.0,337.5 1143.0,402.0 1108.0,442.0" fill="none" stroke="#30b1b3" stroke-width="3.0" stroke-opacity="1.0" stroke-linejoin="round" stroke-linecap="butt"/>
<polyline points="1105.7,371.6 1105.7,393.6" fill="none" stroke="#30b1b3" stroke-width="3.0" stroke-opacity="1.0" stroke-linejoin="round" stroke-linecap="butt"/>
<polyline points="1038.6,476.0 1076.0,476.0 1086.0,466.0" fill="none" stroke="#30b1b3" stroke-width="3.0" stroke-opacity="1.0" stroke-linejoin="round" stroke-linecap="butt"/>
<polyline points="975.0,437.6 1043.0,437.6" fill="none" stroke="#30b1b3" stroke-width="3.0" stroke-opacity="1.0" stroke-linejoin="round" stroke-linecap="butt"/>
<polyline points="971.0,455.0 1043.0,455.0" fill="none" stroke="#30b1b3" stroke-width="3.0" stroke-opacity="1.0" stroke-linejoin="round" stroke-linecap="butt"/>
<polyline points="750.0,500.0 1178.0,500.0 1210.4,533.2 1268.0,533.2" fill="none" stroke="#30b1b3" stroke-width="3.0" stroke-opacity="1.0" stroke-linejoin="round" stroke-linecap="butt"/>
<linearGradient id="tf8" gradientUnits="userSpaceOnUse" x1="139.0" y1="329.0" x2="161.0" y2="329.0"><stop offset="0" stop-color="#30b1b3" stop-opacity="0"/><stop offset="1" stop-color="#30b1b3" stop-opacity="1.0"/></linearGradient>
<line x1="139.0" y1="329.0" x2="161.0" y2="329.0" stroke="url(#tf8)" stroke-width="3.0"/>
<polyline points="161.0,329.0 241.0,329.0" fill="none" stroke="#30b1b3" stroke-width="3.0" stroke-opacity="1.0" stroke-linejoin="round" stroke-linecap="butt"/>
<polyline points="258.0,347.4 286.0,376.0 294.0,376.0" fill="none" stroke="#30b1b3" stroke-width="3.0" stroke-opacity="1.0" stroke-linejoin="round" stroke-linecap="butt"/>
<polyline points="248.0,391.0 264.0,405.0 292.0,405.0" fill="none" stroke="#30b1b3" stroke-width="3.0" stroke-opacity="1.0" stroke-linejoin="round" stroke-linecap="butt"/>
<polyline points="315.0,405.0 348.0,405.0" fill="none" stroke="#30b1b3" stroke-width="3.0" stroke-opacity="1.0" stroke-linejoin="round" stroke-linecap="butt"/>
<linearGradient id="tf9" gradientUnits="userSpaceOnUse" x1="139.7" y1="403.5" x2="154.9" y2="419.4"><stop offset="0" stop-color="#30b1b3" stop-opacity="0"/><stop offset="1" stop-color="#30b1b3" stop-opacity="1.0"/></linearGradient>
<line x1="139.7" y1="403.5" x2="154.9" y2="419.4" stroke="url(#tf9)" stroke-width="3.0"/>
<polyline points="154.9,419.4 157.3,422.0 224.4,422.0 259.6,455.0 348.0,455.0" fill="none" stroke="#30b1b3" stroke-width="3.0" stroke-opacity="1.0" stroke-linejoin="round" stroke-linecap="butt"/>
<polyline points="308.0,497.0 270.6,535.0 270.6,654.0 309.0,654.0 309.0,700.0 271.0,744.0 271.0,797.0" fill="none" stroke="#30b1b3" stroke-width="3.0" stroke-opacity="1.0" stroke-linejoin="round" stroke-linecap="butt"/>
<polyline points="348.0,488.0 291.5,546.0 291.5,570.0" fill="none" stroke="#30b1b3" stroke-width="3.0" stroke-opacity="1.0" stroke-linejoin="round" stroke-linecap="butt"/>
<polyline points="799.4,340.0 799.4,343.0 775.0,368.0 775.0,421.0" fill="none" stroke="#30b1b3" stroke-width="3.0" stroke-opacity="1.0" stroke-linejoin="round" stroke-linecap="butt"/>
<polyline points="827.0,390.0 861.0,390.0 916.0,334.0 958.0,334.0" fill="none" stroke="#30b1b3" stroke-width="3.0" stroke-opacity="1.0" stroke-linejoin="round" stroke-linecap="butt"/>
<polyline points="750.0,455.0 792.0,455.0 828.0,417.0 910.0,417.0" fill="none" stroke="#30b1b3" stroke-width="3.0" stroke-opacity="1.0" stroke-linejoin="round" stroke-linecap="butt"/>
<linearGradient id="tf10" gradientUnits="userSpaceOnUse" x1="143.0" y1="559.6" x2="165.0" y2="559.6"><stop offset="0" stop-color="#30b1b3" stop-opacity="0"/><stop offset="1" stop-color="#30b1b3" stop-opacity="1.0"/></linearGradient>
<line x1="143.0" y1="559.6" x2="165.0" y2="559.6" stroke="url(#tf10)" stroke-width="3.0"/>
<polyline points="165.0,559.6 241.0,559.6" fill="none" stroke="#30b1b3" stroke-width="3.0" stroke-opacity="1.0" stroke-linejoin="round" stroke-linecap="butt"/>
<linearGradient id="tf11" gradientUnits="userSpaceOnUse" x1="132.0" y1="765.0" x2="147.6" y2="780.6"><stop offset="0" stop-color="#30b1b3" stop-opacity="0"/><stop offset="1" stop-color="#30b1b3" stop-opacity="1.0"/></linearGradient>
<line x1="132.0" y1="765.0" x2="147.6" y2="780.6" stroke="url(#tf11)" stroke-width="3.0"/>
<polyline points="147.6,780.6 152.0,785.0" fill="none" stroke="#30b1b3" stroke-width="3.0" stroke-opacity="1.0" stroke-linejoin="round" stroke-linecap="butt"/>
<linearGradient id="tf12" gradientUnits="userSpaceOnUse" x1="143.0" y1="582.7" x2="165.0" y2="582.7"><stop offset="0" stop-color="#30b1b3" stop-opacity="0"/><stop offset="1" stop-color="#30b1b3" stop-opacity="1.0"/></linearGradient>
<line x1="143.0" y1="582.7" x2="165.0" y2="582.7" stroke="url(#tf12)" stroke-width="3.0"/>
<polyline points="165.0,582.7 224.4,582.7 253.0,611.0 253.0,678.0" fill="none" stroke="#30b1b3" stroke-width="3.0" stroke-opacity="1.0" stroke-linejoin="round" stroke-linecap="butt"/>
<linearGradient id="tf13" gradientUnits="userSpaceOnUse" x1="138.6" y1="652.0" x2="149.9" y2="670.9"><stop offset="0" stop-color="#30b1b3" stop-opacity="0"/><stop offset="1" stop-color="#30b1b3" stop-opacity="1.0"/></linearGradient>
<line x1="138.6" y1="652.0" x2="149.9" y2="670.9" stroke="url(#tf13)" stroke-width="3.0"/>
<polyline points="149.9,670.9 182.6,725.7 220.0,725.7 243.0,702.0" fill="none" stroke="#30b1b3" stroke-width="3.0" stroke-opacity="1.0" stroke-linejoin="round" stroke-linecap="butt"/>
<polyline points="347.6,524.4 327.8,546.0 327.8,583.8" fill="none" stroke="#30b1b3" stroke-width="3.0" stroke-opacity="1.0" stroke-linejoin="round" stroke-linecap="butt"/>
<polyline points="323.0,616.8 344.0,616.8" fill="none" stroke="#30b1b3" stroke-width="3.0" stroke-opacity="1.0" stroke-linejoin="round" stroke-linecap="butt"/>
<polyline points="289.0,692.0 247.0,736.0 247.0,791.4 241.7,797.4" fill="none" stroke="#30b1b3" stroke-width="3.0" stroke-opacity="1.0" stroke-linejoin="round" stroke-linecap="butt"/>
<polyline points="356.4,698.0 371.8,712.5 390.0,712.5" fill="none" stroke="#30b1b3" stroke-width="3.0" stroke-opacity="1.0" stroke-linejoin="round" stroke-linecap="butt"/>
<polyline points="378.9,764.0 399.4,742.6 523.0,742.6 538.4,742.6 590.0,796.8 724.0,796.8" fill="none" stroke="#30b1b3" stroke-width="3.0" stroke-opacity="1.0" stroke-linejoin="round" stroke-linecap="butt"/>
<polyline points="337.7,794.9 471.0,794.9" fill="none" stroke="#30b1b3" stroke-width="3.0" stroke-opacity="1.0" stroke-linejoin="round" stroke-linecap="butt"/>
<polyline points="440.0,794.6 510.7,794.6 514.0,797.4" fill="none" stroke="#30b1b3" stroke-width="3.0" stroke-opacity="1.0" stroke-linejoin="round" stroke-linecap="butt"/>
<polyline points="476.8,621.6 518.6,620.5 573.6,565.5" fill="none" stroke="#30b1b3" stroke-width="3.0" stroke-opacity="1.0" stroke-linejoin="round" stroke-linecap="butt"/>
<polyline points="393.2,628.2 458.0,695.3 573.6,695.3" fill="none" stroke="#30b1b3" stroke-width="3.0" stroke-opacity="1.0" stroke-linejoin="round" stroke-linecap="butt"/>
<polyline points="380.0,711.8 579.1,711.8 635.2,654.6 635.2,612.8 658.3,588.6" fill="none" stroke="#30b1b3" stroke-width="3.0" stroke-opacity="1.0" stroke-linejoin="round" stroke-linecap="butt"/>
<polyline points="591.0,755.8 630.8,718.4 660.0,718.4" fill="none" stroke="#30b1b3" stroke-width="3.0" stroke-opacity="1.0" stroke-linejoin="round" stroke-linecap="butt"/>
<polyline points="750.0,546.0 868.0,546.0 891.0,524.0 1001.0,524.0 1026.6,549.7 1048.0,549.7" fill="none" stroke="#30b1b3" stroke-width="3.0" stroke-opacity="1.0" stroke-linejoin="round" stroke-linecap="butt"/>
<polyline points="756.6,621.4 796.2,579.6 960.0,579.6" fill="none" stroke="#30b1b3" stroke-width="3.0" stroke-opacity="1.0" stroke-linejoin="round" stroke-linecap="butt"/>
<polyline points="873.5,601.6 974.3,601.6 974.3,653.8 947.3,653.8 947.3,682.6 990.5,682.6 1083.0,775.7 1102.0,775.7" fill="none" stroke="#30b1b3" stroke-width="3.0" stroke-opacity="1.0" stroke-linejoin="round" stroke-linecap="butt"/>
<polyline points="698.3,610.4 698.3,643.4 662.0,681.0 640.0,704.0" fill="none" stroke="#30b1b3" stroke-width="3.0" stroke-opacity="1.0" stroke-linejoin="round" stroke-linecap="butt"/>
<polyline points="658.7,564.0 658.7,584.0 640.0,606.0" fill="none" stroke="#30b1b3" stroke-width="3.0" stroke-opacity="1.0" stroke-linejoin="round" stroke-linecap="butt"/>
<polyline points="745.6,684.0 816.0,684.0" fill="none" stroke="#30b1b3" stroke-width="3.0" stroke-opacity="1.0" stroke-linejoin="round" stroke-linecap="butt"/>
<polyline points="855.6,643.4 863.3,650.0 863.3,690.0 861.4,692.0 861.4,771.4 871.0,781.4" fill="none" stroke="#30b1b3" stroke-width="3.0" stroke-opacity="1.0" stroke-linejoin="round" stroke-linecap="butt"/>
<polyline points="822.9,771.4 861.4,771.4" fill="none" stroke="#30b1b3" stroke-width="3.0" stroke-opacity="1.0" stroke-linejoin="round" stroke-linecap="butt"/>
<polyline points="900.7,709.4 900.7,749.0" fill="none" stroke="#30b1b3" stroke-width="3.0" stroke-opacity="1.0" stroke-linejoin="round" stroke-linecap="butt"/>
<polyline points="640.0,722.6 711.5,722.6" fill="none" stroke="#30b1b3" stroke-width="3.0" stroke-opacity="1.0" stroke-linejoin="round" stroke-linecap="butt"/>
<polyline points="700.0,798.0 724.0,798.0" fill="none" stroke="#30b1b3" stroke-width="3.0" stroke-opacity="1.0" stroke-linejoin="round" stroke-linecap="butt"/>
<polyline points="930.0,755.7 958.6,755.7 975.7,772.9" fill="none" stroke="#30b1b3" stroke-width="3.0" stroke-opacity="1.0" stroke-linejoin="round" stroke-linecap="butt"/>
<polyline points="930.0,792.9 965.7,792.9 975.7,802.9" fill="none" stroke="#30b1b3" stroke-width="3.0" stroke-opacity="1.0" stroke-linejoin="round" stroke-linecap="butt"/>
<polyline points="1079.0,549.7 1172.4,549.7 1200.8,580.0" fill="none" stroke="#30b1b3" stroke-width="3.0" stroke-opacity="1.0" stroke-linejoin="round" stroke-linecap="butt"/>
<polyline points="960.0,579.4 1048.0,579.4" fill="none" stroke="#30b1b3" stroke-width="3.0" stroke-opacity="1.0" stroke-linejoin="round" stroke-linecap="butt"/>
<polyline points="1079.0,578.5 1147.2,578.5 1196.0,626.8 1205.6,626.8" fill="none" stroke="#30b1b3" stroke-width="3.0" stroke-opacity="1.0" stroke-linejoin="round" stroke-linecap="butt"/>
<polyline points="1122.0,646.0 1205.6,646.0" fill="none" stroke="#30b1b3" stroke-width="3.0" stroke-opacity="1.0" stroke-linejoin="round" stroke-linecap="butt"/>
<polyline points="1224.8,606.4 1268.0,608.8" fill="none" stroke="#30b1b3" stroke-width="3.0" stroke-opacity="1.0" stroke-linejoin="round" stroke-linecap="butt"/>
<polyline points="1251.0,626.8 1268.0,626.8" fill="none" stroke="#30b1b3" stroke-width="3.0" stroke-opacity="1.0" stroke-linejoin="round" stroke-linecap="butt"/>
<polyline points="1251.0,664.0 1268.0,683.0" fill="none" stroke="#30b1b3" stroke-width="3.0" stroke-opacity="1.0" stroke-linejoin="round" stroke-linecap="butt"/>
<polyline points="1114.4,702.5 1124.0,709.7 1224.8,709.7 1239.0,729.0" fill="none" stroke="#30b1b3" stroke-width="3.0" stroke-opacity="1.0" stroke-linejoin="round" stroke-linecap="butt"/>
<polyline points="1143.2,721.7 1196.0,721.7 1210.4,736.0" fill="none" stroke="#30b1b3" stroke-width="3.0" stroke-opacity="1.0" stroke-linejoin="round" stroke-linecap="butt"/>
<polyline points="1095.4,710.7 1129.3,746.4 1200.7,746.4 1206.0,751.0" fill="none" stroke="#30b1b3" stroke-width="3.0" stroke-opacity="1.0" stroke-linejoin="round" stroke-linecap="butt"/>
<polyline points="1089.6,638.8 1089.6,650.0" fill="none" stroke="#30b1b3" stroke-width="3.0" stroke-opacity="1.0" stroke-linejoin="round" stroke-linecap="butt"/>
</g>
<g clip-path="url(#bclip)"><rect x="112" y="150" width="900" height="85" fill="url(#bandV)" mask="url(#bandmask)"/></g>
<g mask="url(#trmask)">
<circle cx="312.0" cy="308.0" r="10.5" fill="#3a8fd6" opacity="0.55" filter="url(#glow)"/>
<circle cx="312.0" cy="308.0" r="5" fill="#30bcb6" filter="url(#soft)"/>
<circle cx="344.0" cy="314.0" r="10.5" fill="#3a8fd6" opacity="0.55" filter="url(#glow)"/>
<circle cx="344.0" cy="314.0" r="5" fill="#30bcb6" filter="url(#soft)"/>
<circle cx="367.0" cy="300.0" r="10.5" fill="#3a8fd6" opacity="0.55" filter="url(#glow)"/>
<circle cx="367.0" cy="300.0" r="5" fill="#30bcb6" filter="url(#soft)"/>
<circle cx="410.0" cy="173.0" r="10.5" fill="#3a8fd6" opacity="0.55" filter="url(#glow)"/>
<circle cx="410.0" cy="173.0" r="5" fill="#30bcb6" filter="url(#soft)"/>
<circle cx="534.0" cy="245.0" r="10.5" fill="#3a8fd6" opacity="0.55" filter="url(#glow)"/>
<circle cx="534.0" cy="245.0" r="5" fill="#30bcb6" filter="url(#soft)"/>
<circle cx="845.0" cy="196.0" r="10.5" fill="#3a8fd6" opacity="0.55" filter="url(#glow)"/>
<circle cx="845.0" cy="196.0" r="5" fill="#30bcb6" filter="url(#soft)"/>
<circle cx="1097.0" cy="161.0" r="10.5" fill="#3a8fd6" opacity="0.55" filter="url(#glow)"/>
<circle cx="1097.0" cy="161.0" r="5" fill="#30bcb6" filter="url(#soft)"/>
<circle cx="1056.0" cy="192.0" r="10.5" fill="#3a8fd6" opacity="0.55" filter="url(#glow)"/>
<circle cx="1056.0" cy="192.0" r="5" fill="#30bcb6" filter="url(#soft)"/>
<circle cx="1144.0" cy="263.0" r="10.5" fill="#3a8fd6" opacity="0.55" filter="url(#glow)"/>
<circle cx="1144.0" cy="263.0" r="5" fill="#30bcb6" filter="url(#soft)"/>
<circle cx="1253.0" cy="258.0" r="10.5" fill="#3a8fd6" opacity="0.55" filter="url(#glow)"/>
<circle cx="1253.0" cy="258.0" r="5" fill="#30bcb6" filter="url(#soft)"/>
<circle cx="1129.0" cy="456.0" r="10.5" fill="#3a8fd6" opacity="0.55" filter="url(#glow)"/>
<circle cx="1129.0" cy="456.0" r="5" fill="#30bcb6" filter="url(#soft)"/>
<circle cx="1192.6" cy="394.7" r="10.5" fill="#3a8fd6" opacity="0.55" filter="url(#glow)"/>
<circle cx="1192.6" cy="394.7" r="5" fill="#30bcb6" filter="url(#soft)"/>
<circle cx="1105.7" cy="371.6" r="10.5" fill="#3a8fd6" opacity="0.55" filter="url(#glow)"/>
<circle cx="1105.7" cy="371.6" r="5" fill="#30bcb6" filter="url(#soft)"/>
<circle cx="1038.6" cy="476.0" r="10.5" fill="#3a8fd6" opacity="0.55" filter="url(#glow)"/>
<circle cx="1038.6" cy="476.0" r="5" fill="#30bcb6" filter="url(#soft)"/>
<circle cx="1162.0" cy="477.0" r="10.5" fill="#3a8fd6" opacity="0.55" filter="url(#glow)"/>
<circle cx="1162.0" cy="477.0" r="5" fill="#30bcb6" filter="url(#soft)"/>
<circle cx="308.0" cy="497.0" r="10.5" fill="#3a8fd6" opacity="0.55" filter="url(#glow)"/>
<circle cx="308.0" cy="497.0" r="5" fill="#30bcb6" filter="url(#soft)"/>
<circle cx="775.0" cy="421.0" r="10.5" fill="#3a8fd6" opacity="0.55" filter="url(#glow)"/>
<circle cx="775.0" cy="421.0" r="5" fill="#30bcb6" filter="url(#soft)"/>
<circle cx="827.0" cy="390.0" r="10.5" fill="#3a8fd6" opacity="0.55" filter="url(#glow)"/>
<circle cx="827.0" cy="390.0" r="5" fill="#30bcb6" filter="url(#soft)"/>
<circle cx="958.0" cy="334.0" r="10.5" fill="#3a8fd6" opacity="0.55" filter="url(#glow)"/>
<circle cx="958.0" cy="334.0" r="5" fill="#30bcb6" filter="url(#soft)"/>
<circle cx="329.5" cy="584.0" r="10.5" fill="#3a8fd6" opacity="0.55" filter="url(#glow)"/>
<circle cx="329.5" cy="584.0" r="5" fill="#30bcb6" filter="url(#soft)"/>
<circle cx="348.0" cy="690.0" r="10.5" fill="#3a8fd6" opacity="0.55" filter="url(#glow)"/>
<circle cx="348.0" cy="690.0" r="5" fill="#30bcb6" filter="url(#soft)"/>
<circle cx="606.0" cy="338.5" r="10.5" fill="#3a8fd6" opacity="0.55" filter="url(#glow)"/>
<circle cx="606.0" cy="338.5" r="5" fill="#30bcb6" filter="url(#soft)"/>
<circle cx="679.0" cy="333.0" r="10.5" fill="#3a8fd6" opacity="0.55" filter="url(#glow)"/>
<circle cx="679.0" cy="333.0" r="5" fill="#30bcb6" filter="url(#soft)"/>
<circle cx="241.0" cy="559.6" r="10.5" fill="#3a8fd6" opacity="0.55" filter="url(#glow)"/>
<circle cx="241.0" cy="559.6" r="5" fill="#30bcb6" filter="url(#soft)"/>
<circle cx="289.0" cy="692.0" r="10.5" fill="#3a8fd6" opacity="0.55" filter="url(#glow)"/>
<circle cx="289.0" cy="692.0" r="5" fill="#30bcb6" filter="url(#soft)"/>
<circle cx="378.9" cy="764.0" r="10.5" fill="#3a8fd6" opacity="0.55" filter="url(#glow)"/>
<circle cx="378.9" cy="764.0" r="5" fill="#30bcb6" filter="url(#soft)"/>
<circle cx="337.7" cy="794.9" r="10.5" fill="#3a8fd6" opacity="0.55" filter="url(#glow)"/>
<circle cx="337.7" cy="794.9" r="5" fill="#30bcb6" filter="url(#soft)"/>
<circle cx="476.8" cy="621.6" r="10.5" fill="#3a8fd6" opacity="0.55" filter="url(#glow)"/>
<circle cx="476.8" cy="621.6" r="5" fill="#30bcb6" filter="url(#soft)"/>
<circle cx="573.6" cy="694.0" r="10.5" fill="#3a8fd6" opacity="0.55" filter="url(#glow)"/>
<circle cx="573.6" cy="694.0" r="5" fill="#30bcb6" filter="url(#soft)"/>
<circle cx="607.7" cy="568.8" r="10.5" fill="#3a8fd6" opacity="0.55" filter="url(#glow)"/>
<circle cx="607.7" cy="568.8" r="5" fill="#30bcb6" filter="url(#soft)"/>
<circle cx="698.3" cy="610.4" r="10.5" fill="#3a8fd6" opacity="0.55" filter="url(#glow)"/>
<circle cx="698.3" cy="610.4" r="5" fill="#30bcb6" filter="url(#soft)"/>
<circle cx="756.6" cy="621.4" r="10.5" fill="#3a8fd6" opacity="0.55" filter="url(#glow)"/>
<circle cx="756.6" cy="621.4" r="5" fill="#30bcb6" filter="url(#soft)"/>
<circle cx="823.7" cy="613.7" r="10.5" fill="#3a8fd6" opacity="0.55" filter="url(#glow)"/>
<circle cx="823.7" cy="613.7" r="5" fill="#30bcb6" filter="url(#soft)"/>
<circle cx="873.5" cy="601.6" r="10.5" fill="#3a8fd6" opacity="0.55" filter="url(#glow)"/>
<circle cx="873.5" cy="601.6" r="5" fill="#30bcb6" filter="url(#soft)"/>
<circle cx="824.8" cy="730.3" r="10.5" fill="#3a8fd6" opacity="0.55" filter="url(#glow)"/>
<circle cx="824.8" cy="730.3" r="5" fill="#30bcb6" filter="url(#soft)"/>
<circle cx="900.7" cy="709.4" r="10.5" fill="#3a8fd6" opacity="0.55" filter="url(#glow)"/>
<circle cx="900.7" cy="709.4" r="5" fill="#30bcb6" filter="url(#soft)"/>
<circle cx="1089.6" cy="638.8" r="10.5" fill="#3a8fd6" opacity="0.55" filter="url(#glow)"/>
<circle cx="1089.6" cy="638.8" r="5" fill="#30bcb6" filter="url(#soft)"/>
<circle cx="1122.0" cy="646.0" r="10.5" fill="#3a8fd6" opacity="0.55" filter="url(#glow)"/>
<circle cx="1122.0" cy="646.0" r="5" fill="#30bcb6" filter="url(#soft)"/>
<circle cx="1122.8" cy="646.0" r="10.5" fill="#3a8fd6" opacity="0.55" filter="url(#glow)"/>
<circle cx="1122.8" cy="646.0" r="5" fill="#30bcb6" filter="url(#soft)"/>
</g>
<g clip-path="url(#bclip)"><rect x="1228" y="129" width="61" height="713" fill="url(#fadeR)"/><rect x="112" y="129" width="55" height="713" fill="url(#fadeL)"/></g>
<ellipse cx="142" cy="163" rx="21.3" ry="24" fill="#a6a05a"/>
<ellipse cx="142" cy="163" rx="10.2" ry="11.6" fill="url(#hole)"/>
<ellipse cx="142" cy="808" rx="21.3" ry="24" fill="#a6a05a"/>
<ellipse cx="142" cy="808" rx="10.2" ry="11.6" fill="url(#hole)"/>
<ellipse cx="1162" cy="225" rx="21.3" ry="23.4" fill="#a6a05a"/>
<ellipse cx="1162" cy="225" rx="10.2" ry="11.6" fill="url(#hole)"/>
<ellipse cx="963.4" cy="724.3" rx="21" ry="23.9" fill="#a6a05a"/>
<ellipse cx="963.4" cy="724.3" rx="10.2" ry="11.6" fill="url(#hole)"/>
<ellipse cx="1258.5" cy="163" rx="10.2" ry="11.6" fill="url(#hole)"/>
<ellipse cx="1262" cy="808" rx="10.2" ry="11.6" fill="url(#hole)"/>
<rect x="200.0" y="234.0" width="19.0" height="27.0" fill="#0a2440" opacity="0.3" filter="url(#sh)"/>
<rect x="199.0" y="231.0" width="19.0" height="27.0" rx="1" fill="#3c3b39"/>
<rect x="190.5" y="233.0" width="7.5" height="4.5" fill="#fbfbf8"/>
<rect x="193.0" y="233.0" width="2.5" height="4.5" fill="#3c3b39"/>
<rect x="219.0" y="233.0" width="7.5" height="4.5" fill="#fbfbf8"/>
<rect x="221.5" y="233.0" width="2.5" height="4.5" fill="#3c3b39"/>
<rect x="190.5" y="242.5" width="7.5" height="4.5" fill="#fbfbf8"/>
<rect x="193.0" y="242.5" width="2.5" height="4.5" fill="#3c3b39"/>
<rect x="219.0" y="242.5" width="7.5" height="4.5" fill="#fbfbf8"/>
<rect x="221.5" y="242.5" width="2.5" height="4.5" fill="#3c3b39"/>
<rect x="190.5" y="251.0" width="7.5" height="4.5" fill="#fbfbf8"/>
<rect x="193.0" y="251.0" width="2.5" height="4.5" fill="#3c3b39"/>
<rect x="219.0" y="251.0" width="7.5" height="4.5" fill="#fbfbf8"/>
<rect x="221.5" y="251.0" width="2.5" height="4.5" fill="#3c3b39"/>
<rect x="203.0" y="222.0" width="13.0" height="6.0" fill="#fbfbf8"/>
<rect x="207.3" y="222.0" width="4.3" height="6.0" fill="#3c3b39"/>
<rect x="163.0" y="239.0" width="6.0" height="14.0" fill="#fbfbf8"/>
<rect x="163.0" y="243.7" width="6.0" height="4.7" fill="#3c3b39"/>
<rect x="172.0" y="239.0" width="6.0" height="14.0" fill="#fbfbf8"/>
<rect x="172.0" y="243.7" width="6.0" height="4.7" fill="#3c3b39"/>
<rect x="181.0" y="239.0" width="6.0" height="14.0" fill="#fbfbf8"/>
<rect x="181.0" y="243.7" width="6.0" height="4.7" fill="#3c3b39"/>
<rect x="180.0" y="258.0" width="6.0" height="14.0" fill="#fbfbf8"/>
<rect x="180.0" y="262.7" width="6.0" height="4.7" fill="#3c3b39"/>
<rect x="188.0" y="262.0" width="14.0" height="6.0" fill="#fbfbf8"/>
<rect x="192.7" y="262.0" width="4.7" height="6.0" fill="#3c3b39"/>
<rect x="231.0" y="264.0" width="13.0" height="6.0" fill="#fbfbf8"/>
<rect x="235.3" y="264.0" width="4.3" height="6.0" fill="#3c3b39"/>
<rect x="231.0" y="274.0" width="13.0" height="6.0" fill="#fbfbf8"/>
<rect x="235.3" y="274.0" width="4.3" height="6.0" fill="#3c3b39"/>
<rect x="231.0" y="284.0" width="13.0" height="6.0" fill="#fbfbf8"/>
<rect x="235.3" y="284.0" width="4.3" height="6.0" fill="#3c3b39"/>
<rect x="231.0" y="293.0" width="13.0" height="6.0" fill="#fbfbf8"/>
<rect x="235.3" y="293.0" width="4.3" height="6.0" fill="#3c3b39"/>
<rect x="247.0" y="265.0" width="6.0" height="14.0" fill="#fbfbf8"/>
<rect x="247.0" y="269.7" width="6.0" height="4.7" fill="#3c3b39"/>
<rect x="246.0" y="235.0" width="10.0" height="17.0" rx="1" fill="#3c3b39"/>
<path d="M272,222 L300,222 L308,230 L308,264 L300,272 L265,272 L264,271 L264,230 Z" fill="#3a3a3a" stroke="#1e1e1e" stroke-width="1.2"/>
<circle cx="286" cy="247" r="17.5" fill="#3d3d3d" stroke="#111" stroke-width="2"/>
<rect x="315.0" y="243.0" width="12.0" height="26.0" fill="#fbfbf8"/>
<rect x="315.0" y="251.7" width="12.0" height="8.7" fill="#3c3b39"/>
<rect x="330.0" y="243.0" width="12.0" height="26.0" fill="#fbfbf8"/>
<rect x="330.0" y="251.7" width="12.0" height="8.7" fill="#3c3b39"/>
<rect x="345.0" y="217.0" width="5.5" height="16.0" fill="#fbfbf8"/>
<rect x="345.0" y="222.3" width="5.5" height="5.3" fill="#3c3b39"/>
<rect x="345.0" y="233.0" width="5.5" height="16.0" fill="#fbfbf8"/>
<rect x="345.0" y="238.3" width="5.5" height="5.3" fill="#3c3b39"/>
<rect x="550.0" y="173.0" width="128.0" height="143.0" fill="#0a2440" opacity="0.45" filter="url(#shb)"/>
<rect x="549.0" y="167.0" width="128.0" height="143.0" rx="3" fill="#3c3c3c" stroke="#1a1a1a" stroke-width="1.5"/>
<ellipse cx="730" cy="243" rx="28" ry="31.5" fill="#0a2440" opacity="0.4" filter="url(#sh)"/>
<ellipse cx="729" cy="239" rx="28" ry="31.5" fill="#10161c"/>
<ellipse cx="729" cy="239" rx="26.2" ry="29.6" fill="#1e4a68"/>
<ellipse cx="729" cy="239" rx="24.3" ry="27.2" fill="#111"/>
<ellipse cx="729" cy="239" rx="23.2" ry="26" fill="#fbf5ea"/>
<clipPath id="capc"><rect x="700" y="200" width="60" height="28"/></clipPath>
<ellipse cx="729" cy="239" rx="23.2" ry="26" fill="#222" clip-path="url(#capc)"/>
<rect x="844" y="253" width="26" height="66" fill="#0a2440" opacity="0.35" filter="url(#sh)"/>
<rect x="842.0" y="250.0" width="26.0" height="66.0" fill="#fcf6ea" />
<rect x="844.5" y="266" width="21" height="33" rx="1.5" fill="url(#knob)" stroke="#111" stroke-width="1.3"/>
<rect x="848.3" y="280.9" width="13.4" height="15.5" fill="#3f3e3c"/>
<rect x="883" y="253" width="25.5" height="66" fill="#0a2440" opacity="0.35" filter="url(#sh)"/>
<rect x="881.0" y="250.0" width="25.5" height="66.0" fill="#fcf6ea" />
<rect x="883.5" y="266" width="21" height="33" rx="1.5" fill="url(#knob)" stroke="#111" stroke-width="1.3"/>
<rect x="887.3" y="280.9" width="13.4" height="15.5" fill="#3f3e3c"/>
<rect x="1207.6" y="623.8" width="45.2" height="66.1" fill="#0a2440" opacity="0.35" filter="url(#sh)"/>
<rect x="1205.6" y="620.8" width="45.2" height="66.1" fill="#fcf6ea" />
<rect x="1209" y="636.4" width="38" height="33.6" rx="1.5" fill="url(#knob)" stroke="#111" stroke-width="1.3"/>
<rect x="1215.8" y="651.5" width="24.3" height="15.8" fill="#3f3e3c"/>
<g opacity="0.9">
<line x1="920" y1="209" x2="991" y2="172" stroke="#0a2440" stroke-width="13" stroke-linecap="round" opacity="0.35" filter="url(#sh)"/>
<line x1="937.0" y1="196.1" x2="966.9" y2="180.6" stroke="#3b9cc8" stroke-width="18" stroke-linecap="round" opacity="0.75"/>
<line x1="920" y1="205" x2="991" y2="168" stroke="#3f9fc9" stroke-width="12" stroke-linecap="round"/>
<line x1="920" y1="205" x2="991" y2="168" stroke="#56b6da" stroke-width="8.5" stroke-linecap="round"/>
<line x1="939.9" y1="194.6" x2="969.7" y2="179.1" stroke="#86d6f0" stroke-width="3" stroke-linecap="round" opacity="0.8" filter="url(#soft)"/>
</g>
<g opacity="0.9">
<line x1="1003" y1="209" x2="1074" y2="172" stroke="#0a2440" stroke-width="13" stroke-linecap="round" opacity="0.35" filter="url(#sh)"/>
<line x1="1020.0" y1="196.1" x2="1049.9" y2="180.6" stroke="#3b9cc8" stroke-width="18" stroke-linecap="round" opacity="0.75"/>
<line x1="1003" y1="205" x2="1074" y2="168" stroke="#3f9fc9" stroke-width="12" stroke-linecap="round"/>
<line x1="1003" y1="205" x2="1074" y2="168" stroke="#56b6da" stroke-width="8.5" stroke-linecap="round"/>
<line x1="1022.9" y1="194.6" x2="1052.7" y2="179.1" stroke="#86d6f0" stroke-width="3" stroke-linecap="round" opacity="0.8" filter="url(#soft)"/>
</g>
<g opacity="0.9">
<line x1="1086" y1="209" x2="1157" y2="172" stroke="#0a2440" stroke-width="13" stroke-linecap="round" opacity="0.35" filter="url(#sh)"/>
<line x1="1103.0" y1="196.1" x2="1132.9" y2="180.6" stroke="#3b9cc8" stroke-width="18" stroke-linecap="round" opacity="0.75"/>
<line x1="1086" y1="205" x2="1157" y2="168" stroke="#3f9fc9" stroke-width="12" stroke-linecap="round"/>
<line x1="1086" y1="205" x2="1157" y2="168" stroke="#56b6da" stroke-width="8.5" stroke-linecap="round"/>
<line x1="1105.9" y1="194.6" x2="1135.7" y2="179.1" stroke="#86d6f0" stroke-width="3" stroke-linecap="round" opacity="0.8" filter="url(#soft)"/>
</g>
<g opacity="0.9">
<line x1="265.7" y1="435" x2="265.7" y2="522" stroke="#0a2440" stroke-width="14" stroke-linecap="round" opacity="0.35" filter="url(#sh)"/>
<line x1="265.7" y1="457.1" x2="265.7" y2="511.0" stroke="#3b9cc8" stroke-width="19" stroke-linecap="round" opacity="0.75"/>
<line x1="265.7" y1="431" x2="265.7" y2="518" stroke="#3f9fc9" stroke-width="13" stroke-linecap="round"/>
<line x1="265.7" y1="431" x2="265.7" y2="518" stroke="#56b6da" stroke-width="9.5" stroke-linecap="round"/>
<line x1="265.7" y1="460.6" x2="265.7" y2="514.5" stroke="#86d6f0" stroke-width="3" stroke-linecap="round" opacity="0.8" filter="url(#soft)"/>
</g>
<rect x="943" y="255.4" width="180.7" height="76" fill="#0a2440" opacity="0.4" filter="url(#sh)"/>
<rect x="940.0" y="251.4" width="180.7" height="76.0" fill="#a3e5a0" />
<rect x="940.0" y="273.4" width="180.7" height="23.0" fill="url(#tbmid)" />
<rect x="940.0" y="296.4" width="180.7" height="5.0" fill="#a2f0a0" />
<rect x="940.0" y="301.4" width="180.7" height="26.0" fill="#91d18e" />
<circle cx="952.5" cy="262.9" r="7" fill="#e6f25a" stroke="#c9d84c" stroke-width="0.8"/>
<path d="M945.5,306.4 L959.5,306.4 L958.5,322.4 L946.5,322.4 Z" fill="url(#recV)"/>
<circle cx="975.1" cy="262.9" r="7" fill="#e6f25a" stroke="#c9d84c" stroke-width="0.8"/>
<path d="M968.1,306.4 L982.1,306.4 L981.1,322.4 L969.1,322.4 Z" fill="url(#recV)"/>
<circle cx="997.7" cy="262.9" r="7" fill="#e6f25a" stroke="#c9d84c" stroke-width="0.8"/>
<path d="M990.7,306.4 L1004.7,306.4 L1003.7,322.4 L991.7,322.4 Z" fill="url(#recV)"/>
<circle cx="1020.3" cy="262.9" r="7" fill="#e6f25a" stroke="#c9d84c" stroke-width="0.8"/>
<path d="M1013.3,306.4 L1027.3,306.4 L1026.3,322.4 L1014.3,322.4 Z" fill="url(#recV)"/>
<circle cx="1042.9" cy="262.9" r="7" fill="#e6f25a" stroke="#c9d84c" stroke-width="0.8"/>
<path d="M1035.9,306.4 L1049.9,306.4 L1048.9,322.4 L1036.9,322.4 Z" fill="url(#recV)"/>
<circle cx="1065.5" cy="262.9" r="7" fill="#e6f25a" stroke="#c9d84c" stroke-width="0.8"/>
<path d="M1058.5,306.4 L1072.5,306.4 L1071.5,322.4 L1059.5,322.4 Z" fill="url(#recV)"/>
<circle cx="1088.1" cy="262.9" r="7" fill="#e6f25a" stroke="#c9d84c" stroke-width="0.8"/>
<path d="M1081.1,306.4 L1095.1,306.4 L1094.1,322.4 L1082.1,322.4 Z" fill="url(#recV)"/>
<circle cx="1110.7" cy="262.9" r="7" fill="#e6f25a" stroke="#c9d84c" stroke-width="0.8"/>
<path d="M1103.7,306.4 L1117.7,306.4 L1116.7,322.4 L1104.7,322.4 Z" fill="url(#recV)"/>
<rect x="727.3" y="761" width="98.6" height="84.4" fill="#0a2440" opacity="0.4" filter="url(#sh)"/>
<rect x="724.3" y="757.0" width="98.6" height="84.4" fill="#a3e5a0" />
<rect x="724.3" y="779.0" width="98.6" height="23.0" fill="url(#tbmid)" />
<rect x="724.3" y="802.0" width="98.6" height="5.0" fill="#a2f0a0" />
<rect x="724.3" y="807.0" width="98.6" height="34.4" fill="#91d18e" />
<circle cx="737.0" cy="770" r="7.5" fill="#e6f25a" stroke="#c9d84c" stroke-width="0.8"/>
<path d="M730.0,812 L744.0,812 L743.0,836.4 L731.0,836.4 Z" fill="url(#recV)"/>
<circle cx="761.6" cy="770" r="7.5" fill="#e6f25a" stroke="#c9d84c" stroke-width="0.8"/>
<path d="M754.6,812 L768.6,812 L767.6,836.4 L755.6,836.4 Z" fill="url(#recV)"/>
<circle cx="786.2" cy="770" r="7.5" fill="#e6f25a" stroke="#c9d84c" stroke-width="0.8"/>
<path d="M779.2,812 L793.2,812 L792.2,836.4 L780.2,836.4 Z" fill="url(#recV)"/>
<circle cx="810.8" cy="770" r="7.5" fill="#e6f25a" stroke="#c9d84c" stroke-width="0.8"/>
<path d="M803.8,812 L817.8,812 L816.8,836.4 L804.8,836.4 Z" fill="url(#recV)"/>
<rect x="138.3" y="449.3" width="68.2" height="75.9" fill="#0a2440" opacity="0.4" filter="url(#sh)"/>
<rect x="135.3" y="445.3" width="68.2" height="75.9" fill="#9ad898" />
<rect x="158.3" y="445.3" width="6.0" height="75.9" fill="#a6f2a4" />
<rect x="164.3" y="445.3" width="20.0" height="75.9" fill="#92d08e" />
<rect x="184.3" y="445.3" width="19.2" height="75.9" fill="#a5e6a2" />
<ellipse cx="193.6" cy="459.6" rx="6.6" ry="8.2" fill="#e6f25a"/>
<rect x="138.3" y="451.6" width="16" height="16" fill="url(#recH)"/>
<ellipse cx="193.6" cy="483.8" rx="6.6" ry="8.2" fill="#e6f25a"/>
<rect x="138.3" y="475.8" width="16" height="16" fill="url(#recH)"/>
<ellipse cx="193.6" cy="508" rx="6.6" ry="8.2" fill="#e6f25a"/>
<rect x="138.3" y="500" width="16" height="16" fill="url(#recH)"/>
<rect x="1171" y="452.6" width="68" height="50.2" fill="#0a2440" opacity="0.4" filter="url(#sh)"/>
<rect x="1168.0" y="448.6" width="68.0" height="50.2" fill="#a5e6a2" />
<rect x="1187.0" y="448.6" width="21.0" height="50.2" fill="#92d08e" />
<rect x="1208.0" y="448.6" width="4.0" height="50.2" fill="#a6f2a4" />
<rect x="1212.0" y="448.6" width="24.0" height="50.2" fill="#9ad898" />
<ellipse cx="1178" cy="460.7" rx="5.5" ry="7.6" fill="#e6f25a"/>
<rect x="1216" y="453.7" width="16" height="14" fill="url(#recH2)"/>
<ellipse cx="1178" cy="485" rx="5.5" ry="7.6" fill="#e6f25a"/>
<rect x="1216" y="478" width="16" height="14" fill="url(#recH2)"/>
<rect x="1158.0" y="264.0" width="88.0" height="72.0" fill="#0a2440" opacity="0.45" filter="url(#shb)"/>
<rect x="1157.0" y="258.0" width="88.0" height="72.0" rx="2" fill="#3c3c3c" stroke="#1a1a1a" stroke-width="1.5"/>
<rect x="205.0" y="339.0" width="54.0" height="58.4" fill="#0a2440" opacity="0.45" filter="url(#shb)"/>
<rect x="204.0" y="333.0" width="54.0" height="58.4" rx="1" fill="#3c3b39"/>
<rect x="186.0" y="341.0" width="18.0" height="7.5" fill="#fbfbf8"/>
<rect x="192.0" y="341.0" width="6.0" height="7.5" fill="#3c3b39"/>
<rect x="186.0" y="358.4" width="18.0" height="7.5" fill="#fbfbf8"/>
<rect x="192.0" y="358.4" width="6.0" height="7.5" fill="#3c3b39"/>
<rect x="186.0" y="375.6" width="18.0" height="7.5" fill="#fbfbf8"/>
<rect x="192.0" y="375.6" width="6.0" height="7.5" fill="#3c3b39"/>
<rect x="155.0" y="343.0" width="13.0" height="6.0" fill="#fbfbf8"/>
<rect x="159.3" y="343.0" width="4.3" height="6.0" fill="#3c3b39"/>
<rect x="155.0" y="352.0" width="13.0" height="6.0" fill="#fbfbf8"/>
<rect x="159.3" y="352.0" width="4.3" height="6.0" fill="#3c3b39"/>
<rect x="169.4" y="344.0" width="12.0" height="25.0" fill="#fbfbf8"/>
<rect x="169.4" y="352.3" width="12.0" height="8.3" fill="#3c3b39"/>
<rect x="294.7" y="350.4" width="33.0" height="37.4" fill="#0a2440" opacity="0.3" filter="url(#sh)"/>
<rect x="293.7" y="347.4" width="33.0" height="37.4" rx="1" fill="#3c3b39"/>
<rect x="326.7" y="352.0" width="13.3" height="5.5" fill="#fbfbf8"/>
<rect x="331.1" y="352.0" width="4.4" height="5.5" fill="#3c3b39"/>
<rect x="326.7" y="375.5" width="13.3" height="5.5" fill="#fbfbf8"/>
<rect x="331.1" y="375.5" width="4.4" height="5.5" fill="#3c3b39"/>
<rect x="315.7" y="321.0" width="22.0" height="12.8" fill="#fbfbf8"/>
<rect x="323.0" y="321.0" width="7.3" height="12.8" fill="#3c3b39"/>
<rect x="320.0" y="336.4" width="14.4" height="6.6" fill="#fbfbf8"/>
<rect x="324.8" y="336.4" width="4.8" height="6.6" fill="#3c3b39"/>
<rect x="297.0" y="391.0" width="13.0" height="6.0" fill="#fbfbf8"/>
<rect x="301.3" y="391.0" width="4.3" height="6.0" fill="#3c3b39"/>
<rect x="292.0" y="399.0" width="23.0" height="14.0" fill="#fbfbf8"/>
<rect x="299.7" y="399.0" width="7.7" height="14.0" fill="#3c3b39"/>
<rect x="217.7" y="434.3" width="26.7" height="37.0" fill="#0a2440" opacity="0.35" filter="url(#sh)"/>
<rect x="221.0" y="430.3" width="19.0" height="6.0" fill="#2b2b2b" rx="1"/>
<rect x="221.0" y="461.5" width="19.0" height="6.0" fill="#2b2b2b" rx="1"/>
<rect x="222.0" y="433.6" width="17.0" height="1.3" fill="#a8a8a0" />
<rect x="222.0" y="463.2" width="17.0" height="1.3" fill="#a8a8a0" />
<rect x="216.7" y="435.8" width="26.7" height="26.2" fill="#3c3b39" />
<rect x="221.0" y="494.5" width="20.0" height="17.5" fill="#0a2440" opacity="0.3" filter="url(#sh)"/>
<rect x="220.0" y="491.5" width="20.0" height="17.5" rx="1.5" fill="#3c3b39"/>
<rect x="219.5" y="493.0" width="2.0" height="14.0" fill="#2d6b3c" />
<rect x="350" y="344" width="402" height="224" fill="#0a2440" opacity="0.45" filter="url(#sh)"/>
<rect x="347.9" y="340.3" width="401.4" height="223.7" fill="url(#lcdg)" />
<rect x="347.9" y="340.3" width="401.4" height="223.7" fill="url(#lcdv)" />
<g stroke="#0d5a27" stroke-width="1.1" fill="none" opacity="0.55">
<polyline points="382.0,340 392.0,348 396.0,352 396.0,373"/>
<polyline points="389.5,340 399.5,348 403.5,352 403.5,373"/>
<polyline points="397.0,340 407.0,348 411.0,352 411.0,373"/>
<polyline points="404.5,340 414.5,348 418.5,352 418.5,373"/>
<polyline points="412.0,340 422.0,348 426.0,352 426.0,373"/>
<polyline points="419.5,340 429.5,348 433.5,352 433.5,373"/>
<polyline points="427.0,340 437.0,348 441.0,352 441.0,373"/>
<polyline points="434.5,340 444.5,348 448.5,352 448.5,373"/>
<polyline points="442.0,340 452.0,348 456.0,352 456.0,373"/>
<polyline points="460.0,341 476.0,352 482.0,362 482.0,373"/>
<polyline points="466.0,341 482.0,352 488.0,362 488.0,373"/>
<polyline points="472.0,341 488.0,352 494.0,362 494.0,373"/>
<polyline points="478.0,341 494.0,352 500.0,362 500.0,373"/>
<polyline points="484.0,341 500.0,352 506.0,362 506.0,373"/>
<polyline points="490.0,341 506.0,352 512.0,362 512.0,373"/>
<polyline points="496.0,341 512.0,352 518.0,362 518.0,373"/>
<polyline points="540.0,359 554.0,373"/>
<polyline points="545.0,359 559.0,373"/>
<polyline points="550.0,359 564.0,373"/>
<polyline points="555.0,359 569.0,373"/>
<polyline points="560.0,359 574.0,373"/>
<polyline points="348,411 356,411 375,430"/>
<polyline points="348,414 356,414 375,433"/>
<polyline points="348,417 356,417 375,436"/>
<polyline points="722,468 749,495"/>
<polyline points="700,526 726,550 740,562"/>
<polyline points="722,472 749,499"/>
<polyline points="704,526 730,550 744,562"/>
<polyline points="722,476 749,503"/>
<polyline points="708,526 734,550 748,562"/>
<polyline points="722,480 749,507"/>
<polyline points="712,526 738,550 752,562"/>
<polyline points="470.0,527 470.0,533 478.0,541"/>
<polyline points="560.0,527 560.0,533 568.0,541"/>
<polyline points="474.5,527 474.5,533 482.5,541"/>
<polyline points="564.5,527 564.5,533 572.5,541"/>
<polyline points="479.0,527 479.0,533 487.0,541"/>
<polyline points="569.0,527 569.0,533 577.0,541"/>
<polyline points="483.5,527 483.5,533 491.5,541"/>
<polyline points="573.5,527 573.5,533 581.5,541"/>
<polyline points="488.0,527 488.0,533 496.0,541"/>
<polyline points="578.0,527 578.0,533 586.0,541"/>
<polyline points="492.5,527 492.5,533 500.5,541"/>
<polyline points="582.5,527 582.5,533 590.5,541"/>
<polyline points="348,557 600,557"/><polyline points="348,532 375,532"/>
</g>
<circle cx="352" cy="342" r="2.1" fill="#3d2818" stroke="#a08060" stroke-width="1.0"/>
<circle cx="385" cy="343.5" r="2.1" fill="#3d2818" stroke="#a08060" stroke-width="1.0"/>
<circle cx="386.5" cy="352.5" r="2.1" fill="#3d2818" stroke="#a08060" stroke-width="1.0"/>
<circle cx="481" cy="342" r="2.1" fill="#3d2818" stroke="#a08060" stroke-width="1.0"/>
<circle cx="443.5" cy="361.5" r="2.1" fill="#3d2818" stroke="#a08060" stroke-width="1.0"/>
<circle cx="462.4" cy="367.5" r="2.1" fill="#3d2818" stroke="#a08060" stroke-width="1.0"/>
<circle cx="469" cy="363" r="2.1" fill="#3d2818" stroke="#a08060" stroke-width="1.0"/>
<circle cx="545" cy="349.5" r="2.1" fill="#3d2818" stroke="#a08060" stroke-width="1.0"/>
<circle cx="570" cy="363" r="2.1" fill="#3d2818" stroke="#a08060" stroke-width="1.0"/>
<circle cx="620.5" cy="342" r="2.1" fill="#3d2818" stroke="#a08060" stroke-width="1.0"/>
<circle cx="646" cy="354" r="2.1" fill="#3d2818" stroke="#a08060" stroke-width="1.0"/>
<circle cx="657.4" cy="356.4" r="2.1" fill="#3d2818" stroke="#a08060" stroke-width="1.0"/>
<circle cx="680.5" cy="358.5" r="2.1" fill="#3d2818" stroke="#a08060" stroke-width="1.0"/>
<circle cx="692.5" cy="370.5" r="2.1" fill="#3d2818" stroke="#a08060" stroke-width="1.0"/>
<circle cx="694" cy="354.6" r="2.1" fill="#3d2818" stroke="#a08060" stroke-width="1.0"/>
<circle cx="727" cy="388.5" r="2.1" fill="#3d2818" stroke="#a08060" stroke-width="1.0"/>
<circle cx="746.5" cy="378" r="2.1" fill="#3d2818" stroke="#a08060" stroke-width="1.0"/>
<circle cx="728.5" cy="435" r="2.1" fill="#3d2818" stroke="#a08060" stroke-width="1.0"/>
<circle cx="740.5" cy="442.5" r="2.1" fill="#3d2818" stroke="#a08060" stroke-width="1.0"/>
<circle cx="745" cy="466.5" r="2.1" fill="#3d2818" stroke="#a08060" stroke-width="1.0"/>
<circle cx="353.5" cy="397.5" r="2.1" fill="#3d2818" stroke="#a08060" stroke-width="1.0"/>
<circle cx="353.5" cy="450" r="2.1" fill="#3d2818" stroke="#a08060" stroke-width="1.0"/>
<circle cx="364" cy="478.5" r="2.1" fill="#3d2818" stroke="#a08060" stroke-width="1.0"/>
<circle cx="353.5" cy="484.5" r="2.1" fill="#3d2818" stroke="#a08060" stroke-width="1.0"/>
<circle cx="362.5" cy="550.5" r="2.1" fill="#3d2818" stroke="#a08060" stroke-width="1.0"/>
<circle cx="530.5" cy="528" r="2.1" fill="#3d2818" stroke="#a08060" stroke-width="1.0"/>
<circle cx="544" cy="561" r="2.1" fill="#3d2818" stroke="#a08060" stroke-width="1.0"/>
<circle cx="593.5" cy="534" r="2.1" fill="#3d2818" stroke="#a08060" stroke-width="1.0"/>
<circle cx="646" cy="555" r="2.1" fill="#3d2818" stroke="#a08060" stroke-width="1.0"/>
<circle cx="695" cy="558" r="2.1" fill="#3d2818" stroke="#a08060" stroke-width="1.0"/>
<circle cx="743.5" cy="529.5" r="2.1" fill="#3d2818" stroke="#a08060" stroke-width="1.0"/>
<circle cx="501" cy="366" r="2.1" fill="#3d2818" stroke="#a08060" stroke-width="1.0"/>
<circle cx="482" cy="371" r="2.1" fill="#3d2818" stroke="#a08060" stroke-width="1.0"/>
<rect x="375.4" y="373.1" width="346.4" height="153.4" fill="#3e3e3e" />
<rect x="383.7" y="393.7" width="330.2" height="112" fill="#84ad62"/>
<rect x="387.5" y="353.2" width="9" height="6.6" rx="1.5" fill="#0b4a20" opacity="0.6"/>
<path d="M388.2,353.8 L391.2,356.5 L388.2,359.2 Z M395.8,353.8 L392.8,356.5 L395.8,359.2 Z" fill="#e9a52c" stroke="#e9a52c" stroke-width="0.8" stroke-linejoin="round"/>
<circle cx="392.0" cy="356.5" r="1.3" fill="#fff8d8"/>
<rect x="400.2" y="353.2" width="9" height="6.6" rx="1.5" fill="#0b4a20" opacity="0.6"/>
<path d="M400.9,353.8 L403.9,356.5 L400.9,359.2 Z M408.5,353.8 L405.5,356.5 L408.5,359.2 Z" fill="#e9a52c" stroke="#e9a52c" stroke-width="0.8" stroke-linejoin="round"/>
<circle cx="404.7" cy="356.5" r="1.3" fill="#fff8d8"/>
<rect x="413.0" y="353.2" width="9" height="6.6" rx="1.5" fill="#0b4a20" opacity="0.6"/>
<path d="M413.7,353.8 L416.7,356.5 L413.7,359.2 Z M421.3,353.8 L418.3,356.5 L421.3,359.2 Z" fill="#e9a52c" stroke="#e9a52c" stroke-width="0.8" stroke-linejoin="round"/>
<circle cx="417.5" cy="356.5" r="1.3" fill="#fff8d8"/>
<rect x="425.7" y="353.2" width="9" height="6.6" rx="1.5" fill="#0b4a20" opacity="0.6"/>
<path d="M426.4,353.8 L429.4,356.5 L426.4,359.2 Z M434.0,353.8 L431.0,356.5 L434.0,359.2 Z" fill="#e9a52c" stroke="#e9a52c" stroke-width="0.8" stroke-linejoin="round"/>
<circle cx="430.2" cy="356.5" r="1.3" fill="#fff8d8"/>
<rect x="438.4" y="353.2" width="9" height="6.6" rx="1.5" fill="#0b4a20" opacity="0.6"/>
<path d="M439.1,353.8 L442.1,356.5 L439.1,359.2 Z M446.7,353.8 L443.7,356.5 L446.7,359.2 Z" fill="#e9a52c" stroke="#e9a52c" stroke-width="0.8" stroke-linejoin="round"/>
<circle cx="442.9" cy="356.5" r="1.3" fill="#fff8d8"/>
<rect x="451.1" y="353.2" width="9" height="6.6" rx="1.5" fill="#0b4a20" opacity="0.6"/>
<path d="M451.8,353.8 L454.8,356.5 L451.8,359.2 Z M459.4,353.8 L456.4,356.5 L459.4,359.2 Z" fill="#e9a52c" stroke="#e9a52c" stroke-width="0.8" stroke-linejoin="round"/>
<circle cx="455.6" cy="356.5" r="1.3" fill="#fff8d8"/>
<rect x="463.9" y="353.2" width="9" height="6.6" rx="1.5" fill="#0b4a20" opacity="0.6"/>
<path d="M464.6,353.8 L467.6,356.5 L464.6,359.2 Z M472.2,353.8 L469.2,356.5 L472.2,359.2 Z" fill="#e9a52c" stroke="#e9a52c" stroke-width="0.8" stroke-linejoin="round"/>
<circle cx="468.4" cy="356.5" r="1.3" fill="#fff8d8"/>
<rect x="476.6" y="353.2" width="9" height="6.6" rx="1.5" fill="#0b4a20" opacity="0.6"/>
<path d="M477.3,353.8 L480.3,356.5 L477.3,359.2 Z M484.9,353.8 L481.9,356.5 L484.9,359.2 Z" fill="#e9a52c" stroke="#e9a52c" stroke-width="0.8" stroke-linejoin="round"/>
<circle cx="481.1" cy="356.5" r="1.3" fill="#fff8d8"/>
<rect x="489.3" y="353.2" width="9" height="6.6" rx="1.5" fill="#0b4a20" opacity="0.6"/>
<path d="M490.0,353.8 L493.0,356.5 L490.0,359.2 Z M497.6,353.8 L494.6,356.5 L497.6,359.2 Z" fill="#e9a52c" stroke="#e9a52c" stroke-width="0.8" stroke-linejoin="round"/>
<circle cx="493.8" cy="356.5" r="1.3" fill="#fff8d8"/>
<rect x="502.1" y="353.2" width="9" height="6.6" rx="1.5" fill="#0b4a20" opacity="0.6"/>
<path d="M502.8,353.8 L505.8,356.5 L502.8,359.2 Z M510.4,353.8 L507.4,356.5 L510.4,359.2 Z" fill="#e9a52c" stroke="#e9a52c" stroke-width="0.8" stroke-linejoin="round"/>
<circle cx="506.6" cy="356.5" r="1.3" fill="#fff8d8"/>
<rect x="514.8" y="353.2" width="9" height="6.6" rx="1.5" fill="#0b4a20" opacity="0.6"/>
<path d="M515.5,353.8 L518.5,356.5 L515.5,359.2 Z M523.1,353.8 L520.1,356.5 L523.1,359.2 Z" fill="#e9a52c" stroke="#e9a52c" stroke-width="0.8" stroke-linejoin="round"/>
<circle cx="519.3" cy="356.5" r="1.3" fill="#fff8d8"/>
<rect x="527.5" y="353.2" width="9" height="6.6" rx="1.5" fill="#0b4a20" opacity="0.6"/>
<path d="M528.2,353.8 L531.2,356.5 L528.2,359.2 Z M535.8,353.8 L532.8,356.5 L535.8,359.2 Z" fill="#e9a52c" stroke="#e9a52c" stroke-width="0.8" stroke-linejoin="round"/>
<circle cx="532.0" cy="356.5" r="1.3" fill="#fff8d8"/>
<rect x="540.3" y="353.2" width="9" height="6.6" rx="1.5" fill="#0b4a20" opacity="0.6"/>
<path d="M541.0,353.8 L544.0,356.5 L541.0,359.2 Z M548.6,353.8 L545.6,356.5 L548.6,359.2 Z" fill="#e9a52c" stroke="#e9a52c" stroke-width="0.8" stroke-linejoin="round"/>
<circle cx="544.8" cy="356.5" r="1.3" fill="#fff8d8"/>
<rect x="553.0" y="353.2" width="9" height="6.6" rx="1.5" fill="#0b4a20" opacity="0.6"/>
<path d="M553.7,353.8 L556.7,356.5 L553.7,359.2 Z M561.3,353.8 L558.3,356.5 L561.3,359.2 Z" fill="#e9a52c" stroke="#e9a52c" stroke-width="0.8" stroke-linejoin="round"/>
<circle cx="557.5" cy="356.5" r="1.3" fill="#fff8d8"/>
<rect x="565.7" y="353.2" width="9" height="6.6" rx="1.5" fill="#0b4a20" opacity="0.6"/>
<path d="M566.4,353.8 L569.4,356.5 L566.4,359.2 Z M574.0,353.8 L571.0,356.5 L574.0,359.2 Z" fill="#e9a52c" stroke="#e9a52c" stroke-width="0.8" stroke-linejoin="round"/>
<circle cx="570.2" cy="356.5" r="1.3" fill="#fff8d8"/>
<rect x="578.5" y="353.2" width="9" height="6.6" rx="1.5" fill="#0b4a20" opacity="0.6"/>
<path d="M579.2,353.8 L582.2,356.5 L579.2,359.2 Z M586.8,353.8 L583.8,356.5 L586.8,359.2 Z" fill="#e9a52c" stroke="#e9a52c" stroke-width="0.8" stroke-linejoin="round"/>
<circle cx="583.0" cy="356.5" r="1.3" fill="#fff8d8"/>
<path d="M379.0,554.4 L379.0,541.5 A5.3,5.3 0 0 1 389.6,541.5 L389.6,554.4 Z" fill="#c9c06c"/>
<circle cx="384.3" cy="542.3" r="2.6" fill="#176a32"/>
<path d="M392.3,554.4 L392.3,541.5 A5.3,5.3 0 0 1 402.9,541.5 L402.9,554.4 Z" fill="#c9c06c"/>
<circle cx="397.6" cy="542.3" r="2.6" fill="#176a32"/>
<path d="M405.6,554.4 L405.6,541.5 A5.3,5.3 0 0 1 416.2,541.5 L416.2,554.4 Z" fill="#c9c06c"/>
<circle cx="410.9" cy="542.3" r="2.6" fill="#176a32"/>
<path d="M418.9,554.4 L418.9,541.5 A5.3,5.3 0 0 1 429.5,541.5 L429.5,554.4 Z" fill="#c9c06c"/>
<circle cx="424.2" cy="542.3" r="2.6" fill="#176a32"/>
<path d="M432.2,554.4 L432.2,541.5 A5.3,5.3 0 0 1 442.8,541.5 L442.8,554.4 Z" fill="#c9c06c"/>
<circle cx="437.5" cy="542.3" r="2.6" fill="#176a32"/>
<path d="M445.5,554.4 L445.5,541.5 A5.3,5.3 0 0 1 456.1,541.5 L456.1,554.4 Z" fill="#c9c06c"/>
<circle cx="450.8" cy="542.3" r="2.6" fill="#176a32"/>
<path d="M458.8,554.4 L458.8,541.5 A5.3,5.3 0 0 1 469.4,541.5 L469.4,554.4 Z" fill="#c9c06c"/>
<circle cx="464.1" cy="542.3" r="2.6" fill="#176a32"/>
<path d="M472.1,554.4 L472.1,541.5 A5.3,5.3 0 0 1 482.7,541.5 L482.7,554.4 Z" fill="#c9c06c"/>
<circle cx="477.4" cy="542.3" r="2.6" fill="#176a32"/>
<path d="M485.4,554.4 L485.4,541.5 A5.3,5.3 0 0 1 496.0,541.5 L496.0,554.4 Z" fill="#c9c06c"/>
<circle cx="490.7" cy="542.3" r="2.6" fill="#176a32"/>
<path d="M498.7,554.4 L498.7,541.5 A5.3,5.3 0 0 1 509.3,541.5 L509.3,554.4 Z" fill="#c9c06c"/>
<circle cx="504.0" cy="542.3" r="2.6" fill="#176a32"/>
<path d="M512.0,554.4 L512.0,541.5 A5.3,5.3 0 0 1 522.6,541.5 L522.6,554.4 Z" fill="#c9c06c"/>
<circle cx="517.3" cy="542.3" r="2.6" fill="#176a32"/>
<path d="M525.3,554.4 L525.3,541.5 A5.3,5.3 0 0 1 535.9,541.5 L535.9,554.4 Z" fill="#c9c06c"/>
<circle cx="530.6" cy="542.3" r="2.6" fill="#176a32"/>
<path d="M538.6,554.4 L538.6,541.5 A5.3,5.3 0 0 1 549.2,541.5 L549.2,554.4 Z" fill="#c9c06c"/>
<circle cx="543.9" cy="542.3" r="2.6" fill="#176a32"/>
<path d="M551.9,554.4 L551.9,541.5 A5.3,5.3 0 0 1 562.5,541.5 L562.5,554.4 Z" fill="#c9c06c"/>
<circle cx="557.2" cy="542.3" r="2.6" fill="#176a32"/>
<path d="M565.2,554.4 L565.2,541.5 A5.3,5.3 0 0 1 575.8,541.5 L575.8,554.4 Z" fill="#c9c06c"/>
<circle cx="570.5" cy="542.3" r="2.6" fill="#176a32"/>
<path d="M578.5,554.4 L578.5,541.5 A5.3,5.3 0 0 1 589.1,541.5 L589.1,554.4 Z" fill="#c9c06c"/>
<circle cx="583.8" cy="542.3" r="2.6" fill="#176a32"/>
<ellipse cx="362" cy="355.4" rx="12" ry="12.8" fill="#fdfdfd"/>
<circle cx="362" cy="355.4" r="8.5" fill="#e9e9e9" stroke="#1e1e1e" stroke-width="1.4"/>
<path d="M362,349.4 Q363.2,354.2 368,355.4 Q363.2,356.59999999999997 362,361.4 Q360.8,356.59999999999997 356,355.4 Q360.8,354.2 362,349.4 Z" fill="#f6f6f6" stroke="#555" stroke-width="0.9"/>
<ellipse cx="734.6" cy="355.4" rx="12" ry="12.8" fill="#fdfdfd"/>
<circle cx="734.6" cy="355.4" r="8.5" fill="#e9e9e9" stroke="#1e1e1e" stroke-width="1.4"/>
<path d="M734.6,349.4 Q735.8000000000001,354.2 740.6,355.4 Q735.8000000000001,356.59999999999997 734.6,361.4 Q733.4,356.59999999999997 728.6,355.4 Q733.4,354.2 734.6,349.4 Z" fill="#f6f6f6" stroke="#555" stroke-width="0.9"/>
<ellipse cx="362.3" cy="548.3" rx="12" ry="12.8" fill="#fdfdfd"/>
<circle cx="362.3" cy="548.3" r="8.5" fill="#e9e9e9" stroke="#1e1e1e" stroke-width="1.4"/>
<path d="M362.3,542.3 Q363.5,547.0999999999999 368.3,548.3 Q363.5,549.5 362.3,554.3 Q361.1,549.5 356.3,548.3 Q361.1,547.0999999999999 362.3,542.3 Z" fill="#f6f6f6" stroke="#555" stroke-width="0.9"/>
<ellipse cx="734.6" cy="548.3" rx="12" ry="12.8" fill="#fdfdfd"/>
<circle cx="734.6" cy="548.3" r="8.5" fill="#e9e9e9" stroke="#1e1e1e" stroke-width="1.4"/>
<path d="M734.6,542.3 Q735.8000000000001,547.0999999999999 740.6,548.3 Q735.8000000000001,549.5 734.6,554.3 Q733.4,549.5 728.6,548.3 Q733.4,547.0999999999999 734.6,542.3 Z" fill="#f6f6f6" stroke="#555" stroke-width="0.9"/>
<rect x="911.0" y="403.6" width="64.8" height="51.0" fill="#0a2440" opacity="0.45" filter="url(#shb)"/>
<rect x="910.0" y="397.6" width="64.8" height="51.0" rx="1" fill="#3c3b39"/>
<rect x="914.0" y="388.0" width="3.6" height="9.5" fill="#fbfbf8"/>
<rect x="914.0" y="391.2" width="3.6" height="3.2" fill="#3c3b39"/>
<rect x="921.6" y="388.0" width="3.6" height="9.5" fill="#fbfbf8"/>
<rect x="921.6" y="391.2" width="3.6" height="3.2" fill="#3c3b39"/>
<rect x="929.3" y="388.0" width="3.6" height="9.5" fill="#fbfbf8"/>
<rect x="929.3" y="391.2" width="3.6" height="3.2" fill="#3c3b39"/>
<rect x="936.9" y="388.0" width="3.6" height="9.5" fill="#fbfbf8"/>
<rect x="936.9" y="391.2" width="3.6" height="3.2" fill="#3c3b39"/>
<rect x="944.5" y="388.0" width="3.6" height="9.5" fill="#fbfbf8"/>
<rect x="944.5" y="391.2" width="3.6" height="3.2" fill="#3c3b39"/>
<rect x="952.1" y="388.0" width="3.6" height="9.5" fill="#fbfbf8"/>
<rect x="952.1" y="391.2" width="3.6" height="3.2" fill="#3c3b39"/>
<rect x="959.8" y="388.0" width="3.6" height="9.5" fill="#fbfbf8"/>
<rect x="959.8" y="391.2" width="3.6" height="3.2" fill="#3c3b39"/>
<rect x="967.4" y="388.0" width="3.6" height="9.5" fill="#fbfbf8"/>
<rect x="967.4" y="391.2" width="3.6" height="3.2" fill="#3c3b39"/>
<rect x="914.0" y="448.8" width="3.6" height="9.5" fill="#fbfbf8"/>
<rect x="914.0" y="452.0" width="3.6" height="3.2" fill="#3c3b39"/>
<rect x="921.6" y="448.8" width="3.6" height="9.5" fill="#fbfbf8"/>
<rect x="921.6" y="452.0" width="3.6" height="3.2" fill="#3c3b39"/>
<rect x="929.3" y="448.8" width="3.6" height="9.5" fill="#fbfbf8"/>
<rect x="929.3" y="452.0" width="3.6" height="3.2" fill="#3c3b39"/>
<rect x="936.9" y="448.8" width="3.6" height="9.5" fill="#fbfbf8"/>
<rect x="936.9" y="452.0" width="3.6" height="3.2" fill="#3c3b39"/>
<rect x="944.5" y="448.8" width="3.6" height="9.5" fill="#fbfbf8"/>
<rect x="944.5" y="452.0" width="3.6" height="3.2" fill="#3c3b39"/>
<rect x="952.1" y="448.8" width="3.6" height="9.5" fill="#fbfbf8"/>
<rect x="952.1" y="452.0" width="3.6" height="3.2" fill="#3c3b39"/>
<rect x="959.8" y="448.8" width="3.6" height="9.5" fill="#fbfbf8"/>
<rect x="959.8" y="452.0" width="3.6" height="3.2" fill="#3c3b39"/>
<rect x="967.4" y="448.8" width="3.6" height="9.5" fill="#fbfbf8"/>
<rect x="967.4" y="452.0" width="3.6" height="3.2" fill="#3c3b39"/>
<rect x="1044.0" y="404.0" width="64.5" height="50.6" fill="#0a2440" opacity="0.45" filter="url(#shb)"/>
<rect x="1043.0" y="398.0" width="64.5" height="50.6" rx="1" fill="#3c3b39"/>
<rect x="1047.0" y="388.0" width="3.6" height="9.5" fill="#fbfbf8"/>
<rect x="1047.0" y="391.2" width="3.6" height="3.2" fill="#3c3b39"/>
<rect x="1054.6" y="388.0" width="3.6" height="9.5" fill="#fbfbf8"/>
<rect x="1054.6" y="391.2" width="3.6" height="3.2" fill="#3c3b39"/>
<rect x="1062.3" y="388.0" width="3.6" height="9.5" fill="#fbfbf8"/>
<rect x="1062.3" y="391.2" width="3.6" height="3.2" fill="#3c3b39"/>
<rect x="1069.9" y="388.0" width="3.6" height="9.5" fill="#fbfbf8"/>
<rect x="1069.9" y="391.2" width="3.6" height="3.2" fill="#3c3b39"/>
<rect x="1077.5" y="388.0" width="3.6" height="9.5" fill="#fbfbf8"/>
<rect x="1077.5" y="391.2" width="3.6" height="3.2" fill="#3c3b39"/>
<rect x="1085.1" y="388.0" width="3.6" height="9.5" fill="#fbfbf8"/>
<rect x="1085.1" y="391.2" width="3.6" height="3.2" fill="#3c3b39"/>
<rect x="1092.8" y="388.0" width="3.6" height="9.5" fill="#fbfbf8"/>
<rect x="1092.8" y="391.2" width="3.6" height="3.2" fill="#3c3b39"/>
<rect x="1100.4" y="388.0" width="3.6" height="9.5" fill="#fbfbf8"/>
<rect x="1100.4" y="391.2" width="3.6" height="3.2" fill="#3c3b39"/>
<rect x="1047.0" y="448.8" width="3.6" height="9.5" fill="#fbfbf8"/>
<rect x="1047.0" y="452.0" width="3.6" height="3.2" fill="#3c3b39"/>
<rect x="1054.6" y="448.8" width="3.6" height="9.5" fill="#fbfbf8"/>
<rect x="1054.6" y="452.0" width="3.6" height="3.2" fill="#3c3b39"/>
<rect x="1062.3" y="448.8" width="3.6" height="9.5" fill="#fbfbf8"/>
<rect x="1062.3" y="452.0" width="3.6" height="3.2" fill="#3c3b39"/>
<rect x="1069.9" y="448.8" width="3.6" height="9.5" fill="#fbfbf8"/>
<rect x="1069.9" y="452.0" width="3.6" height="3.2" fill="#3c3b39"/>
<rect x="1077.5" y="448.8" width="3.6" height="9.5" fill="#fbfbf8"/>
<rect x="1077.5" y="452.0" width="3.6" height="3.2" fill="#3c3b39"/>
<rect x="1085.1" y="448.8" width="3.6" height="9.5" fill="#fbfbf8"/>
<rect x="1085.1" y="452.0" width="3.6" height="3.2" fill="#3c3b39"/>
<rect x="1092.8" y="448.8" width="3.6" height="9.5" fill="#fbfbf8"/>
<rect x="1092.8" y="452.0" width="3.6" height="3.2" fill="#3c3b39"/>
<rect x="1100.4" y="448.8" width="3.6" height="9.5" fill="#fbfbf8"/>
<rect x="1100.4" y="452.0" width="3.6" height="3.2" fill="#3c3b39"/>
<rect x="845.8" y="325.0" width="5.6" height="14.7" fill="#fbfbf8"/>
<rect x="845.8" y="329.9" width="5.6" height="4.9" fill="#3c3b39"/>
<rect x="845.8" y="343.2" width="5.6" height="14.5" fill="#fbfbf8"/>
<rect x="845.8" y="348.0" width="5.6" height="4.8" fill="#3c3b39"/>
<rect x="854.6" y="325.0" width="5.6" height="14.7" fill="#fbfbf8"/>
<rect x="854.6" y="329.9" width="5.6" height="4.9" fill="#3c3b39"/>
<rect x="854.6" y="343.2" width="5.6" height="14.5" fill="#fbfbf8"/>
<rect x="854.6" y="348.0" width="5.6" height="4.8" fill="#3c3b39"/>
<rect x="867.3" y="325.0" width="5.6" height="14.7" fill="#fbfbf8"/>
<rect x="867.3" y="329.9" width="5.6" height="4.9" fill="#3c3b39"/>
<rect x="867.3" y="343.2" width="5.6" height="14.5" fill="#fbfbf8"/>
<rect x="867.3" y="348.0" width="5.6" height="4.8" fill="#3c3b39"/>
<rect x="876.0" y="325.0" width="5.6" height="14.7" fill="#fbfbf8"/>
<rect x="876.0" y="329.9" width="5.6" height="4.9" fill="#3c3b39"/>
<rect x="876.0" y="343.2" width="5.6" height="14.5" fill="#fbfbf8"/>
<rect x="876.0" y="348.0" width="5.6" height="4.8" fill="#3c3b39"/>
<rect x="886.5" y="343.2" width="5.6" height="14.5" fill="#fbfbf8"/>
<rect x="886.5" y="348.0" width="5.6" height="4.8" fill="#3c3b39"/>
<rect x="895.0" y="343.2" width="5.6" height="14.5" fill="#fbfbf8"/>
<rect x="895.0" y="348.0" width="5.6" height="4.8" fill="#3c3b39"/>
<rect x="886.5" y="361.3" width="5.6" height="14.5" fill="#fbfbf8"/>
<rect x="886.5" y="366.1" width="5.6" height="4.8" fill="#3c3b39"/>
<rect x="895.0" y="361.3" width="5.6" height="14.5" fill="#fbfbf8"/>
<rect x="895.0" y="366.1" width="5.6" height="4.8" fill="#3c3b39"/>
<rect x="901.4" y="372.0" width="5.6" height="14.2" fill="#fbfbf8"/>
<rect x="901.4" y="376.7" width="5.6" height="4.7" fill="#3c3b39"/>
<rect x="910.0" y="372.0" width="5.6" height="14.2" fill="#fbfbf8"/>
<rect x="910.0" y="376.7" width="5.6" height="4.7" fill="#3c3b39"/>
<rect x="777.0" y="462.0" width="13.0" height="6.0" fill="#fbfbf8"/>
<rect x="781.3" y="462.0" width="4.3" height="6.0" fill="#3c3b39"/>
<rect x="777.0" y="472.0" width="13.0" height="6.0" fill="#fbfbf8"/>
<rect x="781.3" y="472.0" width="4.3" height="6.0" fill="#3c3b39"/>
<rect x="777.0" y="481.5" width="13.0" height="6.0" fill="#fbfbf8"/>
<rect x="781.3" y="481.5" width="4.3" height="6.0" fill="#3c3b39"/>
<rect x="875.2" y="502.0" width="5.7" height="15.0" fill="#fbfbf8"/>
<rect x="875.2" y="507.0" width="5.7" height="5.0" fill="#3c3b39"/>
<rect x="883.6" y="502.0" width="5.7" height="15.0" fill="#fbfbf8"/>
<rect x="883.6" y="507.0" width="5.7" height="5.0" fill="#3c3b39"/>
<rect x="891.9" y="502.0" width="5.7" height="15.0" fill="#fbfbf8"/>
<rect x="891.9" y="507.0" width="5.7" height="5.0" fill="#3c3b39"/>
<rect x="900.3" y="502.0" width="5.7" height="15.0" fill="#fbfbf8"/>
<rect x="900.3" y="507.0" width="5.7" height="5.0" fill="#3c3b39"/>
<rect x="908.6" y="502.0" width="5.7" height="15.0" fill="#fbfbf8"/>
<rect x="908.6" y="507.0" width="5.7" height="5.0" fill="#3c3b39"/>
<rect x="917.0" y="502.0" width="5.7" height="15.0" fill="#fbfbf8"/>
<rect x="917.0" y="507.0" width="5.7" height="5.0" fill="#3c3b39"/>
<rect x="925.4" y="502.0" width="5.7" height="15.0" fill="#fbfbf8"/>
<rect x="925.4" y="507.0" width="5.7" height="5.0" fill="#3c3b39"/>
<rect x="933.7" y="502.0" width="5.7" height="15.0" fill="#fbfbf8"/>
<rect x="933.7" y="507.0" width="5.7" height="5.0" fill="#3c3b39"/>
<rect x="942.1" y="502.0" width="5.7" height="15.0" fill="#fbfbf8"/>
<rect x="942.1" y="507.0" width="5.7" height="5.0" fill="#3c3b39"/>
<rect x="950.4" y="502.0" width="5.7" height="15.0" fill="#fbfbf8"/>
<rect x="950.4" y="507.0" width="5.7" height="5.0" fill="#3c3b39"/>
<rect x="958.8" y="502.0" width="5.7" height="15.0" fill="#fbfbf8"/>
<rect x="958.8" y="507.0" width="5.7" height="5.0" fill="#3c3b39"/>
<rect x="967.2" y="502.0" width="5.7" height="15.0" fill="#fbfbf8"/>
<rect x="967.2" y="507.0" width="5.7" height="5.0" fill="#3c3b39"/>
<rect x="1030.0" y="377.0" width="13.0" height="6.0" fill="#fbfbf8"/>
<rect x="1034.3" y="377.0" width="4.3" height="6.0" fill="#3c3b39"/>
<rect x="1030.0" y="386.0" width="13.0" height="6.0" fill="#fbfbf8"/>
<rect x="1034.3" y="386.0" width="4.3" height="6.0" fill="#3c3b39"/>
<rect x="1114.5" y="404.0" width="14.5" height="7.0" fill="#fbfbf8"/>
<rect x="1119.3" y="404.0" width="4.8" height="7.0" fill="#3c3b39"/>
<rect x="1130.5" y="404.0" width="14.5" height="7.0" fill="#fbfbf8"/>
<rect x="1135.3" y="404.0" width="4.8" height="7.0" fill="#3c3b39"/>
<rect x="1146.0" y="404.0" width="14.5" height="7.0" fill="#fbfbf8"/>
<rect x="1150.8" y="404.0" width="4.8" height="7.0" fill="#3c3b39"/>
<rect x="1114.5" y="418.0" width="14.5" height="7.0" fill="#fbfbf8"/>
<rect x="1119.3" y="418.0" width="4.8" height="7.0" fill="#3c3b39"/>
<rect x="1130.5" y="418.0" width="14.5" height="7.0" fill="#fbfbf8"/>
<rect x="1135.3" y="418.0" width="4.8" height="7.0" fill="#3c3b39"/>
<rect x="1146.0" y="418.0" width="14.5" height="7.0" fill="#fbfbf8"/>
<rect x="1150.8" y="418.0" width="4.8" height="7.0" fill="#3c3b39"/>
<rect x="1083.7" y="463.0" width="14.5" height="6.3" fill="#fbfbf8"/>
<rect x="1088.5" y="463.0" width="4.8" height="6.3" fill="#3c3b39"/>
<rect x="1099.0" y="463.0" width="14.5" height="6.3" fill="#fbfbf8"/>
<rect x="1103.8" y="463.0" width="4.8" height="6.3" fill="#3c3b39"/>
<rect x="1114.5" y="463.0" width="14.5" height="6.3" fill="#fbfbf8"/>
<rect x="1119.3" y="463.0" width="4.8" height="6.3" fill="#3c3b39"/>
<rect x="1083.7" y="476.6" width="14.5" height="6.3" fill="#fbfbf8"/>
<rect x="1088.5" y="476.6" width="4.8" height="6.3" fill="#3c3b39"/>
<rect x="1099.0" y="476.6" width="14.5" height="6.3" fill="#fbfbf8"/>
<rect x="1103.8" y="476.6" width="4.8" height="6.3" fill="#3c3b39"/>
<rect x="1114.5" y="476.6" width="14.5" height="6.3" fill="#fbfbf8"/>
<rect x="1119.3" y="476.6" width="4.8" height="6.3" fill="#3c3b39"/>
<rect x="1037.8" y="504.0" width="5.8" height="14.6" fill="#fbfbf8"/>
<rect x="1037.8" y="508.9" width="5.8" height="4.9" fill="#3c3b39"/>
<rect x="1048.6" y="504.0" width="5.8" height="14.6" fill="#fbfbf8"/>
<rect x="1048.6" y="508.9" width="5.8" height="4.9" fill="#3c3b39"/>
<rect x="1059.4" y="504.0" width="5.8" height="14.6" fill="#fbfbf8"/>
<rect x="1059.4" y="508.9" width="5.8" height="4.9" fill="#3c3b39"/>
<rect x="1070.2" y="504.0" width="5.8" height="14.6" fill="#fbfbf8"/>
<rect x="1070.2" y="508.9" width="5.8" height="4.9" fill="#3c3b39"/>
<rect x="1081.0" y="504.0" width="5.8" height="14.6" fill="#fbfbf8"/>
<rect x="1081.0" y="508.9" width="5.8" height="4.9" fill="#3c3b39"/>
<rect x="271.0" y="581.0" width="53.0" height="45.5" fill="#0a2440" opacity="0.3" filter="url(#sh)"/>
<rect x="270.0" y="578.0" width="53.0" height="45.5" rx="1" fill="#3c3b39"/>
<rect x="273.0" y="570.0" width="3.6" height="7.6" fill="#fbfbf8"/>
<rect x="273.0" y="572.5" width="3.6" height="2.5" fill="#3c3b39"/>
<rect x="279.2" y="570.0" width="3.6" height="7.6" fill="#fbfbf8"/>
<rect x="279.2" y="572.5" width="3.6" height="2.5" fill="#3c3b39"/>
<rect x="285.4" y="570.0" width="3.6" height="7.6" fill="#fbfbf8"/>
<rect x="285.4" y="572.5" width="3.6" height="2.5" fill="#3c3b39"/>
<rect x="291.6" y="570.0" width="3.6" height="7.6" fill="#fbfbf8"/>
<rect x="291.6" y="572.5" width="3.6" height="2.5" fill="#3c3b39"/>
<rect x="297.8" y="570.0" width="3.6" height="7.6" fill="#fbfbf8"/>
<rect x="297.8" y="572.5" width="3.6" height="2.5" fill="#3c3b39"/>
<rect x="304.0" y="570.0" width="3.6" height="7.6" fill="#fbfbf8"/>
<rect x="304.0" y="572.5" width="3.6" height="2.5" fill="#3c3b39"/>
<rect x="310.2" y="570.0" width="3.6" height="7.6" fill="#fbfbf8"/>
<rect x="310.2" y="572.5" width="3.6" height="2.5" fill="#3c3b39"/>
<rect x="316.4" y="570.0" width="3.6" height="7.6" fill="#fbfbf8"/>
<rect x="316.4" y="572.5" width="3.6" height="2.5" fill="#3c3b39"/>
<rect x="273.0" y="624.0" width="3.6" height="7.6" fill="#fbfbf8"/>
<rect x="273.0" y="626.5" width="3.6" height="2.5" fill="#3c3b39"/>
<rect x="279.2" y="624.0" width="3.6" height="7.6" fill="#fbfbf8"/>
<rect x="279.2" y="626.5" width="3.6" height="2.5" fill="#3c3b39"/>
<rect x="285.4" y="624.0" width="3.6" height="7.6" fill="#fbfbf8"/>
<rect x="285.4" y="626.5" width="3.6" height="2.5" fill="#3c3b39"/>
<rect x="291.6" y="624.0" width="3.6" height="7.6" fill="#fbfbf8"/>
<rect x="291.6" y="626.5" width="3.6" height="2.5" fill="#3c3b39"/>
<rect x="297.8" y="624.0" width="3.6" height="7.6" fill="#fbfbf8"/>
<rect x="297.8" y="626.5" width="3.6" height="2.5" fill="#3c3b39"/>
<rect x="304.0" y="624.0" width="3.6" height="7.6" fill="#fbfbf8"/>
<rect x="304.0" y="626.5" width="3.6" height="2.5" fill="#3c3b39"/>
<rect x="310.2" y="624.0" width="3.6" height="7.6" fill="#fbfbf8"/>
<rect x="310.2" y="626.5" width="3.6" height="2.5" fill="#3c3b39"/>
<rect x="316.4" y="624.0" width="3.6" height="7.6" fill="#fbfbf8"/>
<rect x="316.4" y="626.5" width="3.6" height="2.5" fill="#3c3b39"/>
<rect x="345.0" y="581.0" width="53.0" height="45.5" fill="#0a2440" opacity="0.3" filter="url(#sh)"/>
<rect x="344.0" y="578.0" width="53.0" height="45.5" rx="1" fill="#3c3b39"/>
<rect x="347.0" y="570.0" width="3.6" height="7.6" fill="#fbfbf8"/>
<rect x="347.0" y="572.5" width="3.6" height="2.5" fill="#3c3b39"/>
<rect x="353.2" y="570.0" width="3.6" height="7.6" fill="#fbfbf8"/>
<rect x="353.2" y="572.5" width="3.6" height="2.5" fill="#3c3b39"/>
<rect x="359.4" y="570.0" width="3.6" height="7.6" fill="#fbfbf8"/>
<rect x="359.4" y="572.5" width="3.6" height="2.5" fill="#3c3b39"/>
<rect x="365.6" y="570.0" width="3.6" height="7.6" fill="#fbfbf8"/>
<rect x="365.6" y="572.5" width="3.6" height="2.5" fill="#3c3b39"/>
<rect x="371.8" y="570.0" width="3.6" height="7.6" fill="#fbfbf8"/>
<rect x="371.8" y="572.5" width="3.6" height="2.5" fill="#3c3b39"/>
<rect x="378.0" y="570.0" width="3.6" height="7.6" fill="#fbfbf8"/>
<rect x="378.0" y="572.5" width="3.6" height="2.5" fill="#3c3b39"/>
<rect x="384.2" y="570.0" width="3.6" height="7.6" fill="#fbfbf8"/>
<rect x="384.2" y="572.5" width="3.6" height="2.5" fill="#3c3b39"/>
<rect x="390.4" y="570.0" width="3.6" height="7.6" fill="#fbfbf8"/>
<rect x="390.4" y="572.5" width="3.6" height="2.5" fill="#3c3b39"/>
<rect x="347.0" y="624.0" width="3.6" height="7.6" fill="#fbfbf8"/>
<rect x="347.0" y="626.5" width="3.6" height="2.5" fill="#3c3b39"/>
<rect x="353.2" y="624.0" width="3.6" height="7.6" fill="#fbfbf8"/>
<rect x="353.2" y="626.5" width="3.6" height="2.5" fill="#3c3b39"/>
<rect x="359.4" y="624.0" width="3.6" height="7.6" fill="#fbfbf8"/>
<rect x="359.4" y="626.5" width="3.6" height="2.5" fill="#3c3b39"/>
<rect x="365.6" y="624.0" width="3.6" height="7.6" fill="#fbfbf8"/>
<rect x="365.6" y="626.5" width="3.6" height="2.5" fill="#3c3b39"/>
<rect x="371.8" y="624.0" width="3.6" height="7.6" fill="#fbfbf8"/>
<rect x="371.8" y="626.5" width="3.6" height="2.5" fill="#3c3b39"/>
<rect x="378.0" y="624.0" width="3.6" height="7.6" fill="#fbfbf8"/>
<rect x="378.0" y="626.5" width="3.6" height="2.5" fill="#3c3b39"/>
<rect x="384.2" y="624.0" width="3.6" height="7.6" fill="#fbfbf8"/>
<rect x="384.2" y="626.5" width="3.6" height="2.5" fill="#3c3b39"/>
<rect x="390.4" y="624.0" width="3.6" height="7.6" fill="#fbfbf8"/>
<rect x="390.4" y="626.5" width="3.6" height="2.5" fill="#3c3b39"/>
<rect x="415.0" y="581.0" width="53.0" height="45.5" fill="#0a2440" opacity="0.3" filter="url(#sh)"/>
<rect x="414.0" y="578.0" width="53.0" height="45.5" rx="1" fill="#3c3b39"/>
<rect x="417.0" y="570.0" width="3.6" height="7.6" fill="#fbfbf8"/>
<rect x="417.0" y="572.5" width="3.6" height="2.5" fill="#3c3b39"/>
<rect x="423.2" y="570.0" width="3.6" height="7.6" fill="#fbfbf8"/>
<rect x="423.2" y="572.5" width="3.6" height="2.5" fill="#3c3b39"/>
<rect x="429.4" y="570.0" width="3.6" height="7.6" fill="#fbfbf8"/>
<rect x="429.4" y="572.5" width="3.6" height="2.5" fill="#3c3b39"/>
<rect x="435.6" y="570.0" width="3.6" height="7.6" fill="#fbfbf8"/>
<rect x="435.6" y="572.5" width="3.6" height="2.5" fill="#3c3b39"/>
<rect x="441.8" y="570.0" width="3.6" height="7.6" fill="#fbfbf8"/>
<rect x="441.8" y="572.5" width="3.6" height="2.5" fill="#3c3b39"/>
<rect x="448.0" y="570.0" width="3.6" height="7.6" fill="#fbfbf8"/>
<rect x="448.0" y="572.5" width="3.6" height="2.5" fill="#3c3b39"/>
<rect x="454.2" y="570.0" width="3.6" height="7.6" fill="#fbfbf8"/>
<rect x="454.2" y="572.5" width="3.6" height="2.5" fill="#3c3b39"/>
<rect x="460.4" y="570.0" width="3.6" height="7.6" fill="#fbfbf8"/>
<rect x="460.4" y="572.5" width="3.6" height="2.5" fill="#3c3b39"/>
<rect x="417.0" y="624.0" width="3.6" height="7.6" fill="#fbfbf8"/>
<rect x="417.0" y="626.5" width="3.6" height="2.5" fill="#3c3b39"/>
<rect x="423.2" y="624.0" width="3.6" height="7.6" fill="#fbfbf8"/>
<rect x="423.2" y="626.5" width="3.6" height="2.5" fill="#3c3b39"/>
<rect x="429.4" y="624.0" width="3.6" height="7.6" fill="#fbfbf8"/>
<rect x="429.4" y="626.5" width="3.6" height="2.5" fill="#3c3b39"/>
<rect x="435.6" y="624.0" width="3.6" height="7.6" fill="#fbfbf8"/>
<rect x="435.6" y="626.5" width="3.6" height="2.5" fill="#3c3b39"/>
<rect x="441.8" y="624.0" width="3.6" height="7.6" fill="#fbfbf8"/>
<rect x="441.8" y="626.5" width="3.6" height="2.5" fill="#3c3b39"/>
<rect x="448.0" y="624.0" width="3.6" height="7.6" fill="#fbfbf8"/>
<rect x="448.0" y="626.5" width="3.6" height="2.5" fill="#3c3b39"/>
<rect x="454.2" y="624.0" width="3.6" height="7.6" fill="#fbfbf8"/>
<rect x="454.2" y="626.5" width="3.6" height="2.5" fill="#3c3b39"/>
<rect x="460.4" y="624.0" width="3.6" height="7.6" fill="#fbfbf8"/>
<rect x="460.4" y="626.5" width="3.6" height="2.5" fill="#3c3b39"/>
<rect x="135.3" y="674.0" width="18.7" height="27.5" rx="1" fill="#3c3b39"/>
<rect x="126.3" y="675.5" width="8.0" height="4.0" fill="#fbfbf8"/>
<rect x="129.0" y="675.5" width="2.7" height="4.0" fill="#3c3b39"/>
<rect x="155.0" y="675.5" width="8.0" height="4.0" fill="#fbfbf8"/>
<rect x="157.7" y="675.5" width="2.7" height="4.0" fill="#3c3b39"/>
<rect x="126.3" y="682.5" width="8.0" height="4.0" fill="#fbfbf8"/>
<rect x="129.0" y="682.5" width="2.7" height="4.0" fill="#3c3b39"/>
<rect x="155.0" y="682.5" width="8.0" height="4.0" fill="#fbfbf8"/>
<rect x="157.7" y="682.5" width="2.7" height="4.0" fill="#3c3b39"/>
<rect x="126.3" y="689.5" width="8.0" height="4.0" fill="#fbfbf8"/>
<rect x="129.0" y="689.5" width="2.7" height="4.0" fill="#3c3b39"/>
<rect x="155.0" y="689.5" width="8.0" height="4.0" fill="#fbfbf8"/>
<rect x="157.7" y="689.5" width="2.7" height="4.0" fill="#3c3b39"/>
<rect x="126.3" y="696.5" width="8.0" height="4.0" fill="#fbfbf8"/>
<rect x="129.0" y="696.5" width="2.7" height="4.0" fill="#3c3b39"/>
<rect x="155.0" y="696.5" width="8.0" height="4.0" fill="#fbfbf8"/>
<rect x="157.7" y="696.5" width="2.7" height="4.0" fill="#3c3b39"/>
<rect x="226.6" y="674.0" width="18.7" height="27.5" rx="1" fill="#3c3b39"/>
<rect x="217.6" y="675.5" width="8.0" height="4.0" fill="#fbfbf8"/>
<rect x="220.3" y="675.5" width="2.7" height="4.0" fill="#3c3b39"/>
<rect x="246.3" y="675.5" width="8.0" height="4.0" fill="#fbfbf8"/>
<rect x="249.0" y="675.5" width="2.7" height="4.0" fill="#3c3b39"/>
<rect x="217.6" y="682.5" width="8.0" height="4.0" fill="#fbfbf8"/>
<rect x="220.3" y="682.5" width="2.7" height="4.0" fill="#3c3b39"/>
<rect x="246.3" y="682.5" width="8.0" height="4.0" fill="#fbfbf8"/>
<rect x="249.0" y="682.5" width="2.7" height="4.0" fill="#3c3b39"/>
<rect x="217.6" y="689.5" width="8.0" height="4.0" fill="#fbfbf8"/>
<rect x="220.3" y="689.5" width="2.7" height="4.0" fill="#3c3b39"/>
<rect x="246.3" y="689.5" width="8.0" height="4.0" fill="#fbfbf8"/>
<rect x="249.0" y="689.5" width="2.7" height="4.0" fill="#3c3b39"/>
<rect x="217.6" y="696.5" width="8.0" height="4.0" fill="#fbfbf8"/>
<rect x="220.3" y="696.5" width="2.7" height="4.0" fill="#3c3b39"/>
<rect x="246.3" y="696.5" width="8.0" height="4.0" fill="#fbfbf8"/>
<rect x="249.0" y="696.5" width="2.7" height="4.0" fill="#3c3b39"/>
<rect x="314.6" y="674.0" width="18.7" height="27.5" rx="1" fill="#3c3b39"/>
<rect x="305.6" y="675.5" width="8.0" height="4.0" fill="#fbfbf8"/>
<rect x="308.3" y="675.5" width="2.7" height="4.0" fill="#3c3b39"/>
<rect x="334.3" y="675.5" width="8.0" height="4.0" fill="#fbfbf8"/>
<rect x="337.0" y="675.5" width="2.7" height="4.0" fill="#3c3b39"/>
<rect x="305.6" y="682.5" width="8.0" height="4.0" fill="#fbfbf8"/>
<rect x="308.3" y="682.5" width="2.7" height="4.0" fill="#3c3b39"/>
<rect x="334.3" y="682.5" width="8.0" height="4.0" fill="#fbfbf8"/>
<rect x="337.0" y="682.5" width="2.7" height="4.0" fill="#3c3b39"/>
<rect x="305.6" y="689.5" width="8.0" height="4.0" fill="#fbfbf8"/>
<rect x="308.3" y="689.5" width="2.7" height="4.0" fill="#3c3b39"/>
<rect x="334.3" y="689.5" width="8.0" height="4.0" fill="#fbfbf8"/>
<rect x="337.0" y="689.5" width="2.7" height="4.0" fill="#3c3b39"/>
<rect x="305.6" y="696.5" width="8.0" height="4.0" fill="#fbfbf8"/>
<rect x="308.3" y="696.5" width="2.7" height="4.0" fill="#3c3b39"/>
<rect x="334.3" y="696.5" width="8.0" height="4.0" fill="#fbfbf8"/>
<rect x="337.0" y="696.5" width="2.7" height="4.0" fill="#3c3b39"/>
<rect x="172.0" y="672.0" width="14.0" height="6.0" fill="#fbfbf8"/>
<rect x="176.7" y="672.0" width="4.7" height="6.0" fill="#3c3b39"/>
<rect x="352.0" y="672.0" width="13.0" height="6.0" fill="#fbfbf8"/>
<rect x="356.3" y="672.0" width="4.3" height="6.0" fill="#3c3b39"/>
<rect x="172.0" y="681.0" width="14.0" height="6.0" fill="#fbfbf8"/>
<rect x="176.7" y="681.0" width="4.7" height="6.0" fill="#3c3b39"/>
<rect x="352.0" y="681.0" width="13.0" height="6.0" fill="#fbfbf8"/>
<rect x="356.3" y="681.0" width="4.3" height="6.0" fill="#3c3b39"/>
<rect x="172.0" y="690.0" width="14.0" height="6.0" fill="#fbfbf8"/>
<rect x="176.7" y="690.0" width="4.7" height="6.0" fill="#3c3b39"/>
<rect x="352.0" y="690.0" width="13.0" height="6.0" fill="#fbfbf8"/>
<rect x="356.3" y="690.0" width="4.3" height="6.0" fill="#3c3b39"/>
<rect x="206.8" y="679.5" width="6.2" height="14.5" fill="#fbfbf8"/>
<rect x="206.8" y="684.3" width="6.2" height="4.8" fill="#3c3b39"/>
<rect x="264.0" y="679.5" width="6.2" height="14.5" fill="#fbfbf8"/>
<rect x="264.0" y="684.3" width="6.2" height="4.8" fill="#3c3b39"/>
<rect x="234.0" y="652.7" width="13.5" height="6.6" fill="#fbfbf8"/>
<rect x="238.5" y="652.7" width="4.5" height="6.6" fill="#3c3b39"/>
<rect x="234.0" y="662.0" width="13.5" height="6.6" fill="#fbfbf8"/>
<rect x="238.5" y="662.0" width="4.5" height="6.6" fill="#3c3b39"/>
<rect x="250.0" y="662.0" width="14.0" height="6.6" fill="#fbfbf8"/>
<rect x="254.7" y="662.0" width="4.7" height="6.6" fill="#3c3b39"/>
<rect x="133.0" y="708.0" width="13.0" height="6.7" fill="#fbfbf8"/>
<rect x="137.3" y="708.0" width="4.3" height="6.7" fill="#3c3b39"/>
<rect x="128.7" y="717.6" width="28.6" height="13.2" fill="#fbfbf8"/>
<rect x="138.2" y="717.6" width="9.5" height="13.2" fill="#3c3b39"/>
<rect x="162.8" y="712.5" width="6.6" height="15.5" fill="#fbfbf8"/>
<rect x="162.8" y="717.7" width="6.6" height="5.2" fill="#3c3b39"/>
<rect x="305.4" y="717.6" width="28.6" height="13.2" fill="#fbfbf8"/>
<rect x="314.9" y="717.6" width="9.5" height="13.2" fill="#3c3b39"/>
<rect x="214.5" y="722.0" width="6.0" height="24.0" fill="#3c3b39" />
<rect x="214.5" y="722.0" width="6.0" height="3.5" fill="#fbfbf8" />
<rect x="214.5" y="742.5" width="6.0" height="3.5" fill="#fbfbf8" />
<rect x="226.0" y="722.0" width="6.0" height="24.0" fill="#3c3b39" />
<rect x="226.0" y="722.0" width="6.0" height="3.5" fill="#fbfbf8" />
<rect x="226.0" y="742.5" width="6.0" height="3.5" fill="#fbfbf8" />
<rect x="237.5" y="722.0" width="6.0" height="24.0" fill="#3c3b39" />
<rect x="237.5" y="722.0" width="6.0" height="3.5" fill="#fbfbf8" />
<rect x="237.5" y="742.5" width="6.0" height="3.5" fill="#fbfbf8" />
<rect x="249.0" y="722.0" width="6.0" height="24.0" fill="#3c3b39" />
<rect x="249.0" y="722.0" width="6.0" height="3.5" fill="#fbfbf8" />
<rect x="249.0" y="742.5" width="6.0" height="3.5" fill="#fbfbf8" />
<rect x="260.5" y="722.0" width="6.0" height="24.0" fill="#3c3b39" />
<rect x="260.5" y="722.0" width="6.0" height="3.5" fill="#fbfbf8" />
<rect x="260.5" y="742.5" width="6.0" height="3.5" fill="#fbfbf8" />
<rect x="212.0" y="753.4" width="5.6" height="14.4" fill="#fbfbf8"/>
<rect x="212.0" y="758.2" width="5.6" height="4.8" fill="#3c3b39"/>
<rect x="220.4" y="753.4" width="5.6" height="14.4" fill="#fbfbf8"/>
<rect x="220.4" y="758.2" width="5.6" height="4.8" fill="#3c3b39"/>
<rect x="228.9" y="753.4" width="5.6" height="14.4" fill="#fbfbf8"/>
<rect x="228.9" y="758.2" width="5.6" height="4.8" fill="#3c3b39"/>
<rect x="237.3" y="753.4" width="5.6" height="14.4" fill="#fbfbf8"/>
<rect x="237.3" y="758.2" width="5.6" height="4.8" fill="#3c3b39"/>
<rect x="245.8" y="753.4" width="5.6" height="14.4" fill="#fbfbf8"/>
<rect x="245.8" y="758.2" width="5.6" height="4.8" fill="#3c3b39"/>
<rect x="254.2" y="753.4" width="5.6" height="14.4" fill="#fbfbf8"/>
<rect x="254.2" y="758.2" width="5.6" height="4.8" fill="#3c3b39"/>
<rect x="262.7" y="753.4" width="5.6" height="14.4" fill="#fbfbf8"/>
<rect x="262.7" y="758.2" width="5.6" height="4.8" fill="#3c3b39"/>
<rect x="271.1" y="753.4" width="5.6" height="14.4" fill="#fbfbf8"/>
<rect x="271.1" y="758.2" width="5.6" height="4.8" fill="#3c3b39"/>
<rect x="279.6" y="753.4" width="5.6" height="14.4" fill="#fbfbf8"/>
<rect x="279.6" y="758.2" width="5.6" height="4.8" fill="#3c3b39"/>
<rect x="288.1" y="753.4" width="5.6" height="14.4" fill="#fbfbf8"/>
<rect x="288.1" y="758.2" width="5.6" height="4.8" fill="#3c3b39"/>
<rect x="296.5" y="753.4" width="5.6" height="14.4" fill="#fbfbf8"/>
<rect x="296.5" y="758.2" width="5.6" height="4.8" fill="#3c3b39"/>
<rect x="304.9" y="753.4" width="5.6" height="14.4" fill="#fbfbf8"/>
<rect x="304.9" y="758.2" width="5.6" height="4.8" fill="#3c3b39"/>
<rect x="491" y="633.8" width="33" height="36.6" fill="#0a2440" opacity="0.3" filter="url(#sh)"/>
<rect x="489.0" y="630.8" width="33.0" height="36.6" fill="#fbf4c2" />
<circle cx="493" cy="635.0999999999999" r="2.8" fill="#3a3a3a"/>
<circle cx="518" cy="635.0999999999999" r="2.8" fill="#3a3a3a"/>
<circle cx="493" cy="663.0999999999999" r="2.8" fill="#3a3a3a"/>
<circle cx="518" cy="663.0999999999999" r="2.8" fill="#3a3a3a"/>
<ellipse cx="505.5" cy="649.0999999999999" rx="8" ry="9" fill="#fcf6cc" stroke="#222" stroke-width="1.5"/>
<rect x="551" y="633.8" width="33" height="36.6" fill="#0a2440" opacity="0.3" filter="url(#sh)"/>
<rect x="549.0" y="630.8" width="33.0" height="36.6" fill="#fbf4c2" />
<circle cx="553" cy="635.0999999999999" r="2.8" fill="#3a3a3a"/>
<circle cx="578" cy="635.0999999999999" r="2.8" fill="#3a3a3a"/>
<circle cx="553" cy="663.0999999999999" r="2.8" fill="#3a3a3a"/>
<circle cx="578" cy="663.0999999999999" r="2.8" fill="#3a3a3a"/>
<ellipse cx="565.5" cy="649.0999999999999" rx="8" ry="9" fill="#fcf6cc" stroke="#222" stroke-width="1.5"/>
<rect x="490.0" y="597.0" width="13.2" height="6.0" fill="#fbfbf8"/>
<rect x="494.4" y="597.0" width="4.4" height="6.0" fill="#3c3b39"/>
<rect x="550.5" y="597.0" width="13.2" height="6.0" fill="#fbfbf8"/>
<rect x="554.9" y="597.0" width="4.4" height="6.0" fill="#3c3b39"/>
<rect x="490.0" y="606.3" width="13.2" height="6.0" fill="#fbfbf8"/>
<rect x="494.4" y="606.3" width="4.4" height="6.0" fill="#3c3b39"/>
<rect x="550.5" y="606.3" width="13.2" height="6.0" fill="#fbfbf8"/>
<rect x="554.9" y="606.3" width="4.4" height="6.0" fill="#3c3b39"/>
<rect x="490.0" y="616.0" width="13.2" height="6.0" fill="#fbfbf8"/>
<rect x="494.4" y="616.0" width="4.4" height="6.0" fill="#3c3b39"/>
<rect x="550.5" y="616.0" width="13.2" height="6.0" fill="#fbfbf8"/>
<rect x="554.9" y="616.0" width="4.4" height="6.0" fill="#3c3b39"/>
<rect x="644.0" y="574.3" width="14.3" height="6.5" fill="#fbfbf8"/>
<rect x="648.8" y="574.3" width="4.8" height="6.5" fill="#3c3b39"/>
<rect x="644.0" y="582.5" width="14.3" height="6.5" fill="#fbfbf8"/>
<rect x="648.8" y="582.5" width="4.8" height="6.5" fill="#3c3b39"/>
<rect x="520.8" y="721.7" width="5.5" height="24.3" fill="#3c3b39" />
<rect x="520.8" y="721.7" width="5.5" height="3.8" fill="#fbfbf8" />
<rect x="520.8" y="742.2" width="5.5" height="3.8" fill="#fbfbf8" />
<rect x="533.4" y="721.7" width="5.5" height="24.3" fill="#3c3b39" />
<rect x="533.4" y="721.7" width="5.5" height="3.8" fill="#fbfbf8" />
<rect x="533.4" y="742.2" width="5.5" height="3.8" fill="#fbfbf8" />
<rect x="546.1" y="721.7" width="5.5" height="24.3" fill="#3c3b39" />
<rect x="546.1" y="721.7" width="5.5" height="3.8" fill="#fbfbf8" />
<rect x="546.1" y="742.2" width="5.5" height="3.8" fill="#fbfbf8" />
<rect x="558.8" y="721.7" width="5.5" height="24.3" fill="#3c3b39" />
<rect x="558.8" y="721.7" width="5.5" height="3.8" fill="#fbfbf8" />
<rect x="558.8" y="742.2" width="5.5" height="3.8" fill="#fbfbf8" />
<rect x="571.4" y="721.7" width="5.5" height="24.3" fill="#3c3b39" />
<rect x="571.4" y="721.7" width="5.5" height="3.8" fill="#fbfbf8" />
<rect x="571.4" y="742.2" width="5.5" height="3.8" fill="#fbfbf8" />
<rect x="520.0" y="753.3" width="5.6" height="14.6" fill="#fbfbf8"/>
<rect x="520.0" y="758.2" width="5.6" height="4.9" fill="#3c3b39"/>
<rect x="528.5" y="753.3" width="5.6" height="14.6" fill="#fbfbf8"/>
<rect x="528.5" y="758.2" width="5.6" height="4.9" fill="#3c3b39"/>
<rect x="536.9" y="753.3" width="5.6" height="14.6" fill="#fbfbf8"/>
<rect x="536.9" y="758.2" width="5.6" height="4.9" fill="#3c3b39"/>
<rect x="545.4" y="753.3" width="5.6" height="14.6" fill="#fbfbf8"/>
<rect x="545.4" y="758.2" width="5.6" height="4.9" fill="#3c3b39"/>
<rect x="553.8" y="753.3" width="5.6" height="14.6" fill="#fbfbf8"/>
<rect x="553.8" y="758.2" width="5.6" height="4.9" fill="#3c3b39"/>
<rect x="562.2" y="753.3" width="5.6" height="14.6" fill="#fbfbf8"/>
<rect x="562.2" y="758.2" width="5.6" height="4.9" fill="#3c3b39"/>
<rect x="570.7" y="753.3" width="5.6" height="14.6" fill="#fbfbf8"/>
<rect x="570.7" y="758.2" width="5.6" height="4.9" fill="#3c3b39"/>
<rect x="579.1" y="753.3" width="5.6" height="14.6" fill="#fbfbf8"/>
<rect x="579.1" y="758.2" width="5.6" height="4.9" fill="#3c3b39"/>
<rect x="587.6" y="753.3" width="5.6" height="14.6" fill="#fbfbf8"/>
<rect x="587.6" y="758.2" width="5.6" height="4.9" fill="#3c3b39"/>
<rect x="596.0" y="753.3" width="5.6" height="14.6" fill="#fbfbf8"/>
<rect x="596.0" y="758.2" width="5.6" height="4.9" fill="#3c3b39"/>
<rect x="604.5" y="753.3" width="5.6" height="14.6" fill="#fbfbf8"/>
<rect x="604.5" y="758.2" width="5.6" height="4.9" fill="#3c3b39"/>
<rect x="613.0" y="753.3" width="5.6" height="14.6" fill="#fbfbf8"/>
<rect x="613.0" y="758.2" width="5.6" height="4.9" fill="#3c3b39"/>
<rect x="637.4" y="667.4" width="13.6" height="6.0" fill="#fbfbf8"/>
<rect x="641.9" y="667.4" width="4.5" height="6.0" fill="#3c3b39"/>
<rect x="637.4" y="676.6" width="13.6" height="6.0" fill="#fbfbf8"/>
<rect x="641.9" y="676.6" width="4.5" height="6.0" fill="#3c3b39"/>
<rect x="637.4" y="685.8" width="13.6" height="6.0" fill="#fbfbf8"/>
<rect x="641.9" y="685.8" width="4.5" height="6.0" fill="#3c3b39"/>
<rect x="637.4" y="695.0" width="13.6" height="6.0" fill="#fbfbf8"/>
<rect x="641.9" y="695.0" width="4.5" height="6.0" fill="#3c3b39"/>
<rect x="637.4" y="704.2" width="13.6" height="6.0" fill="#fbfbf8"/>
<rect x="641.9" y="704.2" width="4.5" height="6.0" fill="#3c3b39"/>
<rect x="637.4" y="713.4" width="13.6" height="6.0" fill="#fbfbf8"/>
<rect x="641.9" y="713.4" width="4.5" height="6.0" fill="#3c3b39"/>
<rect x="621.4" y="678.8" width="13.2" height="6.2" fill="#fbfbf8"/>
<rect x="625.8" y="678.8" width="4.4" height="6.2" fill="#3c3b39"/>
<rect x="621.4" y="703.0" width="13.2" height="6.2" fill="#fbfbf8"/>
<rect x="625.8" y="703.0" width="4.4" height="6.2" fill="#3c3b39"/>
<rect x="663.0" y="683.0" width="19.0" height="27.0" rx="1" fill="#3c3b39"/>
<rect x="655.0" y="684.5" width="7.5" height="4.0" fill="#fbfbf8"/>
<rect x="657.5" y="684.5" width="2.5" height="4.0" fill="#3c3b39"/>
<rect x="682.5" y="684.5" width="7.5" height="4.0" fill="#fbfbf8"/>
<rect x="685.0" y="684.5" width="2.5" height="4.0" fill="#3c3b39"/>
<rect x="655.0" y="691.5" width="7.5" height="4.0" fill="#fbfbf8"/>
<rect x="657.5" y="691.5" width="2.5" height="4.0" fill="#3c3b39"/>
<rect x="682.5" y="691.5" width="7.5" height="4.0" fill="#fbfbf8"/>
<rect x="685.0" y="691.5" width="2.5" height="4.0" fill="#3c3b39"/>
<rect x="655.0" y="698.5" width="7.5" height="4.0" fill="#fbfbf8"/>
<rect x="657.5" y="698.5" width="2.5" height="4.0" fill="#3c3b39"/>
<rect x="682.5" y="698.5" width="7.5" height="4.0" fill="#fbfbf8"/>
<rect x="685.0" y="698.5" width="2.5" height="4.0" fill="#3c3b39"/>
<rect x="655.0" y="705.5" width="7.5" height="4.0" fill="#fbfbf8"/>
<rect x="657.5" y="705.5" width="2.5" height="4.0" fill="#3c3b39"/>
<rect x="682.5" y="705.5" width="7.5" height="4.0" fill="#fbfbf8"/>
<rect x="685.0" y="705.5" width="2.5" height="4.0" fill="#3c3b39"/>
<rect x="693.5" y="666.0" width="12.5" height="6.6" fill="#fbfbf8"/>
<rect x="697.7" y="666.0" width="4.2" height="6.6" fill="#3c3b39"/>
<rect x="693.5" y="674.5" width="12.5" height="6.6" fill="#fbfbf8"/>
<rect x="697.7" y="674.5" width="4.2" height="6.6" fill="#3c3b39"/>
<rect x="693.5" y="710.5" width="12.5" height="6.6" fill="#fbfbf8"/>
<rect x="697.7" y="710.5" width="4.2" height="6.6" fill="#3c3b39"/>
<rect x="693.5" y="719.0" width="12.5" height="6.6" fill="#fbfbf8"/>
<rect x="697.7" y="719.0" width="4.2" height="6.6" fill="#3c3b39"/>
<rect x="711.5" y="658.0" width="14.3" height="33.4" fill="#3c3b39" />
<rect x="711.5" y="658.0" width="14.3" height="4.2" fill="#fbfbf8" />
<rect x="711.5" y="686.6" width="14.3" height="4.8" fill="#fbfbf8" />
<rect x="711.5" y="696.7" width="14.3" height="33.0" fill="#3c3b39" />
<rect x="711.5" y="696.7" width="14.3" height="4.2" fill="#fbfbf8" />
<rect x="711.5" y="724.9" width="14.3" height="4.8" fill="#fbfbf8" />
<rect x="731.0" y="677.5" width="14.0" height="33.0" fill="#3c3b39" />
<rect x="731.0" y="677.5" width="14.0" height="4.2" fill="#fbfbf8" />
<rect x="731.0" y="705.7" width="14.0" height="4.8" fill="#fbfbf8" />
<rect x="729.0" y="661.0" width="24.0" height="12.0" fill="#fbfbf8"/>
<rect x="737.0" y="661.0" width="8.0" height="12.0" fill="#3c3b39"/>
<rect x="729.0" y="715.0" width="24.0" height="12.0" fill="#fbfbf8"/>
<rect x="737.0" y="715.0" width="8.0" height="12.0" fill="#3c3b39"/>
<rect x="829.0" y="574.0" width="6.0" height="15.5" fill="#fbfbf8"/>
<rect x="829.0" y="579.2" width="6.0" height="5.2" fill="#3c3b39"/>
<rect x="855.0" y="574.0" width="6.0" height="15.5" fill="#fbfbf8"/>
<rect x="855.0" y="579.2" width="6.0" height="5.2" fill="#3c3b39"/>
<rect x="821.0" y="591.7" width="6.0" height="15.3" fill="#fbfbf8"/>
<rect x="821.0" y="596.8" width="6.0" height="5.1" fill="#3c3b39"/>
<rect x="829.3" y="591.7" width="6.0" height="15.3" fill="#fbfbf8"/>
<rect x="829.3" y="596.8" width="6.0" height="5.1" fill="#3c3b39"/>
<rect x="837.6" y="591.7" width="6.0" height="15.3" fill="#fbfbf8"/>
<rect x="837.6" y="596.8" width="6.0" height="5.1" fill="#3c3b39"/>
<rect x="845.9" y="591.7" width="6.0" height="15.3" fill="#fbfbf8"/>
<rect x="845.9" y="596.8" width="6.0" height="5.1" fill="#3c3b39"/>
<rect x="854.2" y="591.7" width="6.0" height="15.3" fill="#fbfbf8"/>
<rect x="854.2" y="596.8" width="6.0" height="5.1" fill="#3c3b39"/>
<rect x="862.5" y="591.7" width="6.0" height="15.3" fill="#fbfbf8"/>
<rect x="862.5" y="596.8" width="6.0" height="5.1" fill="#3c3b39"/>
<rect x="831.0" y="621.4" width="24.0" height="21.6" rx="1" fill="#3c3b39"/>
<rect x="832.0" y="612.0" width="3.4" height="8.0" fill="#fbfbf8"/>
<rect x="832.0" y="614.7" width="3.4" height="2.7" fill="#3c3b39"/>
<rect x="838.2" y="612.0" width="3.4" height="8.0" fill="#fbfbf8"/>
<rect x="838.2" y="614.7" width="3.4" height="2.7" fill="#3c3b39"/>
<rect x="844.4" y="612.0" width="3.4" height="8.0" fill="#fbfbf8"/>
<rect x="844.4" y="614.7" width="3.4" height="2.7" fill="#3c3b39"/>
<rect x="850.6" y="612.0" width="3.4" height="8.0" fill="#fbfbf8"/>
<rect x="850.6" y="614.7" width="3.4" height="2.7" fill="#3c3b39"/>
<rect x="832.0" y="643.5" width="3.4" height="8.0" fill="#fbfbf8"/>
<rect x="832.0" y="646.2" width="3.4" height="2.7" fill="#3c3b39"/>
<rect x="838.2" y="643.5" width="3.4" height="8.0" fill="#fbfbf8"/>
<rect x="838.2" y="646.2" width="3.4" height="2.7" fill="#3c3b39"/>
<rect x="844.4" y="643.5" width="3.4" height="8.0" fill="#fbfbf8"/>
<rect x="844.4" y="646.2" width="3.4" height="2.7" fill="#3c3b39"/>
<rect x="850.6" y="643.5" width="3.4" height="8.0" fill="#fbfbf8"/>
<rect x="850.6" y="646.2" width="3.4" height="2.7" fill="#3c3b39"/>
<rect x="832.0" y="659.0" width="6.0" height="15.0" fill="#fbfbf8"/>
<rect x="832.0" y="664.0" width="6.0" height="5.0" fill="#3c3b39"/>
<rect x="840.4" y="659.0" width="6.0" height="15.0" fill="#fbfbf8"/>
<rect x="840.4" y="664.0" width="6.0" height="5.0" fill="#3c3b39"/>
<rect x="848.8" y="659.0" width="6.0" height="15.0" fill="#fbfbf8"/>
<rect x="848.8" y="664.0" width="6.0" height="5.0" fill="#3c3b39"/>
<rect x="857.2" y="659.0" width="6.0" height="15.0" fill="#fbfbf8"/>
<rect x="857.2" y="664.0" width="6.0" height="5.0" fill="#3c3b39"/>
<rect x="816.0" y="679.0" width="28.6" height="16.0" fill="#3c3b39" />
<rect x="816.0" y="679.0" width="3.8" height="16.0" fill="#fbfbf8" />
<rect x="840.8" y="679.0" width="3.8" height="16.0" fill="#fbfbf8" />
<rect x="850.8" y="679.0" width="29.0" height="16.0" fill="#3c3b39" />
<rect x="850.8" y="679.0" width="3.8" height="16.0" fill="#fbfbf8" />
<rect x="876.0" y="679.0" width="3.8" height="16.0" fill="#fbfbf8" />
<rect x="833.0" y="700.6" width="29.0" height="16.4" fill="#3c3b39" />
<rect x="833.0" y="700.6" width="3.8" height="16.4" fill="#fbfbf8" />
<rect x="858.2" y="700.6" width="3.8" height="16.4" fill="#fbfbf8" />
<rect x="818.0" y="699.0" width="11.0" height="27.0" fill="#fbfbf8"/>
<rect x="818.0" y="708.0" width="11.0" height="9.0" fill="#3c3b39"/>
<rect x="866.6" y="699.0" width="10.5" height="27.0" fill="#fbfbf8"/>
<rect x="866.6" y="708.0" width="10.5" height="9.0" fill="#3c3b39"/>
<rect x="910.0" y="718.6" width="13.7" height="6.4" fill="#fbfbf8"/>
<rect x="914.6" y="718.6" width="4.6" height="6.4" fill="#3c3b39"/>
<rect x="910.0" y="727.2" width="13.7" height="6.4" fill="#fbfbf8"/>
<rect x="914.6" y="727.2" width="4.6" height="6.4" fill="#3c3b39"/>
<rect x="910.0" y="735.8" width="13.7" height="6.4" fill="#fbfbf8"/>
<rect x="914.6" y="735.8" width="4.6" height="6.4" fill="#3c3b39"/>
<rect x="873.9" y="753.4" width="58.3" height="92" fill="#0a2440" opacity="0.4" filter="url(#sh)"/>
<rect x="870.9" y="749.4" width="58.3" height="92.0" fill="#fdf6ec" />
<rect x="927.7" y="749.4" width="1.5" height="92.0" fill="#2a2a2a" />
<rect x="978.7" y="756.3" width="81" height="89.4" fill="#0a2440" opacity="0.4" filter="url(#sh)"/>
<rect x="975.7" y="752.3" width="81.0" height="89.4" fill="#fdf6ec" />
<rect x="1048.2" y="535.3" width="30.6" height="48.7" rx="3" fill="#3b3b3b"/>
<rect x="1050.0" y="530.0" width="3.2" height="6.2" fill="#fbfbf8"/>
<rect x="1050.0" y="532.1" width="3.2" height="2.1" fill="#3c3b39"/>
<rect x="1050.0" y="585.0" width="3.2" height="6.2" fill="#fbfbf8"/>
<rect x="1050.0" y="587.1" width="3.2" height="2.1" fill="#3c3b39"/>
<rect x="1054.9" y="530.0" width="3.2" height="6.2" fill="#fbfbf8"/>
<rect x="1054.9" y="532.1" width="3.2" height="2.1" fill="#3c3b39"/>
<rect x="1054.9" y="585.0" width="3.2" height="6.2" fill="#fbfbf8"/>
<rect x="1054.9" y="587.1" width="3.2" height="2.1" fill="#3c3b39"/>
<rect x="1059.8" y="530.0" width="3.2" height="6.2" fill="#fbfbf8"/>
<rect x="1059.8" y="532.1" width="3.2" height="2.1" fill="#3c3b39"/>
<rect x="1059.8" y="585.0" width="3.2" height="6.2" fill="#fbfbf8"/>
<rect x="1059.8" y="587.1" width="3.2" height="2.1" fill="#3c3b39"/>
<rect x="1064.7" y="530.0" width="3.2" height="6.2" fill="#fbfbf8"/>
<rect x="1064.7" y="532.1" width="3.2" height="2.1" fill="#3c3b39"/>
<rect x="1064.7" y="585.0" width="3.2" height="6.2" fill="#fbfbf8"/>
<rect x="1064.7" y="587.1" width="3.2" height="2.1" fill="#3c3b39"/>
<rect x="1069.6" y="530.0" width="3.2" height="6.2" fill="#fbfbf8"/>
<rect x="1069.6" y="532.1" width="3.2" height="2.1" fill="#3c3b39"/>
<rect x="1069.6" y="585.0" width="3.2" height="6.2" fill="#fbfbf8"/>
<rect x="1069.6" y="587.1" width="3.2" height="2.1" fill="#3c3b39"/>
<rect x="1074.5" y="530.0" width="3.2" height="6.2" fill="#fbfbf8"/>
<rect x="1074.5" y="532.1" width="3.2" height="2.1" fill="#3c3b39"/>
<rect x="1074.5" y="585.0" width="3.2" height="6.2" fill="#fbfbf8"/>
<rect x="1074.5" y="587.1" width="3.2" height="2.1" fill="#3c3b39"/>
<rect x="1042.0" y="537.5" width="6.0" height="3.2" fill="#fbfbf8"/>
<rect x="1044.0" y="537.5" width="2.0" height="3.2" fill="#3c3b39"/>
<rect x="1079.5" y="537.5" width="6.0" height="3.2" fill="#fbfbf8"/>
<rect x="1081.5" y="537.5" width="2.0" height="3.2" fill="#3c3b39"/>
<rect x="1042.0" y="544.0" width="6.0" height="3.2" fill="#fbfbf8"/>
<rect x="1044.0" y="544.0" width="2.0" height="3.2" fill="#3c3b39"/>
<rect x="1079.5" y="544.0" width="6.0" height="3.2" fill="#fbfbf8"/>
<rect x="1081.5" y="544.0" width="2.0" height="3.2" fill="#3c3b39"/>
<rect x="1042.0" y="550.5" width="6.0" height="3.2" fill="#fbfbf8"/>
<rect x="1044.0" y="550.5" width="2.0" height="3.2" fill="#3c3b39"/>
<rect x="1079.5" y="550.5" width="6.0" height="3.2" fill="#fbfbf8"/>
<rect x="1081.5" y="550.5" width="2.0" height="3.2" fill="#3c3b39"/>
<rect x="1042.0" y="557.0" width="6.0" height="3.2" fill="#fbfbf8"/>
<rect x="1044.0" y="557.0" width="2.0" height="3.2" fill="#3c3b39"/>
<rect x="1079.5" y="557.0" width="6.0" height="3.2" fill="#fbfbf8"/>
<rect x="1081.5" y="557.0" width="2.0" height="3.2" fill="#3c3b39"/>
<rect x="1042.0" y="563.5" width="6.0" height="3.2" fill="#fbfbf8"/>
<rect x="1044.0" y="563.5" width="2.0" height="3.2" fill="#3c3b39"/>
<rect x="1079.5" y="563.5" width="6.0" height="3.2" fill="#fbfbf8"/>
<rect x="1081.5" y="563.5" width="2.0" height="3.2" fill="#3c3b39"/>
<rect x="1042.0" y="570.0" width="6.0" height="3.2" fill="#fbfbf8"/>
<rect x="1044.0" y="570.0" width="2.0" height="3.2" fill="#3c3b39"/>
<rect x="1079.5" y="570.0" width="6.0" height="3.2" fill="#fbfbf8"/>
<rect x="1081.5" y="570.0" width="2.0" height="3.2" fill="#3c3b39"/>
<rect x="1042.0" y="576.5" width="6.0" height="3.2" fill="#fbfbf8"/>
<rect x="1044.0" y="576.5" width="2.0" height="3.2" fill="#3c3b39"/>
<rect x="1079.5" y="576.5" width="6.0" height="3.2" fill="#fbfbf8"/>
<rect x="1081.5" y="576.5" width="2.0" height="3.2" fill="#3c3b39"/>
<rect x="1009.0" y="539.4" width="13.0" height="6.5" fill="#fbfbf8"/>
<rect x="1013.3" y="539.4" width="4.3" height="6.5" fill="#3c3b39"/>
<rect x="1009.0" y="548.8" width="13.0" height="6.5" fill="#fbfbf8"/>
<rect x="1013.3" y="548.8" width="4.3" height="6.5" fill="#3c3b39"/>
<rect x="1009.0" y="558.2" width="13.0" height="6.5" fill="#fbfbf8"/>
<rect x="1013.3" y="558.2" width="4.3" height="6.5" fill="#3c3b39"/>
<rect x="1009.0" y="567.6" width="13.0" height="6.5" fill="#fbfbf8"/>
<rect x="1013.3" y="567.6" width="4.3" height="6.5" fill="#3c3b39"/>
<rect x="1009.0" y="577.0" width="13.0" height="6.5" fill="#fbfbf8"/>
<rect x="1013.3" y="577.0" width="4.3" height="6.5" fill="#3c3b39"/>
<rect x="1009.0" y="586.4" width="13.0" height="6.5" fill="#fbfbf8"/>
<rect x="1013.3" y="586.4" width="4.3" height="6.5" fill="#3c3b39"/>
<rect x="989.0" y="557.0" width="13.3" height="6.5" fill="#fbfbf8"/>
<rect x="993.4" y="557.0" width="4.4" height="6.5" fill="#3c3b39"/>
<rect x="989.0" y="566.5" width="13.3" height="6.5" fill="#fbfbf8"/>
<rect x="993.4" y="566.5" width="4.4" height="6.5" fill="#3c3b39"/>
<rect x="989.0" y="607.3" width="13.3" height="6.5" fill="#fbfbf8"/>
<rect x="993.4" y="607.3" width="4.4" height="6.5" fill="#3c3b39"/>
<rect x="1104.0" y="545.7" width="13.5" height="6.5" fill="#fbfbf8"/>
<rect x="1108.5" y="545.7" width="4.5" height="6.5" fill="#3c3b39"/>
<rect x="989.0" y="616.2" width="13.3" height="6.5" fill="#fbfbf8"/>
<rect x="993.4" y="616.2" width="4.4" height="6.5" fill="#3c3b39"/>
<rect x="1104.0" y="554.6" width="13.5" height="6.5" fill="#fbfbf8"/>
<rect x="1108.5" y="554.6" width="4.5" height="6.5" fill="#3c3b39"/>
<rect x="989.0" y="625.1" width="13.3" height="6.5" fill="#fbfbf8"/>
<rect x="993.4" y="625.1" width="4.4" height="6.5" fill="#3c3b39"/>
<rect x="1104.0" y="563.5" width="13.5" height="6.5" fill="#fbfbf8"/>
<rect x="1108.5" y="563.5" width="4.5" height="6.5" fill="#3c3b39"/>
<rect x="1170.0" y="558.0" width="5.5" height="15.0" fill="#fbfbf8"/>
<rect x="1170.0" y="563.0" width="5.5" height="5.0" fill="#3c3b39"/>
<rect x="1038.0" y="614.5" width="5.6" height="14.8" fill="#fbfbf8"/>
<rect x="1038.0" y="619.4" width="5.6" height="4.9" fill="#3c3b39"/>
<rect x="1046.8" y="614.5" width="5.6" height="14.8" fill="#fbfbf8"/>
<rect x="1046.8" y="619.4" width="5.6" height="4.9" fill="#3c3b39"/>
<rect x="1055.6" y="614.5" width="5.6" height="14.8" fill="#fbfbf8"/>
<rect x="1055.6" y="619.4" width="5.6" height="4.9" fill="#3c3b39"/>
<rect x="1064.4" y="614.5" width="5.6" height="14.8" fill="#fbfbf8"/>
<rect x="1064.4" y="619.4" width="5.6" height="4.9" fill="#3c3b39"/>
<rect x="1073.2" y="614.5" width="5.6" height="14.8" fill="#fbfbf8"/>
<rect x="1073.2" y="619.4" width="5.6" height="4.9" fill="#3c3b39"/>
<rect x="1087.3" y="614.5" width="5.6" height="14.8" fill="#fbfbf8"/>
<rect x="1087.3" y="619.4" width="5.6" height="4.9" fill="#3c3b39"/>
<rect x="1096.3" y="614.5" width="5.6" height="14.8" fill="#fbfbf8"/>
<rect x="1096.3" y="619.4" width="5.6" height="4.9" fill="#3c3b39"/>
<rect x="1105.3" y="614.5" width="5.6" height="14.8" fill="#fbfbf8"/>
<rect x="1105.3" y="619.4" width="5.6" height="4.9" fill="#3c3b39"/>
<rect x="1114.3" y="614.5" width="5.6" height="14.8" fill="#fbfbf8"/>
<rect x="1114.3" y="619.4" width="5.6" height="4.9" fill="#3c3b39"/>
<rect x="1123.3" y="614.5" width="5.6" height="14.8" fill="#fbfbf8"/>
<rect x="1123.3" y="619.4" width="5.6" height="4.9" fill="#3c3b39"/>
<rect x="1132.3" y="614.5" width="5.6" height="14.8" fill="#fbfbf8"/>
<rect x="1132.3" y="619.4" width="5.6" height="4.9" fill="#3c3b39"/>
<rect x="1051.0" y="631.6" width="6.0" height="14.4" fill="#fbfbf8"/>
<rect x="1051.0" y="636.4" width="6.0" height="4.8" fill="#3c3b39"/>
<rect x="1069.0" y="631.6" width="6.0" height="14.4" fill="#fbfbf8"/>
<rect x="1069.0" y="636.4" width="6.0" height="4.8" fill="#3c3b39"/>
<rect x="1051.0" y="662.0" width="64.8" height="50.8" fill="#0a2440" opacity="0.45" filter="url(#shb)"/>
<rect x="1050.0" y="656.0" width="64.8" height="50.8" rx="1" fill="#3c3b39"/>
<rect x="1053.0" y="647.0" width="3.5" height="9.0" fill="#fbfbf8"/>
<rect x="1053.0" y="650.0" width="3.5" height="3.0" fill="#3c3b39"/>
<rect x="1060.6" y="647.0" width="3.5" height="9.0" fill="#fbfbf8"/>
<rect x="1060.6" y="650.0" width="3.5" height="3.0" fill="#3c3b39"/>
<rect x="1068.3" y="647.0" width="3.5" height="9.0" fill="#fbfbf8"/>
<rect x="1068.3" y="650.0" width="3.5" height="3.0" fill="#3c3b39"/>
<rect x="1075.9" y="647.0" width="3.5" height="9.0" fill="#fbfbf8"/>
<rect x="1075.9" y="650.0" width="3.5" height="3.0" fill="#3c3b39"/>
<rect x="1083.6" y="647.0" width="3.5" height="9.0" fill="#fbfbf8"/>
<rect x="1083.6" y="650.0" width="3.5" height="3.0" fill="#3c3b39"/>
<rect x="1091.2" y="647.0" width="3.5" height="9.0" fill="#fbfbf8"/>
<rect x="1091.2" y="650.0" width="3.5" height="3.0" fill="#3c3b39"/>
<rect x="1098.9" y="647.0" width="3.5" height="9.0" fill="#fbfbf8"/>
<rect x="1098.9" y="650.0" width="3.5" height="3.0" fill="#3c3b39"/>
<rect x="1106.5" y="647.0" width="3.5" height="9.0" fill="#fbfbf8"/>
<rect x="1106.5" y="650.0" width="3.5" height="3.0" fill="#3c3b39"/>
<rect x="1053.0" y="707.5" width="3.5" height="9.0" fill="#fbfbf8"/>
<rect x="1053.0" y="710.5" width="3.5" height="3.0" fill="#3c3b39"/>
<rect x="1060.6" y="707.5" width="3.5" height="9.0" fill="#fbfbf8"/>
<rect x="1060.6" y="710.5" width="3.5" height="3.0" fill="#3c3b39"/>
<rect x="1068.3" y="707.5" width="3.5" height="9.0" fill="#fbfbf8"/>
<rect x="1068.3" y="710.5" width="3.5" height="3.0" fill="#3c3b39"/>
<rect x="1075.9" y="707.5" width="3.5" height="9.0" fill="#fbfbf8"/>
<rect x="1075.9" y="710.5" width="3.5" height="3.0" fill="#3c3b39"/>
<rect x="1083.6" y="707.5" width="3.5" height="9.0" fill="#fbfbf8"/>
<rect x="1083.6" y="710.5" width="3.5" height="3.0" fill="#3c3b39"/>
<rect x="1091.2" y="707.5" width="3.5" height="9.0" fill="#fbfbf8"/>
<rect x="1091.2" y="710.5" width="3.5" height="3.0" fill="#3c3b39"/>
<rect x="1098.9" y="707.5" width="3.5" height="9.0" fill="#fbfbf8"/>
<rect x="1098.9" y="710.5" width="3.5" height="3.0" fill="#3c3b39"/>
<rect x="1106.5" y="707.5" width="3.5" height="9.0" fill="#fbfbf8"/>
<rect x="1106.5" y="710.5" width="3.5" height="3.0" fill="#3c3b39"/>
<rect x="1205.0" y="580.0" width="50.9" height="22.2" fill="#0a2440" opacity="0.3" filter="url(#sh)"/>
<rect x="1204.0" y="577.0" width="50.9" height="22.2" rx="1" fill="#3c3b39"/>
<rect x="1206.0" y="569.0" width="3.4" height="7.8" fill="#fbfbf8"/>
<rect x="1206.0" y="571.6" width="3.4" height="2.6" fill="#3c3b39"/>
<rect x="1212.0" y="569.0" width="3.4" height="7.8" fill="#fbfbf8"/>
<rect x="1212.0" y="571.6" width="3.4" height="2.6" fill="#3c3b39"/>
<rect x="1218.0" y="569.0" width="3.4" height="7.8" fill="#fbfbf8"/>
<rect x="1218.0" y="571.6" width="3.4" height="2.6" fill="#3c3b39"/>
<rect x="1224.0" y="569.0" width="3.4" height="7.8" fill="#fbfbf8"/>
<rect x="1224.0" y="571.6" width="3.4" height="2.6" fill="#3c3b39"/>
<rect x="1230.1" y="569.0" width="3.4" height="7.8" fill="#fbfbf8"/>
<rect x="1230.1" y="571.6" width="3.4" height="2.6" fill="#3c3b39"/>
<rect x="1236.1" y="569.0" width="3.4" height="7.8" fill="#fbfbf8"/>
<rect x="1236.1" y="571.6" width="3.4" height="2.6" fill="#3c3b39"/>
<rect x="1242.1" y="569.0" width="3.4" height="7.8" fill="#fbfbf8"/>
<rect x="1242.1" y="571.6" width="3.4" height="2.6" fill="#3c3b39"/>
<rect x="1248.1" y="569.0" width="3.4" height="7.8" fill="#fbfbf8"/>
<rect x="1248.1" y="571.6" width="3.4" height="2.6" fill="#3c3b39"/>
<rect x="1206.0" y="600.0" width="3.4" height="7.8" fill="#fbfbf8"/>
<rect x="1206.0" y="602.6" width="3.4" height="2.6" fill="#3c3b39"/>
<rect x="1212.0" y="600.0" width="3.4" height="7.8" fill="#fbfbf8"/>
<rect x="1212.0" y="602.6" width="3.4" height="2.6" fill="#3c3b39"/>
<rect x="1218.0" y="600.0" width="3.4" height="7.8" fill="#fbfbf8"/>
<rect x="1218.0" y="602.6" width="3.4" height="2.6" fill="#3c3b39"/>
<rect x="1224.0" y="600.0" width="3.4" height="7.8" fill="#fbfbf8"/>
<rect x="1224.0" y="602.6" width="3.4" height="2.6" fill="#3c3b39"/>
<rect x="1230.1" y="600.0" width="3.4" height="7.8" fill="#fbfbf8"/>
<rect x="1230.1" y="602.6" width="3.4" height="2.6" fill="#3c3b39"/>
<rect x="1236.1" y="600.0" width="3.4" height="7.8" fill="#fbfbf8"/>
<rect x="1236.1" y="602.6" width="3.4" height="2.6" fill="#3c3b39"/>
<rect x="1242.1" y="600.0" width="3.4" height="7.8" fill="#fbfbf8"/>
<rect x="1242.1" y="602.6" width="3.4" height="2.6" fill="#3c3b39"/>
<rect x="1248.1" y="600.0" width="3.4" height="7.8" fill="#fbfbf8"/>
<rect x="1248.1" y="602.6" width="3.4" height="2.6" fill="#3c3b39"/>
<rect x="1202.0" y="546.0" width="5.8" height="15.0" fill="#fbfbf8"/>
<rect x="1202.0" y="551.0" width="5.8" height="5.0" fill="#3c3b39"/>
<rect x="1210.0" y="546.0" width="5.8" height="15.0" fill="#fbfbf8"/>
<rect x="1210.0" y="551.0" width="5.8" height="5.0" fill="#3c3b39"/>
<rect x="1221.0" y="546.0" width="5.8" height="15.0" fill="#fbfbf8"/>
<rect x="1221.0" y="551.0" width="5.8" height="5.0" fill="#3c3b39"/>
<rect x="1229.7" y="546.0" width="5.8" height="15.0" fill="#fbfbf8"/>
<rect x="1229.7" y="551.0" width="5.8" height="5.0" fill="#3c3b39"/>
<rect x="1241.0" y="546.0" width="5.8" height="15.0" fill="#fbfbf8"/>
<rect x="1241.0" y="551.0" width="5.8" height="5.0" fill="#3c3b39"/>
<rect x="1249.0" y="546.0" width="5.8" height="15.0" fill="#fbfbf8"/>
<rect x="1249.0" y="551.0" width="5.8" height="5.0" fill="#3c3b39"/>
<rect x="1170.3" y="558.0" width="6.2" height="15.0" fill="#fbfbf8"/>
<rect x="1170.3" y="563.0" width="6.2" height="5.0" fill="#3c3b39"/>
<rect x="1178.5" y="558.0" width="6.2" height="15.0" fill="#fbfbf8"/>
<rect x="1178.5" y="563.0" width="6.2" height="5.0" fill="#3c3b39"/>
<rect x="1186.7" y="558.0" width="6.2" height="15.0" fill="#fbfbf8"/>
<rect x="1186.7" y="563.0" width="6.2" height="5.0" fill="#3c3b39"/>
<rect x="1104.8" y="546.0" width="13.2" height="6.2" fill="#fbfbf8"/>
<rect x="1109.2" y="546.0" width="4.4" height="6.2" fill="#3c3b39"/>
<rect x="1134.8" y="719.3" width="13.2" height="6.2" fill="#fbfbf8"/>
<rect x="1139.2" y="719.3" width="4.4" height="6.2" fill="#3c3b39"/>
<rect x="1104.8" y="554.6" width="13.2" height="6.2" fill="#fbfbf8"/>
<rect x="1109.2" y="554.6" width="4.4" height="6.2" fill="#3c3b39"/>
<rect x="1134.8" y="727.9" width="13.2" height="6.2" fill="#fbfbf8"/>
<rect x="1139.2" y="727.9" width="4.4" height="6.2" fill="#3c3b39"/>
<rect x="1104.8" y="563.2" width="13.2" height="6.2" fill="#fbfbf8"/>
<rect x="1109.2" y="563.2" width="4.4" height="6.2" fill="#3c3b39"/>
<rect x="1134.8" y="736.5" width="13.2" height="6.2" fill="#fbfbf8"/>
<rect x="1139.2" y="736.5" width="4.4" height="6.2" fill="#3c3b39"/>
<rect x="1210.5" y="695.7" width="14" height="15" rx="1.5" fill="#3a3a3a" stroke="#555" stroke-width="0.6"/>
<rect x="1226.0" y="695.7" width="14" height="15" rx="1.5" fill="#3a3a3a" stroke="#555" stroke-width="0.6"/>
<rect x="1241.5" y="695.7" width="14" height="15" rx="1.5" fill="#3a3a3a" stroke="#555" stroke-width="0.6"/>
<rect x="1257.0" y="695.7" width="14" height="15" rx="1.5" fill="#3a3a3a" stroke="#555" stroke-width="0.6"/>
<rect x="1210.5" y="712.2" width="14" height="15" rx="1.5" fill="#3a3a3a" stroke="#555" stroke-width="0.6"/>
<rect x="1226.0" y="712.2" width="14" height="15" rx="1.5" fill="#3a3a3a" stroke="#555" stroke-width="0.6"/>
<rect x="1241.5" y="712.2" width="14" height="15" rx="1.5" fill="#3a3a3a" stroke="#555" stroke-width="0.6"/>
<rect x="1257.0" y="712.2" width="14" height="15" rx="1.5" fill="#3a3a3a" stroke="#555" stroke-width="0.6"/>
<rect x="1210.5" y="728.7" width="14" height="15" rx="1.5" fill="#3a3a3a" stroke="#555" stroke-width="0.6"/>
<rect x="1226.0" y="728.7" width="14" height="15" rx="1.5" fill="#3a3a3a" stroke="#555" stroke-width="0.6"/>
<rect x="1241.5" y="728.7" width="14" height="15" rx="1.5" fill="#3a3a3a" stroke="#555" stroke-width="0.6"/>
<rect x="1257.0" y="728.7" width="14" height="15" rx="1.5" fill="#3a3a3a" stroke="#555" stroke-width="0.6"/>
<rect x="194" y="800.4" width="200.2" height="44.1" fill="#0a2440" opacity="0.45" filter="url(#sh)"/>
<rect x="192.0" y="797.4" width="200.2" height="44.1" fill="#18222e" />
<rect x="199.0" y="797.4" width="186.2" height="44.1" fill="#2e2e2e" />
<rect x="204.0" y="800.4" width="28.0" height="38.1" fill="#232323" stroke="#3c3c3c" stroke-width="1"/>
<rect x="352.2" y="800.4" width="28.0" height="38.1" fill="#232323" stroke="#3c3c3c" stroke-width="1"/>
<rect x="232.0" y="800.4" width="120.2" height="38.1" fill="#333333" />
<rect x="240.0" y="818.4" width="5" height="1.2" fill="#4a4a4a"/>
<rect x="251.0" y="818.4" width="5" height="1.2" fill="#4a4a4a"/>
<rect x="262.0" y="818.4" width="5" height="1.2" fill="#4a4a4a"/>
<rect x="273.0" y="818.4" width="5" height="1.2" fill="#4a4a4a"/>
<rect x="284.0" y="818.4" width="5" height="1.2" fill="#4a4a4a"/>
<rect x="295.0" y="818.4" width="5" height="1.2" fill="#4a4a4a"/>
<rect x="306.0" y="818.4" width="5" height="1.2" fill="#4a4a4a"/>
<rect x="317.0" y="818.4" width="5" height="1.2" fill="#4a4a4a"/>
<rect x="328.0" y="818.4" width="5" height="1.2" fill="#4a4a4a"/>
<rect x="339.0" y="818.4" width="5" height="1.2" fill="#4a4a4a"/>
<rect x="473" y="800.4" width="199.8" height="43.6" fill="#0a2440" opacity="0.45" filter="url(#sh)"/>
<rect x="471.0" y="797.4" width="199.8" height="43.6" fill="#18222e" />
<rect x="478.0" y="797.4" width="185.8" height="43.6" fill="#2e2e2e" />
<rect x="483.0" y="800.4" width="28.0" height="37.6" fill="#232323" stroke="#3c3c3c" stroke-width="1"/>
<rect x="630.8" y="800.4" width="28.0" height="37.6" fill="#232323" stroke="#3c3c3c" stroke-width="1"/>
<rect x="511.0" y="800.4" width="119.8" height="37.6" fill="#333333" />
<rect x="519.0" y="818.4" width="5" height="1.2" fill="#4a4a4a"/>
<rect x="530.0" y="818.4" width="5" height="1.2" fill="#4a4a4a"/>
<rect x="541.0" y="818.4" width="5" height="1.2" fill="#4a4a4a"/>
<rect x="552.0" y="818.4" width="5" height="1.2" fill="#4a4a4a"/>
<rect x="563.0" y="818.4" width="5" height="1.2" fill="#4a4a4a"/>
<rect x="574.0" y="818.4" width="5" height="1.2" fill="#4a4a4a"/>
<rect x="585.0" y="818.4" width="5" height="1.2" fill="#4a4a4a"/>
<rect x="596.0" y="818.4" width="5" height="1.2" fill="#4a4a4a"/>
<rect x="607.0" y="818.4" width="5" height="1.2" fill="#4a4a4a"/>
<rect x="618.0" y="818.4" width="5" height="1.2" fill="#4a4a4a"/>
<rect x="1105" y="755" width="154" height="92" fill="#0a1a2a" opacity="0.45" filter="url(#sh)"/>
<rect x="1102.7" y="751.0" width="154.3" height="89.5" fill="#2b2b2b" />
<rect x="1133.5" y="751.0" width="93.0" height="61.0" fill="#383838" />
<rect x="1102.7" y="812.0" width="154.3" height="28.5" fill="#363636" />
<rect x="1109" y="761" width="17" height="33" rx="8.5" fill="#2c4d6e" opacity="0.7"/>
<rect x="1233" y="761" width="17" height="33" rx="8.5" fill="#2c4d6e" opacity="0.7"/>
<rect x="1138.0" y="840.0" width="84.0" height="31.0" fill="#fff4a8" />
<rect x="1138.0" y="840.0" width="2.5" height="31.0" fill="#d8a020" />
<rect x="1219.5" y="840.0" width="2.5" height="31.0" fill="#d8a020" />
<rect x="1102.0" y="840.0" width="31.0" height="18.5" fill="#f6e58a" />
<rect x="1102.0" y="840.0" width="8.0" height="18.5" fill="#6e6040" />
<rect x="1124.0" y="840.0" width="8.0" height="18.5" fill="#f0b020" />
<rect x="1227.0" y="840.0" width="31.0" height="18.5" fill="#f6e58a" />
<rect x="1250.0" y="840.0" width="8.0" height="18.5" fill="#6e6040" />
<rect x="1227.0" y="840.0" width="8.0" height="18.5" fill="#f0b020" />
</svg></body></html>
